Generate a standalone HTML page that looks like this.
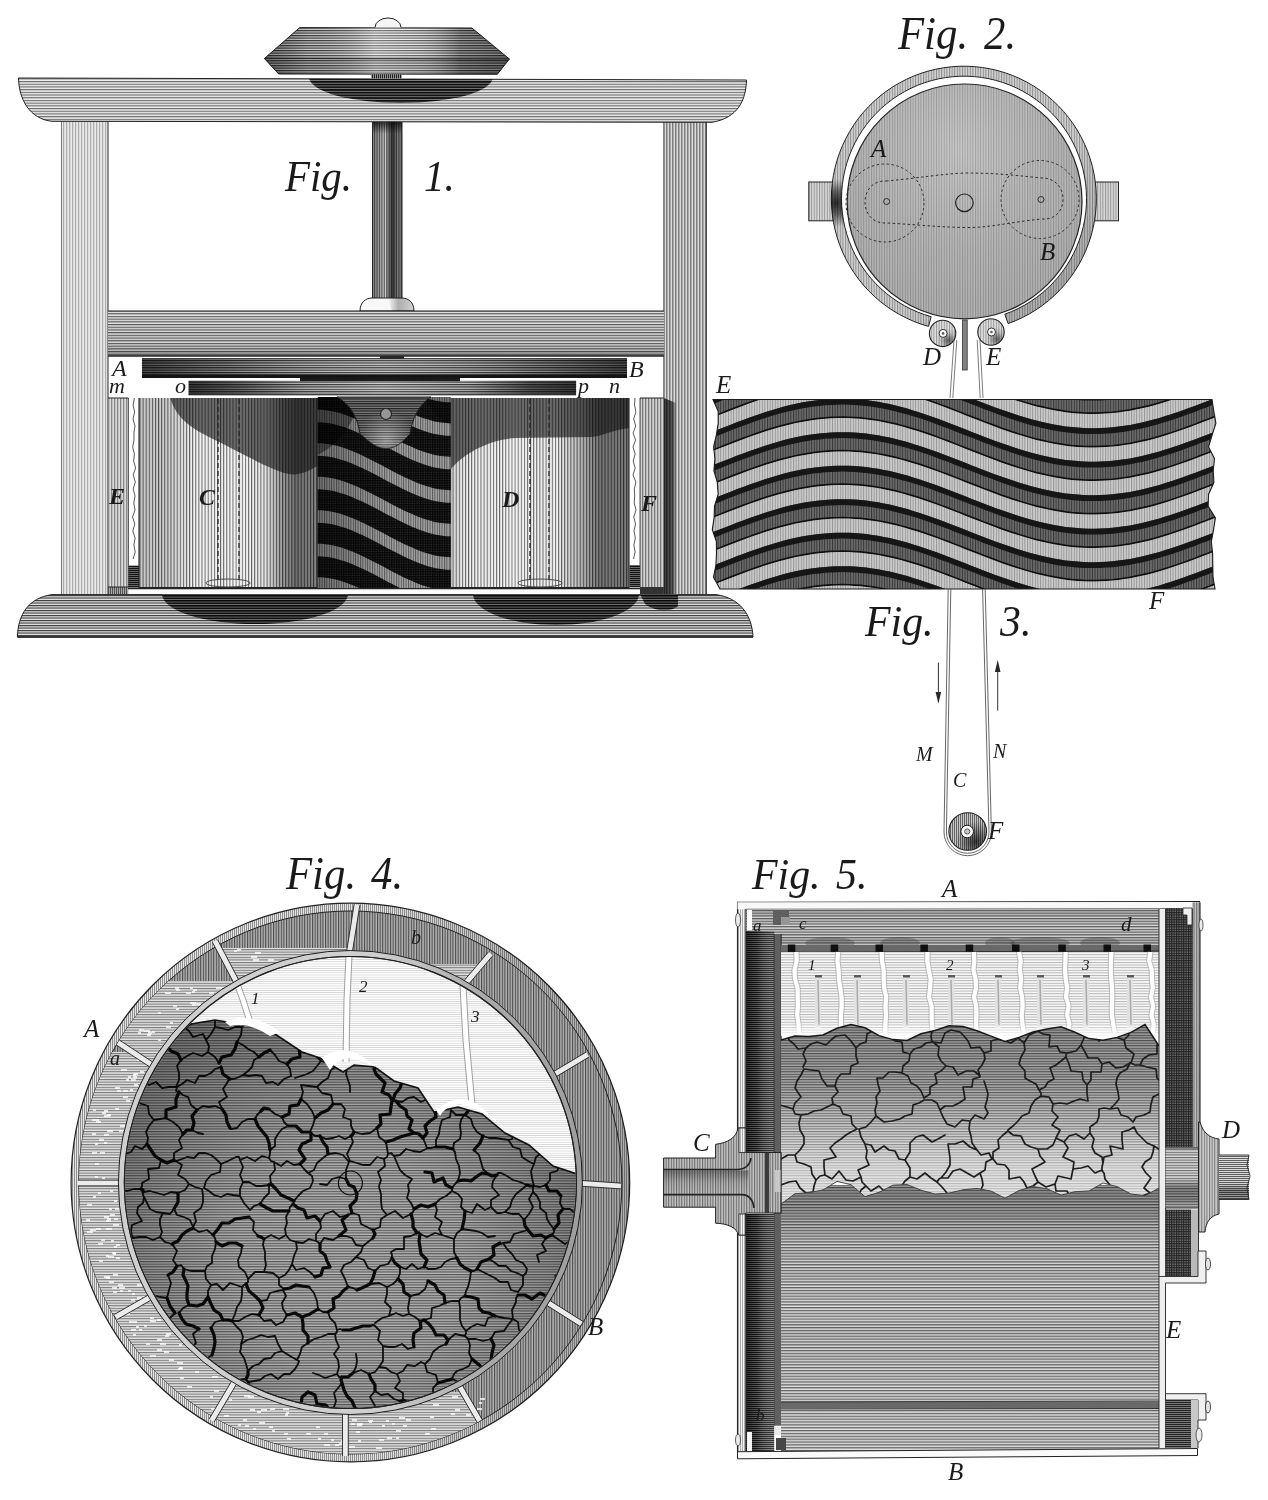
<!DOCTYPE html><html><head><meta charset="utf-8"><title>Plate</title><style>html,body{margin:0;padding:0;background:#fff}body{width:1268px;height:1500px;overflow:hidden;font-family:"Liberation Serif",serif}svg{display:block;filter:grayscale(1)}</style></head><body><svg width="1268" height="1500" viewBox="0 0 1268 1500" font-family="Liberation Serif, serif" font-style="italic" fill="#1a1a1a"><defs><pattern id="p0" width="3" height="8" patternUnits="userSpaceOnUse"><rect width="3" height="8" fill="#e8e8e8"/><rect width="1.2" height="8" fill="#acacac"/></pattern><pattern id="p1" width="3" height="8" patternUnits="userSpaceOnUse"><rect width="3" height="8" fill="#dadada"/><rect width="1.5" height="8" fill="#7d7d7d"/></pattern><linearGradient id="g0" x1="0" y1="0" x2="1" y2="0" gradientUnits="objectBoundingBox"><stop offset="0" stop-color="#000" stop-opacity="0.75"/><stop offset="0.7" stop-color="#000" stop-opacity="0.6"/><stop offset="1" stop-color="#000" stop-opacity="0.15"/></linearGradient><pattern id="p2" width="8" height="2.7" patternUnits="userSpaceOnUse"><rect width="8" height="2.7" fill="#f0f0f0"/><rect width="8" height="1.15" fill="#696969"/></pattern><clipPath id="c0"><path d="M18.5 78 L746.5 80 C746 100 738 118 712 122.3 L52 121.3 C30 119 19 100 18.5 78Z"/></clipPath><pattern id="p3" width="8" height="2.7" patternUnits="userSpaceOnUse"><rect width="8" height="2.7" fill="#828282"/><rect width="8" height="1.7" fill="#0a0a0a"/></pattern><pattern id="p4" width="8" height="2.5" patternUnits="userSpaceOnUse"><rect width="8" height="2.5" fill="#f0f0f0"/><rect width="8" height="1.25" fill="#3c3c3c"/></pattern><linearGradient id="g1" x1="0" y1="0" x2="1" y2="0" gradientUnits="objectBoundingBox"><stop offset="0" stop-color="#000" stop-opacity="0.45"/><stop offset="0.18" stop-color="#000" stop-opacity="0.12"/><stop offset="0.45" stop-color="#fff" stop-opacity="0.3"/><stop offset="0.62" stop-color="#fff" stop-opacity="0.15"/><stop offset="0.8" stop-color="#000" stop-opacity="0.3"/><stop offset="1" stop-color="#000" stop-opacity="0.45"/></linearGradient><pattern id="p5" width="2" height="8" patternUnits="userSpaceOnUse"><rect width="2" height="8" fill="#969696"/><rect width="1" height="8" fill="#1e1e1e"/></pattern><pattern id="p6" width="1.7" height="8" patternUnits="userSpaceOnUse"><rect width="1.7" height="8" fill="#ebebeb"/><rect width="0.8" height="8" fill="#5a5a5a"/></pattern><linearGradient id="g2" x1="0" y1="0" x2="1" y2="0" gradientUnits="objectBoundingBox"><stop offset="0" stop-color="#000" stop-opacity="0.42"/><stop offset="0.3" stop-color="#000" stop-opacity="0.2"/><stop offset="0.42" stop-color="#000" stop-opacity="0.08"/><stop offset="0.58" stop-color="#000" stop-opacity="0.5"/><stop offset="0.68" stop-color="#000" stop-opacity="0.72"/><stop offset="0.82" stop-color="#000" stop-opacity="0.45"/><stop offset="1" stop-color="#000" stop-opacity="0.4"/></linearGradient><linearGradient id="g3" x1="0" y1="0" x2="0" y2="1" gradientUnits="objectBoundingBox"><stop offset="0" stop-color="#000" stop-opacity="0.7"/><stop offset="1" stop-color="#000" stop-opacity="0"/></linearGradient><linearGradient id="g4" x1="0" y1="0" x2="1" y2="0" gradientUnits="objectBoundingBox"><stop offset="0" stop-color="#000" stop-opacity="0"/><stop offset="0.4" stop-color="#000" stop-opacity="0.3"/><stop offset="1" stop-color="#000" stop-opacity="0.15"/></linearGradient><pattern id="p7" width="8" height="2.7" patternUnits="userSpaceOnUse"><rect width="8" height="2.7" fill="#ebebeb"/><rect width="8" height="1.2" fill="#5a5a5a"/></pattern><linearGradient id="g5" x1="0" y1="0" x2="0" y2="1" gradientUnits="objectBoundingBox"><stop offset="0" stop-color="#000" stop-opacity="0"/><stop offset="0.75" stop-color="#000" stop-opacity="0.08"/><stop offset="1" stop-color="#000" stop-opacity="0.3"/></linearGradient><pattern id="p8" width="8" height="2.4" patternUnits="userSpaceOnUse"><rect width="8" height="2.4" fill="#cdcdcd"/><rect width="8" height="1.2" fill="#232323"/></pattern><linearGradient id="g6" x1="0" y1="0" x2="1" y2="0" gradientUnits="objectBoundingBox"><stop offset="0" stop-color="#000" stop-opacity="0.6"/><stop offset="0.2" stop-color="#000" stop-opacity="0.25"/><stop offset="0.5" stop-color="#fff" stop-opacity="0.12"/><stop offset="0.8" stop-color="#000" stop-opacity="0.25"/><stop offset="1" stop-color="#000" stop-opacity="0.6"/></linearGradient><pattern id="p9" width="8" height="2.4" patternUnits="userSpaceOnUse"><rect width="8" height="2.4" fill="#d7d7d7"/><rect width="8" height="1.15" fill="#323232"/></pattern><linearGradient id="g7" x1="0" y1="0" x2="1" y2="0" gradientUnits="objectBoundingBox"><stop offset="0" stop-color="#000" stop-opacity="0.7"/><stop offset="0.12" stop-color="#000" stop-opacity="0.5"/><stop offset="0.3" stop-color="#000" stop-opacity="0.1"/><stop offset="0.5" stop-color="#fff" stop-opacity="0.1"/><stop offset="0.72" stop-color="#000" stop-opacity="0.1"/><stop offset="0.88" stop-color="#000" stop-opacity="0.55"/><stop offset="1" stop-color="#000" stop-opacity="0.7"/></linearGradient><pattern id="p10" width="3" height="8" patternUnits="userSpaceOnUse"><rect width="3" height="8" fill="#dcdcdc"/><rect width="1.3" height="8" fill="#878787"/></pattern><pattern id="p11" width="2" height="8" patternUnits="userSpaceOnUse"><rect width="2" height="8" fill="#aaaaaa"/><rect width="1" height="8" fill="#505050"/></pattern><pattern id="p12" width="3" height="8" patternUnits="userSpaceOnUse"><rect width="3" height="8" fill="#d2d2d2"/><rect width="1.3" height="8" fill="#7a7a7a"/></pattern><pattern id="p13" width="8" height="2" patternUnits="userSpaceOnUse"><rect width="8" height="2" fill="#6e6e6e"/><rect width="8" height="1.1" fill="#141414"/></pattern><linearGradient id="g8" x1="0" y1="0" x2="1" y2="0" gradientUnits="objectBoundingBox"><stop offset="0" stop-color="#000" stop-opacity="0.2"/><stop offset="0.18" stop-color="#000" stop-opacity="0.15"/><stop offset="0.32" stop-color="#000" stop-opacity="0"/><stop offset="0.55" stop-color="#fff" stop-opacity="0.05"/><stop offset="0.7" stop-color="#000" stop-opacity="0.05"/><stop offset="0.8" stop-color="#000" stop-opacity="0.35"/><stop offset="0.88" stop-color="#000" stop-opacity="0.55"/><stop offset="1" stop-color="#000" stop-opacity="0.45"/></linearGradient><pattern id="p14" width="3.1" height="8" patternUnits="userSpaceOnUse"><rect width="3.1" height="8" fill="#f6f6f6"/><rect width="1" height="8" fill="#5f5f5f"/></pattern><clipPath id="c1"><rect x="139" y="398" width="178.7" height="189.6" fill="#000" /></clipPath><linearGradient id="g9" x1="0" y1="0" x2="1" y2="0" gradientUnits="objectBoundingBox"><stop offset="0" stop-color="#000" stop-opacity="0.12"/><stop offset="0.12" stop-color="#000" stop-opacity="0.02"/><stop offset="0.35" stop-color="#fff" stop-opacity="0.08"/><stop offset="0.6" stop-color="#000" stop-opacity="0.02"/><stop offset="0.74" stop-color="#000" stop-opacity="0.28"/><stop offset="0.84" stop-color="#000" stop-opacity="0.52"/><stop offset="1" stop-color="#000" stop-opacity="0.5"/></linearGradient><clipPath id="c2"><rect x="450.6" y="398" width="178.4" height="189.6" fill="#000" /></clipPath><clipPath id="c3"><rect x="317.7" y="397" width="132.9" height="191" fill="#000" /></clipPath><pattern id="p15" width="2.4" height="2.4" patternUnits="userSpaceOnUse"><rect width="2.4" height="2.4" fill="#323232"/><rect width="1.3" height="2.4" fill="#080808"/><rect width="2.4" height="1.3" fill="#080808"/></pattern><pattern id="p16" width="2.4" height="8" patternUnits="userSpaceOnUse"><rect width="2.4" height="8" fill="#a5a5a5"/><rect width="1" height="8" fill="#555555"/></pattern><linearGradient id="g10" x1="0" y1="0" x2="1" y2="0" gradientUnits="objectBoundingBox"><stop offset="0" stop-color="#000" stop-opacity="0.3"/><stop offset="1" stop-color="#000" stop-opacity="0"/></linearGradient><pattern id="p17" width="8" height="2.4" patternUnits="userSpaceOnUse"><rect width="8" height="2.4" fill="#aaaaaa"/><rect width="8" height="1.2" fill="#282828"/></pattern><radialGradient id="g11" cx="386" cy="440" r="30" gradientUnits="userSpaceOnUse" ><stop offset="0" stop-color="#fff" stop-opacity="0.3"/><stop offset="1" stop-color="#000" stop-opacity="0.25"/></radialGradient><pattern id="p18" width="8" height="2.5" patternUnits="userSpaceOnUse"><rect width="8" height="2.5" fill="#e8e8e8"/><rect width="8" height="1.15" fill="#373737"/></pattern><clipPath id="c4"><path d="M17.4 637 C18 615 28 598 52 594.6 L716 594.6 C740 598 752 615 753 637Z"/></clipPath><pattern id="p19" width="8" height="2.5" patternUnits="userSpaceOnUse"><rect width="8" height="2.5" fill="#787878"/><rect width="8" height="1.6" fill="#080808"/></pattern><pattern id="p20" width="2.6" height="8" patternUnits="userSpaceOnUse"><rect width="2.6" height="8" fill="#d7d7d7"/><rect width="1" height="8" fill="#969696"/></pattern><pattern id="p21" width="2.6" height="8" patternUnits="userSpaceOnUse"><rect width="2.6" height="8" fill="#d2d2d2"/><rect width="1" height="8" fill="#8c8c8c"/></pattern><radialGradient id="g12" cx="836" cy="203" r="24" gradientUnits="userSpaceOnUse" ><stop offset="0" stop-color="#000" stop-opacity="0.8"/><stop offset="0.5" stop-color="#000" stop-opacity="0.5"/><stop offset="1" stop-color="#000" stop-opacity="0"/></radialGradient><clipPath id="c5"><rect x="825" y="170" width="22" height="66" fill="#000" /></clipPath><linearGradient id="g13" x1="0" y1="0" x2="1" y2="1" gradientUnits="objectBoundingBox"><stop offset="0" stop-color="#000" stop-opacity="0"/><stop offset="0.6" stop-color="#000" stop-opacity="0"/><stop offset="1" stop-color="#000" stop-opacity="0.25"/></linearGradient><pattern id="p22" width="2.6" height="8" patternUnits="userSpaceOnUse"><rect width="2.6" height="8" fill="#c0c0c0"/><rect width="1" height="8" fill="#9b9b9b"/></pattern><radialGradient id="g14" cx="960" cy="150" r="150" gradientUnits="userSpaceOnUse" ><stop offset="0" stop-color="#fff" stop-opacity="0.12"/><stop offset="1" stop-color="#000" stop-opacity="0.08"/></radialGradient><pattern id="p23" width="2.6" height="8" patternUnits="userSpaceOnUse"><rect width="2.6" height="8" fill="#e1e1e1"/><rect width="1" height="8" fill="#969696"/></pattern><radialGradient id="g15" cx="948.6" cy="340.4" r="12" gradientUnits="userSpaceOnUse" ><stop offset="0" stop-color="#000" stop-opacity="0.55"/><stop offset="0.6" stop-color="#000" stop-opacity="0.12"/><stop offset="1" stop-color="#000" stop-opacity="0"/></radialGradient><radialGradient id="g16" cx="997" cy="339" r="12" gradientUnits="userSpaceOnUse" ><stop offset="0" stop-color="#000" stop-opacity="0.55"/><stop offset="0.6" stop-color="#000" stop-opacity="0.12"/><stop offset="1" stop-color="#000" stop-opacity="0"/></radialGradient><clipPath id="c6"><path d="M713.0 399.5 L718.2 411.3 L718.2 423.2 L716.4 435.0 L713.6 446.9 L714.9 458.7 L713.9 470.6 L717.3 482.4 L718.2 494.2 L714.5 506.1 L714.1 517.9 L712.3 529.8 L716.4 541.6 L716.5 553.5 L715.9 565.3 L713.5 577.2 L720.0 589.0 L1215.0 589.0 L1213.0 577.2 L1212.8 565.3 L1212.6 553.5 L1211.3 541.6 L1213.5 529.8 L1215.4 517.9 L1208.1 506.1 L1208.6 494.2 L1213.9 482.4 L1213.2 470.6 L1214.5 458.7 L1208.6 446.9 L1212.1 435.0 L1215.9 423.2 L1213.8 411.3 L1212.0 399.5Z"/></clipPath><pattern id="p24" width="2.6" height="8" patternUnits="userSpaceOnUse"><rect width="2.6" height="8" fill="#6c6c6c"/><rect width="1" height="8" fill="#373737"/></pattern><pattern id="p25" width="2.6" height="8" patternUnits="userSpaceOnUse"><rect width="2.6" height="8" fill="#cdcdcd"/><rect width="1" height="8" fill="#969696"/></pattern><pattern id="p26" width="2" height="8" patternUnits="userSpaceOnUse"><rect width="2" height="8" fill="#c8c8c8"/><rect width="1" height="8" fill="#646464"/></pattern><radialGradient id="g17" cx="975.7" cy="841.5" r="20" gradientUnits="userSpaceOnUse" ><stop offset="0" stop-color="#000" stop-opacity="0.7"/><stop offset="0.5" stop-color="#000" stop-opacity="0.35"/><stop offset="1" stop-color="#000" stop-opacity="0"/></radialGradient><pattern id="p27" width="2" height="8" patternUnits="userSpaceOnUse"><rect width="2" height="8" fill="#f0f0f0"/><rect width="1" height="8" fill="#969696"/></pattern><linearGradient id="g18" x1="0" y1="0" x2="1" y2="0" gradientUnits="objectBoundingBox"><stop offset="0" stop-color="#000" stop-opacity="0.05"/><stop offset="0.55" stop-color="#000" stop-opacity="0.05"/><stop offset="0.8" stop-color="#000" stop-opacity="0.22"/><stop offset="1" stop-color="#000" stop-opacity="0.28"/></linearGradient><pattern id="p28" width="2.6" height="8" patternUnits="userSpaceOnUse"><rect width="2.6" height="8" fill="#b4b4b4"/><rect width="1.1" height="8" fill="#4b4b4b"/></pattern><clipPath id="c7"><path fill-rule="evenodd" clip-rule="evenodd" d="M350.4 1182.5 m-271.5 0 a271.5 271.5 0 1 0 543 0 a271.5 271.5 0 1 0 -543 0 M350.4 1182.5 m-232 0 a232 232 0 1 0 464 0 a232 232 0 1 0 -464 0"/></clipPath><radialGradient id="g19" cx="470.4" cy="1032.5" r="170" gradientUnits="userSpaceOnUse" ><stop offset="0" stop-color="#fff" stop-opacity="0"/><stop offset="1" stop-color="#000" stop-opacity="0"/></radialGradient><pattern id="p29" width="8" height="2.6" patternUnits="userSpaceOnUse"><rect width="8" height="2.6" fill="#e4e4e4"/><rect width="8" height="1.1" fill="#787878"/></pattern><clipPath id="c8"><rect x="0" y="964" width="700" height="1600"/></clipPath><clipPath id="c9"><rect x="0" y="1392" width="700" height="1600"/></clipPath><clipPath id="c10"><rect x="0" y="0" width="700" height="1600"/></clipPath><clipPath id="c11"><rect x="0" y="0" width="700" height="1600"/></clipPath><clipPath id="c12"><rect x="0" y="0" width="700" height="1600"/></clipPath><clipPath id="c13"><rect x="0" y="1052" width="700" height="1600"/></clipPath><clipPath id="c14"><rect x="0" y="981" width="700" height="1600"/></clipPath><clipPath id="c15"><rect x="0" y="948" width="700" height="1600"/></clipPath><linearGradient id="g20" x1="0" y1="0" x2="1" y2="0" gradientUnits="objectBoundingBox"><stop offset="0" stop-color="#000" stop-opacity="0.08"/><stop offset="0.55" stop-color="#000" stop-opacity="0.08"/><stop offset="0.8" stop-color="#000" stop-opacity="0.25"/><stop offset="1" stop-color="#000" stop-opacity="0.3"/></linearGradient><pattern id="p30" width="8" height="2.2" patternUnits="userSpaceOnUse"><rect width="8" height="2.2" fill="#fefefe"/><rect width="8" height="0.8" fill="#d4d4d4"/></pattern><clipPath id="c16"><circle cx="350.4" cy="1182.5" r="225.4"/></clipPath><pattern id="p31" width="8" height="2.6" patternUnits="userSpaceOnUse"><rect width="8" height="2.6" fill="#bababa"/><rect width="8" height="1.2" fill="#585858"/></pattern><clipPath id="c17"><path d="M120.0 1120.0 L135.0 1080.0 L160.0 1045.0 L191.0 1024.0 L215.0 1020.0 L252.0 1026.0 L275.0 1034.0 L302.0 1052.0 L320.0 1058.0 L343.0 1072.0 L354.0 1065.0 L375.0 1067.0 L394.0 1081.0 L418.0 1088.0 L434.0 1112.0 L458.0 1107.0 L482.0 1114.0 L505.0 1133.0 L529.0 1145.0 L553.0 1166.0 L580.0 1175.0 L600.0 1200.0 L600.0 1440.0 L100.0 1440.0Z"/></clipPath><radialGradient id="g21" cx="350" cy="1260" r="320" gradientUnits="userSpaceOnUse" ><stop offset="0" stop-color="#000" stop-opacity="0"/><stop offset="0.35" stop-color="#000" stop-opacity="0.03"/><stop offset="0.6" stop-color="#000" stop-opacity="0.17"/><stop offset="0.8" stop-color="#000" stop-opacity="0.3"/><stop offset="1" stop-color="#000" stop-opacity="0.42"/></radialGradient><pattern id="p32" width="2" height="8" patternUnits="userSpaceOnUse"><rect width="2" height="8" fill="#f5f5f5"/><rect width="1" height="8" fill="#aaaaaa"/></pattern><pattern id="p33" width="2.6" height="8" patternUnits="userSpaceOnUse"><rect width="2.6" height="8" fill="#bebebe"/><rect width="1.2" height="8" fill="#787878"/></pattern><pattern id="p34" width="8" height="2.7" patternUnits="userSpaceOnUse"><rect width="8" height="2.7" fill="#e1e1e1"/><rect width="8" height="1.3" fill="#5f5f5f"/></pattern><linearGradient id="g22" x1="0" y1="0" x2="0" y2="1" gradientUnits="objectBoundingBox"><stop offset="0" stop-color="#000" stop-opacity="0.12"/><stop offset="0.5" stop-color="#000" stop-opacity="0"/><stop offset="1" stop-color="#000" stop-opacity="0.12"/></linearGradient><pattern id="p35" width="8" height="2" patternUnits="userSpaceOnUse"><rect width="8" height="2" fill="#787878"/><rect width="8" height="1" fill="#191919"/></pattern><linearGradient id="g23" x1="0" y1="0" x2="1" y2="0" gradientUnits="objectBoundingBox"><stop offset="0" stop-color="#000" stop-opacity="0.55"/><stop offset="0.4" stop-color="#000" stop-opacity="0.25"/><stop offset="1" stop-color="#fff" stop-opacity="0.12"/></linearGradient><pattern id="p36" width="8" height="2.6" patternUnits="userSpaceOnUse"><rect width="8" height="2.6" fill="#fafafa"/><rect width="8" height="1" fill="#b4b4b4"/></pattern><linearGradient id="g24" x1="0" y1="0" x2="0" y2="1" gradientUnits="objectBoundingBox"><stop offset="0" stop-color="#fff" stop-opacity="0"/><stop offset="1" stop-color="#fff" stop-opacity="0.9"/></linearGradient><pattern id="p37" width="8" height="2.86" patternUnits="userSpaceOnUse"><rect width="8" height="2.86" fill="#e4e4e4"/><rect width="8" height="1.35" fill="#646464"/></pattern><linearGradient id="g25" x1="0" y1="0" x2="0" y2="1" gradientUnits="objectBoundingBox"><stop offset="0" stop-color="#000" stop-opacity="0.32"/><stop offset="0.1" stop-color="#000" stop-opacity="0.28"/><stop offset="0.25" stop-color="#000" stop-opacity="0.08"/><stop offset="0.62" stop-color="#000" stop-opacity="0"/><stop offset="0.64" stop-color="#000" stop-opacity="0.05"/><stop offset="1" stop-color="#000" stop-opacity="0"/></linearGradient><pattern id="p38" width="8" height="2.86" patternUnits="userSpaceOnUse"><rect width="8" height="2.86" fill="#e1e1e1"/><rect width="8" height="1.3" fill="#646464"/></pattern><clipPath id="c18"><path d="M781.0 1040.0 L795.0 1036.1 L809.0 1036.5 L823.0 1034.9 L837.0 1028.3 L851.0 1024.5 L865.0 1027.8 L879.0 1035.6 L893.0 1039.6 L907.0 1040.4 L921.0 1033.8 L935.0 1030.5 L949.0 1025.8 L963.0 1026.5 L977.0 1030.8 L991.0 1036.1 L1005.0 1041.4 L1019.0 1037.4 L1033.0 1032.0 L1047.0 1028.9 L1061.0 1026.7 L1075.0 1032.2 L1089.0 1038.6 L1103.0 1040.2 L1117.0 1037.4 L1131.0 1032.4 L1145.0 1024.6 L1159.0 1046.0 L1159.0 1188.0 L1145.0 1195.7 L1131.0 1194.0 L1117.0 1186.6 L1103.0 1183.0 L1089.0 1190.9 L1075.0 1191.7 L1061.0 1195.1 L1047.0 1188.8 L1033.0 1186.6 L1019.0 1190.5 L1005.0 1198.2 L991.0 1191.1 L977.0 1188.4 L963.0 1189.8 L949.0 1193.1 L935.0 1194.0 L921.0 1190.2 L907.0 1184.5 L893.0 1185.2 L879.0 1192.3 L865.0 1196.6 L851.0 1184.7 L837.0 1181.4 L823.0 1189.9 L809.0 1192.7 L795.0 1193.7 L781.0 1204.0Z"/></clipPath><pattern id="p39" width="8" height="2.6" patternUnits="userSpaceOnUse"><rect width="8" height="2.6" fill="#cdcdcd"/><rect width="8" height="1.15" fill="#646464"/></pattern><linearGradient id="g26" x1="0" y1="0" x2="0" y2="1" gradientUnits="objectBoundingBox"><stop offset="0" stop-color="#000" stop-opacity="0.25"/><stop offset="0.35" stop-color="#000" stop-opacity="0.15"/><stop offset="0.6" stop-color="#fff" stop-opacity="0.15"/><stop offset="0.8" stop-color="#fff" stop-opacity="0.5"/><stop offset="1" stop-color="#fff" stop-opacity="0.6"/></linearGradient><pattern id="p40" width="2.4" height="2.4" patternUnits="userSpaceOnUse"><rect width="2.4" height="2.4" fill="#787878"/><rect width="1.1" height="2.4" fill="#232323"/><rect width="2.4" height="1.1" fill="#232323"/></pattern><pattern id="p41" width="8" height="2.6" patternUnits="userSpaceOnUse"><rect width="8" height="2.6" fill="#e4e4e4"/><rect width="8" height="1.1" fill="#6e6e6e"/></pattern><linearGradient id="g27" x1="0" y1="0" x2="0" y2="1" gradientUnits="objectBoundingBox"><stop offset="0" stop-color="#000" stop-opacity="0.05"/><stop offset="0.5" stop-color="#000" stop-opacity="0.03"/><stop offset="0.68" stop-color="#000" stop-opacity="0.4"/><stop offset="0.88" stop-color="#000" stop-opacity="0.35"/><stop offset="1" stop-color="#000" stop-opacity="0.12"/></linearGradient><pattern id="p42" width="2.6" height="8" patternUnits="userSpaceOnUse"><rect width="2.6" height="8" fill="#d2d2d2"/><rect width="1.1" height="8" fill="#787878"/></pattern><pattern id="p43" width="8" height="2" patternUnits="userSpaceOnUse"><rect width="8" height="2" fill="#e1e1e1"/><rect width="8" height="1" fill="#5f5f5f"/></pattern><linearGradient id="g28" x1="0" y1="0" x2="0" y2="1" gradientUnits="objectBoundingBox"><stop offset="0" stop-color="#000" stop-opacity="0"/><stop offset="0.65" stop-color="#000" stop-opacity="0.05"/><stop offset="0.8" stop-color="#000" stop-opacity="0.4"/><stop offset="1" stop-color="#000" stop-opacity="0.3"/></linearGradient><pattern id="p44" width="2.4" height="2.4" patternUnits="userSpaceOnUse"><rect width="2.4" height="2.4" fill="#7d7d7d"/><rect width="1.1" height="2.4" fill="#232323"/><rect width="2.4" height="1.1" fill="#232323"/></pattern><pattern id="p45" width="8" height="2" patternUnits="userSpaceOnUse"><rect width="8" height="2" fill="#787878"/><rect width="8" height="1" fill="#232323"/></pattern><pattern id="p46" width="2.6" height="8" patternUnits="userSpaceOnUse"><rect width="2.6" height="8" fill="#c6c6c6"/><rect width="1.1" height="8" fill="#696969"/></pattern><linearGradient id="g29" x1="0" y1="0" x2="0" y2="1" gradientUnits="objectBoundingBox"><stop offset="0" stop-color="#000" stop-opacity="0.35"/><stop offset="0.5" stop-color="#000" stop-opacity="0.08"/><stop offset="1" stop-color="#000" stop-opacity="0"/></linearGradient><linearGradient id="g30" x1="0" y1="0" x2="1" y2="0" gradientUnits="objectBoundingBox"><stop offset="0" stop-color="#000" stop-opacity="0.55"/><stop offset="0.4" stop-color="#000" stop-opacity="0.25"/><stop offset="1" stop-color="#fff" stop-opacity="0.12"/></linearGradient></defs><rect width="1268" height="1500" fill="#fff"/><rect x="61.5" y="121" width="46.5" height="474" fill="url(#p0)" />
<line x1="61.5" y1="121" x2="61.5" y2="594" stroke="#5a5a5a" stroke-width="0.8" />
<line x1="108" y1="121" x2="108" y2="594" stroke="#282828" stroke-width="1" />
<rect x="663.8" y="121" width="42.5" height="474" fill="url(#p1)" />
<line x1="663.8" y1="121" x2="663.8" y2="594" stroke="#3c3c3c" stroke-width="0.8" />
<line x1="706.3" y1="121" x2="706.3" y2="594" stroke="#282828" stroke-width="1" />
<path d="M663.8 398 L676 403 L676 594 L663.8 594Z" fill="url(#g0)" />
<path d="M18.5 78 L746.5 80 C746 100 738 118 712 122.3 L52 121.3 C30 119 19 100 18.5 78Z" fill="url(#p2)" stroke="#222" stroke-width="1" />
<g clip-path="url(#c0)"><ellipse cx="401" cy="77" rx="92" ry="26" fill="url(#p3)" /></g>
<path d="M299.7 27.6 L471.9 28 L509.4 59 L497.3 74.3 L278.7 74 L264.4 58.5Z" fill="url(#p4)" stroke="#222" stroke-width="1" />
<path d="M299.7 27.6 L471.9 28 L509.4 59 L497.3 74.3 L278.7 74 L264.4 58.5Z" fill="url(#g1)" />
<path d="M264.4 58.5 L509.4 59 L497.3 74.3 L278.7 74Z" fill="#000000" opacity="0.12"/>
<line x1="264.4" y1="58.5" x2="509.4" y2="59" stroke="#222" stroke-width="1" />
<path d="M375 27.5 A13 9.5 0 0 1 401 27.5" fill="#f5f5f5" stroke="#222" stroke-width="1" />
<rect x="371" y="74.3" width="31" height="4" fill="url(#p5)" />
<rect x="372.5" y="122" width="29.5" height="176" fill="url(#p6)" />
<rect x="372.5" y="122" width="29.5" height="176" fill="url(#g2)" />
<rect x="372.5" y="122" width="29.5" height="12" fill="url(#g3)" />
<line x1="372.5" y1="122" x2="372.5" y2="298" stroke="#222" stroke-width="1" />
<line x1="402" y1="122" x2="402" y2="298" stroke="#222" stroke-width="1" />
<path d="M360 311 C360 302 366 298 372 298 L402 298 C408 298 414 302 414 311Z" fill="#f8f8f8" stroke="#222" stroke-width="1" />
<path d="M388 298 L402 298 C408 298 414 302 414 311 L392 311Z" fill="url(#g4)" />
<rect x="108" y="311" width="556" height="45" fill="url(#p7)" />
<rect x="108" y="311" width="556" height="45" fill="url(#g5)" />
<line x1="108" y1="311" x2="664" y2="311" stroke="#222" stroke-width="1.2" />
<line x1="108" y1="356" x2="664" y2="356" stroke="#222" stroke-width="1.5" />
<rect x="142" y="358.7" width="485" height="19.3" fill="url(#p8)" />
<rect x="142" y="358.7" width="485" height="19.3" fill="url(#g6)" />
<rect x="142" y="374.5" width="485" height="3.5" fill="#141414" />
<line x1="142" y1="358.7" x2="627" y2="358.7" stroke="#222" stroke-width="1" />
<rect x="380" y="356" width="24" height="3" fill="#282828" />
<rect x="188.6" y="380.8" width="387.5" height="14" fill="url(#p9)" />
<rect x="188.6" y="380.8" width="387.5" height="14" fill="url(#g7)" />
<rect x="300" y="378" width="160" height="3.2" fill="#191919" />
<line x1="188.6" y1="394.8" x2="576" y2="394.8" stroke="#222" stroke-width="1" />
<rect x="108" y="398" width="20.4" height="189" fill="url(#p10)" />
<line x1="108" y1="398" x2="128.4" y2="398" stroke="#222" stroke-width="1" />
<line x1="128.4" y1="398" x2="128.4" y2="587" stroke="#222" stroke-width="0.8" />
<rect x="108" y="587" width="20.4" height="7" fill="url(#p11)" />
<line x1="108" y1="587" x2="139" y2="587" stroke="#222" stroke-width="1" />
<rect x="640" y="398" width="23.8" height="189" fill="url(#p12)" />
<line x1="640" y1="398" x2="663.8" y2="398" stroke="#222" stroke-width="1" />
<line x1="640" y1="398" x2="640" y2="587" stroke="#222" stroke-width="0.8" />
<rect x="640" y="587" width="23.8" height="7" fill="#323232" />
<rect x="128.4" y="565.5" width="10.6" height="22" fill="url(#p13)" />
<rect x="629.5" y="565" width="10.5" height="22.5" fill="url(#p13)" />
<path d="M134.4 398.0 L133.1 405.0 L134.6 412.0 L133.0 419.0 L135.0 426.0 L133.9 433.0 L134.0 440.0 L132.7 447.0 L134.4 454.0 L133.6 461.0 L135.6 468.0 L133.2 475.0 L135.3 482.0 L133.2 489.0 L135.0 496.0 L133.8 503.0 L135.0 510.0 L132.6 517.0 L134.8 524.0 L132.8 531.0 L135.1 538.0 L133.9 545.0 L135.2 552.0 L133.1 559.0" fill="none" stroke="#464646" stroke-width="0.9" />
<path d="M635.0 398.0 L634.5 405.0 L635.9 412.0 L633.7 419.0 L635.7 426.0 L633.1 433.0 L635.6 440.0 L633.0 447.0 L635.1 454.0 L633.2 461.0 L635.2 468.0 L633.0 475.0 L635.9 482.0 L634.3 489.0 L634.7 496.0 L634.2 503.0 L636.0 510.0 L633.8 517.0 L635.5 524.0 L634.0 531.0 L635.3 538.0 L633.9 545.0 L635.1 552.0 L633.6 559.0" fill="none" stroke="#464646" stroke-width="0.9" />
<rect x="139" y="398" width="178.7" height="189.6" fill="url(#p14)" /><rect x="139" y="398" width="178.7" height="189.6" fill="url(#g8)" /><g clip-path="url(#c1)"><path d="M170 397 C176 420 195 430 213 439 C240 452 270 470 289 474 C300 476 310 470 318 466 L318 397Z" fill="#0f0f0f" opacity="0.6"/></g><path d="M139 398 L139 587.6 L317.7 587.6 L317.7 398" fill="none" stroke="#222" stroke-width="1.1" />
<rect x="450.6" y="398" width="178.4" height="189.6" fill="url(#p14)" /><rect x="450.6" y="398" width="178.4" height="189.6" fill="url(#g9)" /><g clip-path="url(#c2)"><path d="M450 397 L450 470 C465 452 490 440 515 438 L590 437 C600 437 612 430 629 428 L629 397Z" fill="#0f0f0f" opacity="0.6"/></g><path d="M450.6 398 L450.6 587.6 L629 587.6 L629 398" fill="none" stroke="#222" stroke-width="1.1" />
<line x1="218" y1="399" x2="218" y2="580" stroke="#282828" stroke-width="1.3" stroke-dasharray="5 3"/>
<line x1="239" y1="399" x2="239" y2="580" stroke="#282828" stroke-width="1.3" stroke-dasharray="5 3"/>
<ellipse cx="228" cy="583" rx="22" ry="4" fill="none" stroke="#3c3c3c" stroke-width="0.9" />
<line x1="530" y1="399" x2="530" y2="580" stroke="#282828" stroke-width="1.3" stroke-dasharray="5 3"/>
<line x1="549" y1="399" x2="549" y2="580" stroke="#282828" stroke-width="1.3" stroke-dasharray="5 3"/>
<ellipse cx="540" cy="583" rx="22" ry="4" fill="none" stroke="#3c3c3c" stroke-width="0.9" />
<g clip-path="url(#c3)"><rect x="317.7" y="397" width="132.9" height="191" fill="url(#p15)" /><path d="M315.7 275.7 L321.7 275.8 L327.6 276.4 L333.6 277.5 L339.5 279.1 L345.5 281.0 L351.4 283.2 L357.4 285.8 L363.3 288.5 L369.3 291.4 L375.2 294.5 L381.2 297.6 L387.1 300.8 L393.1 303.9 L399.0 307.0 L405.0 309.9 L410.9 312.6 L416.9 315.2 L422.8 317.4 L428.8 319.3 L434.7 320.9 L440.7 322.0 L446.6 322.6 L452.6 322.7 L452.6 335.3 L446.6 335.2 L440.7 334.6 L434.7 333.5 L428.8 331.9 L422.8 330.0 L416.9 327.8 L410.9 325.2 L405.0 322.5 L399.0 319.6 L393.1 316.5 L387.1 313.4 L381.2 310.2 L375.2 307.1 L369.3 304.0 L363.3 301.1 L357.4 298.4 L351.4 295.8 L345.5 293.6 L339.5 291.7 L333.6 290.1 L327.6 289.0 L321.7 288.4 L315.7 288.3Z" fill="url(#p16)" /><path d="M315.7 309.2 L321.7 309.3 L327.6 309.9 L333.6 311.0 L339.5 312.6 L345.5 314.5 L351.4 316.7 L357.4 319.3 L363.3 322.0 L369.3 324.9 L375.2 328.0 L381.2 331.1 L387.1 334.3 L393.1 337.4 L399.0 340.5 L405.0 343.4 L410.9 346.1 L416.9 348.7 L422.8 350.9 L428.8 352.8 L434.7 354.4 L440.7 355.5 L446.6 356.1 L452.6 356.2 L452.6 368.8 L446.6 368.7 L440.7 368.1 L434.7 367.0 L428.8 365.4 L422.8 363.5 L416.9 361.3 L410.9 358.7 L405.0 356.0 L399.0 353.1 L393.1 350.0 L387.1 346.9 L381.2 343.7 L375.2 340.6 L369.3 337.5 L363.3 334.6 L357.4 331.9 L351.4 329.3 L345.5 327.1 L339.5 325.2 L333.6 323.6 L327.6 322.5 L321.7 321.9 L315.7 321.8Z" fill="url(#p16)" /><path d="M315.7 342.7 L321.7 342.8 L327.6 343.4 L333.6 344.5 L339.5 346.1 L345.5 348.0 L351.4 350.2 L357.4 352.8 L363.3 355.5 L369.3 358.4 L375.2 361.5 L381.2 364.6 L387.1 367.8 L393.1 370.9 L399.0 374.0 L405.0 376.9 L410.9 379.6 L416.9 382.2 L422.8 384.4 L428.8 386.3 L434.7 387.9 L440.7 389.0 L446.6 389.6 L452.6 389.7 L452.6 402.3 L446.6 402.2 L440.7 401.6 L434.7 400.5 L428.8 398.9 L422.8 397.0 L416.9 394.8 L410.9 392.2 L405.0 389.5 L399.0 386.6 L393.1 383.5 L387.1 380.4 L381.2 377.2 L375.2 374.1 L369.3 371.0 L363.3 368.1 L357.4 365.4 L351.4 362.8 L345.5 360.6 L339.5 358.7 L333.6 357.1 L327.6 356.0 L321.7 355.4 L315.7 355.3Z" fill="url(#p16)" /><path d="M315.7 376.2 L321.7 376.3 L327.6 376.9 L333.6 378.0 L339.5 379.6 L345.5 381.5 L351.4 383.7 L357.4 386.3 L363.3 389.0 L369.3 391.9 L375.2 395.0 L381.2 398.1 L387.1 401.3 L393.1 404.4 L399.0 407.5 L405.0 410.4 L410.9 413.1 L416.9 415.7 L422.8 417.9 L428.8 419.8 L434.7 421.4 L440.7 422.5 L446.6 423.1 L452.6 423.2 L452.6 435.8 L446.6 435.7 L440.7 435.1 L434.7 434.0 L428.8 432.4 L422.8 430.5 L416.9 428.3 L410.9 425.7 L405.0 423.0 L399.0 420.1 L393.1 417.0 L387.1 413.9 L381.2 410.7 L375.2 407.6 L369.3 404.5 L363.3 401.6 L357.4 398.9 L351.4 396.3 L345.5 394.1 L339.5 392.2 L333.6 390.6 L327.6 389.5 L321.7 388.9 L315.7 388.8Z" fill="url(#p16)" /><path d="M315.7 409.7 L321.7 409.8 L327.6 410.4 L333.6 411.5 L339.5 413.1 L345.5 415.0 L351.4 417.2 L357.4 419.8 L363.3 422.5 L369.3 425.4 L375.2 428.5 L381.2 431.6 L387.1 434.8 L393.1 437.9 L399.0 441.0 L405.0 443.9 L410.9 446.6 L416.9 449.2 L422.8 451.4 L428.8 453.3 L434.7 454.9 L440.7 456.0 L446.6 456.6 L452.6 456.7 L452.6 469.3 L446.6 469.2 L440.7 468.6 L434.7 467.5 L428.8 465.9 L422.8 464.0 L416.9 461.8 L410.9 459.2 L405.0 456.5 L399.0 453.6 L393.1 450.5 L387.1 447.4 L381.2 444.2 L375.2 441.1 L369.3 438.0 L363.3 435.1 L357.4 432.4 L351.4 429.8 L345.5 427.6 L339.5 425.7 L333.6 424.1 L327.6 423.0 L321.7 422.4 L315.7 422.3Z" fill="url(#p16)" /><path d="M315.7 443.2 L321.7 443.3 L327.6 443.9 L333.6 445.0 L339.5 446.6 L345.5 448.5 L351.4 450.7 L357.4 453.3 L363.3 456.0 L369.3 458.9 L375.2 462.0 L381.2 465.1 L387.1 468.3 L393.1 471.4 L399.0 474.5 L405.0 477.4 L410.9 480.1 L416.9 482.7 L422.8 484.9 L428.8 486.8 L434.7 488.4 L440.7 489.5 L446.6 490.1 L452.6 490.2 L452.6 502.8 L446.6 502.7 L440.7 502.1 L434.7 501.0 L428.8 499.4 L422.8 497.5 L416.9 495.3 L410.9 492.7 L405.0 490.0 L399.0 487.1 L393.1 484.0 L387.1 480.9 L381.2 477.7 L375.2 474.6 L369.3 471.5 L363.3 468.6 L357.4 465.9 L351.4 463.3 L345.5 461.1 L339.5 459.2 L333.6 457.6 L327.6 456.5 L321.7 455.9 L315.7 455.8Z" fill="url(#p16)" /><path d="M315.7 476.7 L321.7 476.8 L327.6 477.4 L333.6 478.5 L339.5 480.1 L345.5 482.0 L351.4 484.2 L357.4 486.8 L363.3 489.5 L369.3 492.4 L375.2 495.5 L381.2 498.6 L387.1 501.8 L393.1 504.9 L399.0 508.0 L405.0 510.9 L410.9 513.6 L416.9 516.2 L422.8 518.4 L428.8 520.3 L434.7 521.9 L440.7 523.0 L446.6 523.6 L452.6 523.7 L452.6 536.3 L446.6 536.2 L440.7 535.6 L434.7 534.5 L428.8 532.9 L422.8 531.0 L416.9 528.8 L410.9 526.2 L405.0 523.5 L399.0 520.6 L393.1 517.5 L387.1 514.4 L381.2 511.2 L375.2 508.1 L369.3 505.0 L363.3 502.1 L357.4 499.4 L351.4 496.8 L345.5 494.6 L339.5 492.7 L333.6 491.1 L327.6 490.0 L321.7 489.4 L315.7 489.3Z" fill="url(#p16)" /><path d="M315.7 510.2 L321.7 510.3 L327.6 510.9 L333.6 512.0 L339.5 513.6 L345.5 515.5 L351.4 517.7 L357.4 520.3 L363.3 523.0 L369.3 525.9 L375.2 529.0 L381.2 532.1 L387.1 535.3 L393.1 538.4 L399.0 541.5 L405.0 544.4 L410.9 547.1 L416.9 549.7 L422.8 551.9 L428.8 553.8 L434.7 555.4 L440.7 556.5 L446.6 557.1 L452.6 557.2 L452.6 569.8 L446.6 569.7 L440.7 569.1 L434.7 568.0 L428.8 566.4 L422.8 564.5 L416.9 562.3 L410.9 559.7 L405.0 557.0 L399.0 554.1 L393.1 551.0 L387.1 547.9 L381.2 544.7 L375.2 541.6 L369.3 538.5 L363.3 535.6 L357.4 532.9 L351.4 530.3 L345.5 528.1 L339.5 526.2 L333.6 524.6 L327.6 523.5 L321.7 522.9 L315.7 522.8Z" fill="url(#p16)" /><path d="M315.7 543.7 L321.7 543.8 L327.6 544.4 L333.6 545.5 L339.5 547.1 L345.5 549.0 L351.4 551.2 L357.4 553.8 L363.3 556.5 L369.3 559.4 L375.2 562.5 L381.2 565.6 L387.1 568.8 L393.1 571.9 L399.0 575.0 L405.0 577.9 L410.9 580.6 L416.9 583.2 L422.8 585.4 L428.8 587.3 L434.7 588.9 L440.7 590.0 L446.6 590.6 L452.6 590.7 L452.6 603.3 L446.6 603.2 L440.7 602.6 L434.7 601.5 L428.8 599.9 L422.8 598.0 L416.9 595.8 L410.9 593.2 L405.0 590.5 L399.0 587.6 L393.1 584.5 L387.1 581.4 L381.2 578.2 L375.2 575.1 L369.3 572.0 L363.3 569.1 L357.4 566.4 L351.4 563.8 L345.5 561.6 L339.5 559.7 L333.6 558.1 L327.6 557.0 L321.7 556.4 L315.7 556.3Z" fill="url(#p16)" /><path d="M315.7 577.2 L321.7 577.3 L327.6 577.9 L333.6 579.0 L339.5 580.6 L345.5 582.5 L351.4 584.7 L357.4 587.3 L363.3 590.0 L369.3 592.9 L375.2 596.0 L381.2 599.1 L387.1 602.3 L393.1 605.4 L399.0 608.5 L405.0 611.4 L410.9 614.1 L416.9 616.7 L422.8 618.9 L428.8 620.8 L434.7 622.4 L440.7 623.5 L446.6 624.1 L452.6 624.2 L452.6 636.8 L446.6 636.7 L440.7 636.1 L434.7 635.0 L428.8 633.4 L422.8 631.5 L416.9 629.3 L410.9 626.7 L405.0 624.0 L399.0 621.1 L393.1 618.0 L387.1 614.9 L381.2 611.7 L375.2 608.6 L369.3 605.5 L363.3 602.6 L357.4 599.9 L351.4 597.3 L345.5 595.1 L339.5 593.2 L333.6 591.6 L327.6 590.5 L321.7 589.9 L315.7 589.8Z" fill="url(#p16)" /><rect x="317.7" y="397" width="70" height="200" fill="url(#g10)" /><path d="M317 397 L360 397 C356 420 340 445 317 455Z" fill="#000000" opacity="0.4"/><path d="M451 397 L425 397 C430 410 440 420 451 425Z" fill="#000000" opacity="0.25"/></g>
<path d="M337 397 L431 397 C418 405 412 420 410 434 C404 440 398 448 386 448.5 C374 448 368 440 360 434 C358 420 352 405 337 397Z" fill="url(#p17)" stroke="#222" stroke-width="1" />
<path d="M337 397 L431 397 C418 405 412 420 410 434 C404 440 398 448 386 448.5 C374 448 368 440 360 434 C358 420 352 405 337 397Z" fill="url(#g11)" />
<circle cx="386" cy="414" r="5.5" fill="#969696" stroke="#222" stroke-width="1.2" />
<rect x="128.4" y="589.2" width="511.6" height="5" fill="#fafafa" />
<line x1="128" y1="588.6" x2="640" y2="588.6" stroke="#222" stroke-width="1.3" />
<path d="M17.4 637 C18 615 28 598 52 594.6 L716 594.6 C740 598 752 615 753 637Z" fill="url(#p18)" stroke="#222" stroke-width="1" />
<g clip-path="url(#c4)"><ellipse cx="255" cy="594" rx="93" ry="30" fill="url(#p19)" /><ellipse cx="556" cy="594" rx="83" ry="31" fill="url(#p19)" /><path d="M640 594 L678 594 L678 606 C672 612 655 612 645 604Z" fill="url(#p19)" /></g>
<line x1="17.4" y1="637" x2="753" y2="637" stroke="#222" stroke-width="1.5" />
<text transform="translate(285 190.5) scale(0.93 1)" font-size="44" >Fig.</text>
<text transform="translate(424 190.5) scale(0.93 1)" font-size="44" >1.</text>
<text x="112" y="376" font-size="24" >A</text>
<text x="109" y="393" font-size="22" >m</text>
<text x="175" y="393" font-size="22" >o</text>
<text x="109" y="503.5" font-size="24" font-weight="bold">E</text>
<text x="199" y="504.5" font-size="24" font-weight="bold">C</text>
<text x="629" y="377" font-size="24" >B</text>
<text x="578" y="393" font-size="22" >p</text>
<text x="609" y="393" font-size="22" >n</text>
<text x="502" y="507" font-size="24" font-weight="bold">D</text>
<text x="641" y="511" font-size="24" font-weight="bold">F</text>
<rect x="808.8" y="182" width="26" height="38.8" fill="url(#p20)" stroke="#222" stroke-width="1"/>
<rect x="1093" y="182" width="25.5" height="38.8" fill="url(#p20)" stroke="#222" stroke-width="1"/>
<path d="M928.5 326.4 A132.5 132.5 0 1 1 1008.1 323.6 L1004.8 314.2 A122.5 122.5 0 1 0 931.2 316.7Z" fill="url(#p21)" stroke="#222" stroke-width="1" />
<path d="M928.5 326.4 A132.5 132.5 0 1 1 1008.1 323.6 L1004.8 314.2 A122.5 122.5 0 1 0 931.2 316.7Z" fill="url(#g12)" clip-path="url(#c5)"/>
<path d="M928.5 326.4 A132.5 132.5 0 1 1 1008.1 323.6 L1004.8 314.2 A122.5 122.5 0 1 0 931.2 316.7Z" fill="url(#g13)" />
<circle cx="964.6" cy="201.4" r="117.4" fill="url(#p22)" stroke="#222" stroke-width="1.2" />
<circle cx="964.6" cy="201.4" r="117.4" fill="url(#g14)" />
<circle cx="885" cy="203" r="39" fill="none" stroke="#2d2d2d" stroke-width="1" stroke-dasharray="2.5 2.5"/>
<circle cx="1040" cy="199.5" r="39" fill="none" stroke="#2d2d2d" stroke-width="1" stroke-dasharray="2.5 2.5"/>
<path d="M886 181 C920 178 940 174 965 173 C1000 173 1020 176 1042 178 C1070 178 1070 221 1042 219 C1010 222 990 228 965 227.5 C935 227 910 224 886 223 C858 224 858 180 886 181Z" fill="none" stroke="#2d2d2d" stroke-width="1" stroke-dasharray="2.5 2.5"/>
<circle cx="964.4" cy="202.8" r="8.8" fill="none" stroke="#222" stroke-width="1.2" />
<circle cx="886.6" cy="201.5" r="3" fill="none" stroke="#222" stroke-width="0.9" />
<circle cx="1041" cy="199.5" r="3" fill="none" stroke="#222" stroke-width="0.9" />
<circle cx="942.6" cy="333.4" r="13.2" fill="url(#p23)" stroke="#222" stroke-width="1.1" />
<circle cx="942.6" cy="333.4" r="13.2" fill="url(#g15)" />
<circle cx="943.1" cy="333.4" r="4" fill="#fafafa" stroke="#222" stroke-width="0.9" />
<circle cx="943.1" cy="333.4" r="1.3" fill="#5a5a5a" />
<circle cx="991" cy="332" r="13.2" fill="url(#p23)" stroke="#222" stroke-width="1.1" />
<circle cx="991" cy="332" r="13.2" fill="url(#g16)" />
<circle cx="991.5" cy="332" r="4" fill="#fafafa" stroke="#222" stroke-width="0.9" />
<circle cx="991.5" cy="332" r="1.3" fill="#5a5a5a" />
<rect x="962.5" y="320" width="4.7" height="50" fill="#828282" stroke="#333" stroke-width="0.8"/>
<line x1="954" y1="340" x2="950" y2="398" stroke="#5a5a5a" stroke-width="0.8" />
<line x1="956.8" y1="340" x2="952.8" y2="398" stroke="#5a5a5a" stroke-width="0.8" />
<line x1="977.2" y1="340" x2="980.2" y2="398" stroke="#5a5a5a" stroke-width="0.8" />
<line x1="980" y1="340" x2="983" y2="398" stroke="#5a5a5a" stroke-width="0.8" />
<text transform="translate(898 48.5) scale(0.93 1)" font-size="46" >Fig.</text>
<text transform="translate(984 48.5) scale(0.93 1)" font-size="46" >2.</text>
<text x="871" y="157" font-size="25" >A</text>
<text x="1040" y="260" font-size="25" >B</text>
<text x="923" y="365" font-size="25" >D</text>
<text x="986" y="365" font-size="25" >E</text>
<g clip-path="url(#c6)"><rect x="702" y="399.5" width="522" height="189.5" fill="url(#p24)" /><path d="M702.0 321.2 L707.9 318.9 L713.7 316.6 L719.6 314.3 L725.5 312.0 L731.3 309.7 L737.2 307.4 L743.1 305.2 L748.9 303.1 L754.8 301.0 L760.7 299.0 L766.5 297.0 L772.4 295.2 L778.2 293.5 L784.1 291.9 L790.0 290.4 L795.8 289.1 L801.7 287.9 L807.6 286.9 L813.4 286.0 L819.3 285.3 L825.2 284.7 L831.0 284.3 L836.9 284.1 L842.8 284.0 L848.6 284.1 L854.5 284.4 L860.4 284.8 L866.2 285.4 L872.1 286.2 L878.0 287.1 L883.8 288.2 L889.7 289.4 L895.6 290.8 L901.4 292.3 L907.3 293.9 L913.1 295.7 L919.0 297.5 L924.9 299.5 L930.7 301.5 L936.6 303.6 L942.5 305.8 L948.3 308.0 L954.2 310.3 L960.1 312.6 L965.9 314.9 L971.8 317.2 L977.7 319.5 L983.5 321.8 L989.4 324.0 L995.3 326.2 L1001.1 328.4 L1007.0 330.4 L1012.9 332.4 L1018.7 334.3 L1024.6 336.1 L1030.4 337.8 L1036.3 339.4 L1042.2 340.8 L1048.0 342.1 L1053.9 343.3 L1059.8 344.3 L1065.6 345.2 L1071.5 345.9 L1077.4 346.4 L1083.2 346.8 L1089.1 347.0 L1095.0 347.0 L1100.8 346.8 L1106.7 346.5 L1112.6 346.1 L1118.4 345.4 L1124.3 344.6 L1130.2 343.7 L1136.0 342.5 L1141.9 341.3 L1147.8 339.9 L1153.6 338.4 L1159.5 336.7 L1165.3 334.9 L1171.2 333.1 L1177.1 331.1 L1182.9 329.1 L1188.8 326.9 L1194.7 324.8 L1200.5 322.5 L1206.4 320.3 L1212.3 318.0 L1218.1 315.6 L1224.0 313.3 L1224.0 327.5 L1218.1 329.8 L1212.3 332.2 L1206.4 334.5 L1200.5 336.7 L1194.7 339.0 L1188.8 341.1 L1182.9 343.3 L1177.1 345.3 L1171.2 347.3 L1165.3 349.1 L1159.5 350.9 L1153.6 352.6 L1147.8 354.1 L1141.9 355.5 L1136.0 356.7 L1130.2 357.9 L1124.3 358.8 L1118.4 359.6 L1112.6 360.3 L1106.7 360.7 L1100.8 361.0 L1095.0 361.2 L1089.1 361.2 L1083.2 361.0 L1077.4 360.6 L1071.5 360.1 L1065.6 359.4 L1059.8 358.5 L1053.9 357.5 L1048.0 356.3 L1042.2 355.0 L1036.3 353.6 L1030.4 352.0 L1024.6 350.3 L1018.7 348.5 L1012.9 346.6 L1007.0 344.6 L1001.1 342.6 L995.3 340.4 L989.4 338.2 L983.5 336.0 L977.7 333.7 L971.8 331.4 L965.9 329.1 L960.1 326.8 L954.2 324.5 L948.3 322.2 L942.5 320.0 L936.6 317.8 L930.7 315.7 L924.9 313.7 L919.0 311.7 L913.1 309.9 L907.3 308.1 L901.4 306.5 L895.6 305.0 L889.7 303.6 L883.8 302.4 L878.0 301.3 L872.1 300.4 L866.2 299.6 L860.4 299.0 L854.5 298.6 L848.6 298.3 L842.8 298.2 L836.9 298.3 L831.0 298.5 L825.2 298.9 L819.3 299.5 L813.4 300.2 L807.6 301.1 L801.7 302.1 L795.8 303.3 L790.0 304.6 L784.1 306.1 L778.2 307.7 L772.4 309.4 L766.5 311.2 L760.7 313.2 L754.8 315.2 L748.9 317.3 L743.1 319.4 L737.2 321.6 L731.3 323.9 L725.5 326.2 L719.6 328.5 L713.7 330.8 L707.9 333.1 L702.0 335.4Z" fill="url(#p25)" /><path d="M702.0 335.4 L707.9 333.1 L713.7 330.8 L719.6 328.5 L725.5 326.2 L731.3 323.9 L737.2 321.6 L743.1 319.4 L748.9 317.3 L754.8 315.2 L760.7 313.2 L766.5 311.2 L772.4 309.4 L778.2 307.7 L784.1 306.1 L790.0 304.6 L795.8 303.3 L801.7 302.1 L807.6 301.1 L813.4 300.2 L819.3 299.5 L825.2 298.9 L831.0 298.5 L836.9 298.3 L842.8 298.2 L848.6 298.3 L854.5 298.6 L860.4 299.0 L866.2 299.6 L872.1 300.4 L878.0 301.3 L883.8 302.4 L889.7 303.6 L895.6 305.0 L901.4 306.5 L907.3 308.1 L913.1 309.9 L919.0 311.7 L924.9 313.7 L930.7 315.7 L936.6 317.8 L942.5 320.0 L948.3 322.2 L954.2 324.5 L960.1 326.8 L965.9 329.1 L971.8 331.4 L977.7 333.7 L983.5 336.0 L989.4 338.2 L995.3 340.4 L1001.1 342.6 L1007.0 344.6 L1012.9 346.6 L1018.7 348.5 L1024.6 350.3 L1030.4 352.0 L1036.3 353.6 L1042.2 355.0 L1048.0 356.3 L1053.9 357.5 L1059.8 358.5 L1065.6 359.4 L1071.5 360.1 L1077.4 360.6 L1083.2 361.0 L1089.1 361.2 L1095.0 361.2 L1100.8 361.0 L1106.7 360.7 L1112.6 360.3 L1118.4 359.6 L1124.3 358.8 L1130.2 357.9 L1136.0 356.7 L1141.9 355.5 L1147.8 354.1 L1153.6 352.6 L1159.5 350.9 L1165.3 349.1 L1171.2 347.3 L1177.1 345.3 L1182.9 343.3 L1188.8 341.1 L1194.7 339.0 L1200.5 336.7 L1206.4 334.5 L1212.3 332.2 L1218.1 329.8 L1224.0 327.5 L1224.0 333.4 L1218.1 335.7 L1212.3 338.1 L1206.4 340.4 L1200.5 342.6 L1194.7 344.9 L1188.8 347.0 L1182.9 349.2 L1177.1 351.2 L1171.2 353.2 L1165.3 355.0 L1159.5 356.8 L1153.6 358.5 L1147.8 360.0 L1141.9 361.4 L1136.0 362.6 L1130.2 363.8 L1124.3 364.7 L1118.4 365.5 L1112.6 366.2 L1106.7 366.6 L1100.8 366.9 L1095.0 367.1 L1089.1 367.1 L1083.2 366.9 L1077.4 366.5 L1071.5 366.0 L1065.6 365.3 L1059.8 364.4 L1053.9 363.4 L1048.0 362.2 L1042.2 360.9 L1036.3 359.5 L1030.4 357.9 L1024.6 356.2 L1018.7 354.4 L1012.9 352.5 L1007.0 350.5 L1001.1 348.5 L995.3 346.3 L989.4 344.1 L983.5 341.9 L977.7 339.6 L971.8 337.3 L965.9 335.0 L960.1 332.7 L954.2 330.4 L948.3 328.1 L942.5 325.9 L936.6 323.7 L930.7 321.6 L924.9 319.6 L919.0 317.6 L913.1 315.8 L907.3 314.0 L901.4 312.4 L895.6 310.9 L889.7 309.5 L883.8 308.3 L878.0 307.2 L872.1 306.3 L866.2 305.5 L860.4 304.9 L854.5 304.5 L848.6 304.2 L842.8 304.1 L836.9 304.2 L831.0 304.4 L825.2 304.8 L819.3 305.4 L813.4 306.1 L807.6 307.0 L801.7 308.0 L795.8 309.2 L790.0 310.5 L784.1 312.0 L778.2 313.6 L772.4 315.3 L766.5 317.1 L760.7 319.1 L754.8 321.1 L748.9 323.2 L743.1 325.3 L737.2 327.5 L731.3 329.8 L725.5 332.1 L719.6 334.4 L713.7 336.7 L707.9 339.0 L702.0 341.3Z" fill="#161616" /><path d="M702.0 353.9 L707.9 351.6 L713.7 349.3 L719.6 347.0 L725.5 344.7 L731.3 342.4 L737.2 340.1 L743.1 337.9 L748.9 335.8 L754.8 333.7 L760.7 331.7 L766.5 329.7 L772.4 327.9 L778.2 326.2 L784.1 324.6 L790.0 323.1 L795.8 321.8 L801.7 320.6 L807.6 319.6 L813.4 318.7 L819.3 318.0 L825.2 317.4 L831.0 317.0 L836.9 316.8 L842.8 316.7 L848.6 316.8 L854.5 317.1 L860.4 317.5 L866.2 318.1 L872.1 318.9 L878.0 319.8 L883.8 320.9 L889.7 322.1 L895.6 323.5 L901.4 325.0 L907.3 326.6 L913.1 328.4 L919.0 330.2 L924.9 332.2 L930.7 334.2 L936.6 336.3 L942.5 338.5 L948.3 340.7 L954.2 343.0 L960.1 345.3 L965.9 347.6 L971.8 349.9 L977.7 352.2 L983.5 354.5 L989.4 356.7 L995.3 358.9 L1001.1 361.1 L1007.0 363.1 L1012.9 365.1 L1018.7 367.0 L1024.6 368.8 L1030.4 370.5 L1036.3 372.1 L1042.2 373.5 L1048.0 374.8 L1053.9 376.0 L1059.8 377.0 L1065.6 377.9 L1071.5 378.6 L1077.4 379.1 L1083.2 379.5 L1089.1 379.7 L1095.0 379.7 L1100.8 379.5 L1106.7 379.2 L1112.6 378.8 L1118.4 378.1 L1124.3 377.3 L1130.2 376.4 L1136.0 375.2 L1141.9 374.0 L1147.8 372.6 L1153.6 371.1 L1159.5 369.4 L1165.3 367.6 L1171.2 365.8 L1177.1 363.8 L1182.9 361.8 L1188.8 359.6 L1194.7 357.5 L1200.5 355.2 L1206.4 353.0 L1212.3 350.7 L1218.1 348.3 L1224.0 346.0" fill="none" stroke="#0f0f0f" stroke-width="1.8" /><path d="M702.0 354.7 L707.9 352.4 L713.7 350.1 L719.6 347.8 L725.5 345.5 L731.3 343.2 L737.2 340.9 L743.1 338.7 L748.9 336.6 L754.8 334.5 L760.7 332.5 L766.5 330.5 L772.4 328.7 L778.2 327.0 L784.1 325.4 L790.0 323.9 L795.8 322.6 L801.7 321.4 L807.6 320.4 L813.4 319.5 L819.3 318.8 L825.2 318.2 L831.0 317.8 L836.9 317.6 L842.8 317.5 L848.6 317.6 L854.5 317.9 L860.4 318.3 L866.2 318.9 L872.1 319.7 L878.0 320.6 L883.8 321.7 L889.7 322.9 L895.6 324.3 L901.4 325.8 L907.3 327.4 L913.1 329.2 L919.0 331.0 L924.9 333.0 L930.7 335.0 L936.6 337.1 L942.5 339.3 L948.3 341.5 L954.2 343.8 L960.1 346.1 L965.9 348.4 L971.8 350.7 L977.7 353.0 L983.5 355.3 L989.4 357.5 L995.3 359.7 L1001.1 361.9 L1007.0 363.9 L1012.9 365.9 L1018.7 367.8 L1024.6 369.6 L1030.4 371.3 L1036.3 372.9 L1042.2 374.3 L1048.0 375.6 L1053.9 376.8 L1059.8 377.8 L1065.6 378.7 L1071.5 379.4 L1077.4 379.9 L1083.2 380.3 L1089.1 380.5 L1095.0 380.5 L1100.8 380.3 L1106.7 380.0 L1112.6 379.6 L1118.4 378.9 L1124.3 378.1 L1130.2 377.2 L1136.0 376.0 L1141.9 374.8 L1147.8 373.4 L1153.6 371.9 L1159.5 370.2 L1165.3 368.4 L1171.2 366.6 L1177.1 364.6 L1182.9 362.6 L1188.8 360.4 L1194.7 358.3 L1200.5 356.0 L1206.4 353.8 L1212.3 351.5 L1218.1 349.1 L1224.0 346.8 L1224.0 361.0 L1218.1 363.3 L1212.3 365.7 L1206.4 368.0 L1200.5 370.2 L1194.7 372.5 L1188.8 374.6 L1182.9 376.8 L1177.1 378.8 L1171.2 380.8 L1165.3 382.6 L1159.5 384.4 L1153.6 386.1 L1147.8 387.6 L1141.9 389.0 L1136.0 390.2 L1130.2 391.4 L1124.3 392.3 L1118.4 393.1 L1112.6 393.8 L1106.7 394.2 L1100.8 394.5 L1095.0 394.7 L1089.1 394.7 L1083.2 394.5 L1077.4 394.1 L1071.5 393.6 L1065.6 392.9 L1059.8 392.0 L1053.9 391.0 L1048.0 389.8 L1042.2 388.5 L1036.3 387.1 L1030.4 385.5 L1024.6 383.8 L1018.7 382.0 L1012.9 380.1 L1007.0 378.1 L1001.1 376.1 L995.3 373.9 L989.4 371.7 L983.5 369.5 L977.7 367.2 L971.8 364.9 L965.9 362.6 L960.1 360.3 L954.2 358.0 L948.3 355.7 L942.5 353.5 L936.6 351.3 L930.7 349.2 L924.9 347.2 L919.0 345.2 L913.1 343.4 L907.3 341.6 L901.4 340.0 L895.6 338.5 L889.7 337.1 L883.8 335.9 L878.0 334.8 L872.1 333.9 L866.2 333.1 L860.4 332.5 L854.5 332.1 L848.6 331.8 L842.8 331.7 L836.9 331.8 L831.0 332.0 L825.2 332.4 L819.3 333.0 L813.4 333.7 L807.6 334.6 L801.7 335.6 L795.8 336.8 L790.0 338.1 L784.1 339.6 L778.2 341.2 L772.4 342.9 L766.5 344.7 L760.7 346.7 L754.8 348.7 L748.9 350.8 L743.1 352.9 L737.2 355.1 L731.3 357.4 L725.5 359.7 L719.6 362.0 L713.7 364.3 L707.9 366.6 L702.0 368.9Z" fill="url(#p25)" /><path d="M702.0 368.9 L707.9 366.6 L713.7 364.3 L719.6 362.0 L725.5 359.7 L731.3 357.4 L737.2 355.1 L743.1 352.9 L748.9 350.8 L754.8 348.7 L760.7 346.7 L766.5 344.7 L772.4 342.9 L778.2 341.2 L784.1 339.6 L790.0 338.1 L795.8 336.8 L801.7 335.6 L807.6 334.6 L813.4 333.7 L819.3 333.0 L825.2 332.4 L831.0 332.0 L836.9 331.8 L842.8 331.7 L848.6 331.8 L854.5 332.1 L860.4 332.5 L866.2 333.1 L872.1 333.9 L878.0 334.8 L883.8 335.9 L889.7 337.1 L895.6 338.5 L901.4 340.0 L907.3 341.6 L913.1 343.4 L919.0 345.2 L924.9 347.2 L930.7 349.2 L936.6 351.3 L942.5 353.5 L948.3 355.7 L954.2 358.0 L960.1 360.3 L965.9 362.6 L971.8 364.9 L977.7 367.2 L983.5 369.5 L989.4 371.7 L995.3 373.9 L1001.1 376.1 L1007.0 378.1 L1012.9 380.1 L1018.7 382.0 L1024.6 383.8 L1030.4 385.5 L1036.3 387.1 L1042.2 388.5 L1048.0 389.8 L1053.9 391.0 L1059.8 392.0 L1065.6 392.9 L1071.5 393.6 L1077.4 394.1 L1083.2 394.5 L1089.1 394.7 L1095.0 394.7 L1100.8 394.5 L1106.7 394.2 L1112.6 393.8 L1118.4 393.1 L1124.3 392.3 L1130.2 391.4 L1136.0 390.2 L1141.9 389.0 L1147.8 387.6 L1153.6 386.1 L1159.5 384.4 L1165.3 382.6 L1171.2 380.8 L1177.1 378.8 L1182.9 376.8 L1188.8 374.6 L1194.7 372.5 L1200.5 370.2 L1206.4 368.0 L1212.3 365.7 L1218.1 363.3 L1224.0 361.0 L1224.0 366.9 L1218.1 369.2 L1212.3 371.6 L1206.4 373.9 L1200.5 376.1 L1194.7 378.4 L1188.8 380.5 L1182.9 382.7 L1177.1 384.7 L1171.2 386.7 L1165.3 388.5 L1159.5 390.3 L1153.6 392.0 L1147.8 393.5 L1141.9 394.9 L1136.0 396.1 L1130.2 397.3 L1124.3 398.2 L1118.4 399.0 L1112.6 399.7 L1106.7 400.1 L1100.8 400.4 L1095.0 400.6 L1089.1 400.6 L1083.2 400.4 L1077.4 400.0 L1071.5 399.5 L1065.6 398.8 L1059.8 397.9 L1053.9 396.9 L1048.0 395.7 L1042.2 394.4 L1036.3 393.0 L1030.4 391.4 L1024.6 389.7 L1018.7 387.9 L1012.9 386.0 L1007.0 384.0 L1001.1 382.0 L995.3 379.8 L989.4 377.6 L983.5 375.4 L977.7 373.1 L971.8 370.8 L965.9 368.5 L960.1 366.2 L954.2 363.9 L948.3 361.6 L942.5 359.4 L936.6 357.2 L930.7 355.1 L924.9 353.1 L919.0 351.1 L913.1 349.3 L907.3 347.5 L901.4 345.9 L895.6 344.4 L889.7 343.0 L883.8 341.8 L878.0 340.7 L872.1 339.8 L866.2 339.0 L860.4 338.4 L854.5 338.0 L848.6 337.7 L842.8 337.6 L836.9 337.7 L831.0 337.9 L825.2 338.3 L819.3 338.9 L813.4 339.6 L807.6 340.5 L801.7 341.5 L795.8 342.7 L790.0 344.0 L784.1 345.5 L778.2 347.1 L772.4 348.8 L766.5 350.6 L760.7 352.6 L754.8 354.6 L748.9 356.7 L743.1 358.8 L737.2 361.0 L731.3 363.3 L725.5 365.6 L719.6 367.9 L713.7 370.2 L707.9 372.5 L702.0 374.8Z" fill="#161616" /><path d="M702.0 387.4 L707.9 385.1 L713.7 382.8 L719.6 380.5 L725.5 378.2 L731.3 375.9 L737.2 373.6 L743.1 371.4 L748.9 369.3 L754.8 367.2 L760.7 365.2 L766.5 363.2 L772.4 361.4 L778.2 359.7 L784.1 358.1 L790.0 356.6 L795.8 355.3 L801.7 354.1 L807.6 353.1 L813.4 352.2 L819.3 351.5 L825.2 350.9 L831.0 350.5 L836.9 350.3 L842.8 350.2 L848.6 350.3 L854.5 350.6 L860.4 351.0 L866.2 351.6 L872.1 352.4 L878.0 353.3 L883.8 354.4 L889.7 355.6 L895.6 357.0 L901.4 358.5 L907.3 360.1 L913.1 361.9 L919.0 363.7 L924.9 365.7 L930.7 367.7 L936.6 369.8 L942.5 372.0 L948.3 374.2 L954.2 376.5 L960.1 378.8 L965.9 381.1 L971.8 383.4 L977.7 385.7 L983.5 388.0 L989.4 390.2 L995.3 392.4 L1001.1 394.6 L1007.0 396.6 L1012.9 398.6 L1018.7 400.5 L1024.6 402.3 L1030.4 404.0 L1036.3 405.6 L1042.2 407.0 L1048.0 408.3 L1053.9 409.5 L1059.8 410.5 L1065.6 411.4 L1071.5 412.1 L1077.4 412.6 L1083.2 413.0 L1089.1 413.2 L1095.0 413.2 L1100.8 413.0 L1106.7 412.7 L1112.6 412.3 L1118.4 411.6 L1124.3 410.8 L1130.2 409.9 L1136.0 408.7 L1141.9 407.5 L1147.8 406.1 L1153.6 404.6 L1159.5 402.9 L1165.3 401.1 L1171.2 399.3 L1177.1 397.3 L1182.9 395.3 L1188.8 393.1 L1194.7 391.0 L1200.5 388.7 L1206.4 386.5 L1212.3 384.2 L1218.1 381.8 L1224.0 379.5" fill="none" stroke="#0f0f0f" stroke-width="1.8" /><path d="M702.0 388.2 L707.9 385.9 L713.7 383.6 L719.6 381.3 L725.5 379.0 L731.3 376.7 L737.2 374.4 L743.1 372.2 L748.9 370.1 L754.8 368.0 L760.7 366.0 L766.5 364.0 L772.4 362.2 L778.2 360.5 L784.1 358.9 L790.0 357.4 L795.8 356.1 L801.7 354.9 L807.6 353.9 L813.4 353.0 L819.3 352.3 L825.2 351.7 L831.0 351.3 L836.9 351.1 L842.8 351.0 L848.6 351.1 L854.5 351.4 L860.4 351.8 L866.2 352.4 L872.1 353.2 L878.0 354.1 L883.8 355.2 L889.7 356.4 L895.6 357.8 L901.4 359.3 L907.3 360.9 L913.1 362.7 L919.0 364.5 L924.9 366.5 L930.7 368.5 L936.6 370.6 L942.5 372.8 L948.3 375.0 L954.2 377.3 L960.1 379.6 L965.9 381.9 L971.8 384.2 L977.7 386.5 L983.5 388.8 L989.4 391.0 L995.3 393.2 L1001.1 395.4 L1007.0 397.4 L1012.9 399.4 L1018.7 401.3 L1024.6 403.1 L1030.4 404.8 L1036.3 406.4 L1042.2 407.8 L1048.0 409.1 L1053.9 410.3 L1059.8 411.3 L1065.6 412.2 L1071.5 412.9 L1077.4 413.4 L1083.2 413.8 L1089.1 414.0 L1095.0 414.0 L1100.8 413.8 L1106.7 413.5 L1112.6 413.1 L1118.4 412.4 L1124.3 411.6 L1130.2 410.7 L1136.0 409.5 L1141.9 408.3 L1147.8 406.9 L1153.6 405.4 L1159.5 403.7 L1165.3 401.9 L1171.2 400.1 L1177.1 398.1 L1182.9 396.1 L1188.8 393.9 L1194.7 391.8 L1200.5 389.5 L1206.4 387.3 L1212.3 385.0 L1218.1 382.6 L1224.0 380.3 L1224.0 394.5 L1218.1 396.8 L1212.3 399.2 L1206.4 401.5 L1200.5 403.7 L1194.7 406.0 L1188.8 408.1 L1182.9 410.3 L1177.1 412.3 L1171.2 414.3 L1165.3 416.1 L1159.5 417.9 L1153.6 419.6 L1147.8 421.1 L1141.9 422.5 L1136.0 423.7 L1130.2 424.9 L1124.3 425.8 L1118.4 426.6 L1112.6 427.3 L1106.7 427.7 L1100.8 428.0 L1095.0 428.2 L1089.1 428.2 L1083.2 428.0 L1077.4 427.6 L1071.5 427.1 L1065.6 426.4 L1059.8 425.5 L1053.9 424.5 L1048.0 423.3 L1042.2 422.0 L1036.3 420.6 L1030.4 419.0 L1024.6 417.3 L1018.7 415.5 L1012.9 413.6 L1007.0 411.6 L1001.1 409.6 L995.3 407.4 L989.4 405.2 L983.5 403.0 L977.7 400.7 L971.8 398.4 L965.9 396.1 L960.1 393.8 L954.2 391.5 L948.3 389.2 L942.5 387.0 L936.6 384.8 L930.7 382.7 L924.9 380.7 L919.0 378.7 L913.1 376.9 L907.3 375.1 L901.4 373.5 L895.6 372.0 L889.7 370.6 L883.8 369.4 L878.0 368.3 L872.1 367.4 L866.2 366.6 L860.4 366.0 L854.5 365.6 L848.6 365.3 L842.8 365.2 L836.9 365.3 L831.0 365.5 L825.2 365.9 L819.3 366.5 L813.4 367.2 L807.6 368.1 L801.7 369.1 L795.8 370.3 L790.0 371.6 L784.1 373.1 L778.2 374.7 L772.4 376.4 L766.5 378.2 L760.7 380.2 L754.8 382.2 L748.9 384.3 L743.1 386.4 L737.2 388.6 L731.3 390.9 L725.5 393.2 L719.6 395.5 L713.7 397.8 L707.9 400.1 L702.0 402.4Z" fill="url(#p25)" /><path d="M702.0 402.4 L707.9 400.1 L713.7 397.8 L719.6 395.5 L725.5 393.2 L731.3 390.9 L737.2 388.6 L743.1 386.4 L748.9 384.3 L754.8 382.2 L760.7 380.2 L766.5 378.2 L772.4 376.4 L778.2 374.7 L784.1 373.1 L790.0 371.6 L795.8 370.3 L801.7 369.1 L807.6 368.1 L813.4 367.2 L819.3 366.5 L825.2 365.9 L831.0 365.5 L836.9 365.3 L842.8 365.2 L848.6 365.3 L854.5 365.6 L860.4 366.0 L866.2 366.6 L872.1 367.4 L878.0 368.3 L883.8 369.4 L889.7 370.6 L895.6 372.0 L901.4 373.5 L907.3 375.1 L913.1 376.9 L919.0 378.7 L924.9 380.7 L930.7 382.7 L936.6 384.8 L942.5 387.0 L948.3 389.2 L954.2 391.5 L960.1 393.8 L965.9 396.1 L971.8 398.4 L977.7 400.7 L983.5 403.0 L989.4 405.2 L995.3 407.4 L1001.1 409.6 L1007.0 411.6 L1012.9 413.6 L1018.7 415.5 L1024.6 417.3 L1030.4 419.0 L1036.3 420.6 L1042.2 422.0 L1048.0 423.3 L1053.9 424.5 L1059.8 425.5 L1065.6 426.4 L1071.5 427.1 L1077.4 427.6 L1083.2 428.0 L1089.1 428.2 L1095.0 428.2 L1100.8 428.0 L1106.7 427.7 L1112.6 427.3 L1118.4 426.6 L1124.3 425.8 L1130.2 424.9 L1136.0 423.7 L1141.9 422.5 L1147.8 421.1 L1153.6 419.6 L1159.5 417.9 L1165.3 416.1 L1171.2 414.3 L1177.1 412.3 L1182.9 410.3 L1188.8 408.1 L1194.7 406.0 L1200.5 403.7 L1206.4 401.5 L1212.3 399.2 L1218.1 396.8 L1224.0 394.5 L1224.0 400.4 L1218.1 402.7 L1212.3 405.1 L1206.4 407.4 L1200.5 409.6 L1194.7 411.9 L1188.8 414.0 L1182.9 416.2 L1177.1 418.2 L1171.2 420.2 L1165.3 422.0 L1159.5 423.8 L1153.6 425.5 L1147.8 427.0 L1141.9 428.4 L1136.0 429.6 L1130.2 430.8 L1124.3 431.7 L1118.4 432.5 L1112.6 433.2 L1106.7 433.6 L1100.8 433.9 L1095.0 434.1 L1089.1 434.1 L1083.2 433.9 L1077.4 433.5 L1071.5 433.0 L1065.6 432.3 L1059.8 431.4 L1053.9 430.4 L1048.0 429.2 L1042.2 427.9 L1036.3 426.5 L1030.4 424.9 L1024.6 423.2 L1018.7 421.4 L1012.9 419.5 L1007.0 417.5 L1001.1 415.5 L995.3 413.3 L989.4 411.1 L983.5 408.9 L977.7 406.6 L971.8 404.3 L965.9 402.0 L960.1 399.7 L954.2 397.4 L948.3 395.1 L942.5 392.9 L936.6 390.7 L930.7 388.6 L924.9 386.6 L919.0 384.6 L913.1 382.8 L907.3 381.0 L901.4 379.4 L895.6 377.9 L889.7 376.5 L883.8 375.3 L878.0 374.2 L872.1 373.3 L866.2 372.5 L860.4 371.9 L854.5 371.5 L848.6 371.2 L842.8 371.1 L836.9 371.2 L831.0 371.4 L825.2 371.8 L819.3 372.4 L813.4 373.1 L807.6 374.0 L801.7 375.0 L795.8 376.2 L790.0 377.5 L784.1 379.0 L778.2 380.6 L772.4 382.3 L766.5 384.1 L760.7 386.1 L754.8 388.1 L748.9 390.2 L743.1 392.3 L737.2 394.5 L731.3 396.8 L725.5 399.1 L719.6 401.4 L713.7 403.7 L707.9 406.0 L702.0 408.3Z" fill="#161616" /><path d="M702.0 420.9 L707.9 418.6 L713.7 416.3 L719.6 414.0 L725.5 411.7 L731.3 409.4 L737.2 407.1 L743.1 404.9 L748.9 402.8 L754.8 400.7 L760.7 398.7 L766.5 396.7 L772.4 394.9 L778.2 393.2 L784.1 391.6 L790.0 390.1 L795.8 388.8 L801.7 387.6 L807.6 386.6 L813.4 385.7 L819.3 385.0 L825.2 384.4 L831.0 384.0 L836.9 383.8 L842.8 383.7 L848.6 383.8 L854.5 384.1 L860.4 384.5 L866.2 385.1 L872.1 385.9 L878.0 386.8 L883.8 387.9 L889.7 389.1 L895.6 390.5 L901.4 392.0 L907.3 393.6 L913.1 395.4 L919.0 397.2 L924.9 399.2 L930.7 401.2 L936.6 403.3 L942.5 405.5 L948.3 407.7 L954.2 410.0 L960.1 412.3 L965.9 414.6 L971.8 416.9 L977.7 419.2 L983.5 421.5 L989.4 423.7 L995.3 425.9 L1001.1 428.1 L1007.0 430.1 L1012.9 432.1 L1018.7 434.0 L1024.6 435.8 L1030.4 437.5 L1036.3 439.1 L1042.2 440.5 L1048.0 441.8 L1053.9 443.0 L1059.8 444.0 L1065.6 444.9 L1071.5 445.6 L1077.4 446.1 L1083.2 446.5 L1089.1 446.7 L1095.0 446.7 L1100.8 446.5 L1106.7 446.2 L1112.6 445.8 L1118.4 445.1 L1124.3 444.3 L1130.2 443.4 L1136.0 442.2 L1141.9 441.0 L1147.8 439.6 L1153.6 438.1 L1159.5 436.4 L1165.3 434.6 L1171.2 432.8 L1177.1 430.8 L1182.9 428.8 L1188.8 426.6 L1194.7 424.5 L1200.5 422.2 L1206.4 420.0 L1212.3 417.7 L1218.1 415.3 L1224.0 413.0" fill="none" stroke="#0f0f0f" stroke-width="1.8" /><path d="M702.0 421.7 L707.9 419.4 L713.7 417.1 L719.6 414.8 L725.5 412.5 L731.3 410.2 L737.2 407.9 L743.1 405.7 L748.9 403.6 L754.8 401.5 L760.7 399.5 L766.5 397.5 L772.4 395.7 L778.2 394.0 L784.1 392.4 L790.0 390.9 L795.8 389.6 L801.7 388.4 L807.6 387.4 L813.4 386.5 L819.3 385.8 L825.2 385.2 L831.0 384.8 L836.9 384.6 L842.8 384.5 L848.6 384.6 L854.5 384.9 L860.4 385.3 L866.2 385.9 L872.1 386.7 L878.0 387.6 L883.8 388.7 L889.7 389.9 L895.6 391.3 L901.4 392.8 L907.3 394.4 L913.1 396.2 L919.0 398.0 L924.9 400.0 L930.7 402.0 L936.6 404.1 L942.5 406.3 L948.3 408.5 L954.2 410.8 L960.1 413.1 L965.9 415.4 L971.8 417.7 L977.7 420.0 L983.5 422.3 L989.4 424.5 L995.3 426.7 L1001.1 428.9 L1007.0 430.9 L1012.9 432.9 L1018.7 434.8 L1024.6 436.6 L1030.4 438.3 L1036.3 439.9 L1042.2 441.3 L1048.0 442.6 L1053.9 443.8 L1059.8 444.8 L1065.6 445.7 L1071.5 446.4 L1077.4 446.9 L1083.2 447.3 L1089.1 447.5 L1095.0 447.5 L1100.8 447.3 L1106.7 447.0 L1112.6 446.6 L1118.4 445.9 L1124.3 445.1 L1130.2 444.2 L1136.0 443.0 L1141.9 441.8 L1147.8 440.4 L1153.6 438.9 L1159.5 437.2 L1165.3 435.4 L1171.2 433.6 L1177.1 431.6 L1182.9 429.6 L1188.8 427.4 L1194.7 425.3 L1200.5 423.0 L1206.4 420.8 L1212.3 418.5 L1218.1 416.1 L1224.0 413.8 L1224.0 428.0 L1218.1 430.3 L1212.3 432.7 L1206.4 435.0 L1200.5 437.2 L1194.7 439.5 L1188.8 441.6 L1182.9 443.8 L1177.1 445.8 L1171.2 447.8 L1165.3 449.6 L1159.5 451.4 L1153.6 453.1 L1147.8 454.6 L1141.9 456.0 L1136.0 457.2 L1130.2 458.4 L1124.3 459.3 L1118.4 460.1 L1112.6 460.8 L1106.7 461.2 L1100.8 461.5 L1095.0 461.7 L1089.1 461.7 L1083.2 461.5 L1077.4 461.1 L1071.5 460.6 L1065.6 459.9 L1059.8 459.0 L1053.9 458.0 L1048.0 456.8 L1042.2 455.5 L1036.3 454.1 L1030.4 452.5 L1024.6 450.8 L1018.7 449.0 L1012.9 447.1 L1007.0 445.1 L1001.1 443.1 L995.3 440.9 L989.4 438.7 L983.5 436.5 L977.7 434.2 L971.8 431.9 L965.9 429.6 L960.1 427.3 L954.2 425.0 L948.3 422.7 L942.5 420.5 L936.6 418.3 L930.7 416.2 L924.9 414.2 L919.0 412.2 L913.1 410.4 L907.3 408.6 L901.4 407.0 L895.6 405.5 L889.7 404.1 L883.8 402.9 L878.0 401.8 L872.1 400.9 L866.2 400.1 L860.4 399.5 L854.5 399.1 L848.6 398.8 L842.8 398.7 L836.9 398.8 L831.0 399.0 L825.2 399.4 L819.3 400.0 L813.4 400.7 L807.6 401.6 L801.7 402.6 L795.8 403.8 L790.0 405.1 L784.1 406.6 L778.2 408.2 L772.4 409.9 L766.5 411.7 L760.7 413.7 L754.8 415.7 L748.9 417.8 L743.1 419.9 L737.2 422.1 L731.3 424.4 L725.5 426.7 L719.6 429.0 L713.7 431.3 L707.9 433.6 L702.0 435.9Z" fill="url(#p25)" /><path d="M702.0 435.9 L707.9 433.6 L713.7 431.3 L719.6 429.0 L725.5 426.7 L731.3 424.4 L737.2 422.1 L743.1 419.9 L748.9 417.8 L754.8 415.7 L760.7 413.7 L766.5 411.7 L772.4 409.9 L778.2 408.2 L784.1 406.6 L790.0 405.1 L795.8 403.8 L801.7 402.6 L807.6 401.6 L813.4 400.7 L819.3 400.0 L825.2 399.4 L831.0 399.0 L836.9 398.8 L842.8 398.7 L848.6 398.8 L854.5 399.1 L860.4 399.5 L866.2 400.1 L872.1 400.9 L878.0 401.8 L883.8 402.9 L889.7 404.1 L895.6 405.5 L901.4 407.0 L907.3 408.6 L913.1 410.4 L919.0 412.2 L924.9 414.2 L930.7 416.2 L936.6 418.3 L942.5 420.5 L948.3 422.7 L954.2 425.0 L960.1 427.3 L965.9 429.6 L971.8 431.9 L977.7 434.2 L983.5 436.5 L989.4 438.7 L995.3 440.9 L1001.1 443.1 L1007.0 445.1 L1012.9 447.1 L1018.7 449.0 L1024.6 450.8 L1030.4 452.5 L1036.3 454.1 L1042.2 455.5 L1048.0 456.8 L1053.9 458.0 L1059.8 459.0 L1065.6 459.9 L1071.5 460.6 L1077.4 461.1 L1083.2 461.5 L1089.1 461.7 L1095.0 461.7 L1100.8 461.5 L1106.7 461.2 L1112.6 460.8 L1118.4 460.1 L1124.3 459.3 L1130.2 458.4 L1136.0 457.2 L1141.9 456.0 L1147.8 454.6 L1153.6 453.1 L1159.5 451.4 L1165.3 449.6 L1171.2 447.8 L1177.1 445.8 L1182.9 443.8 L1188.8 441.6 L1194.7 439.5 L1200.5 437.2 L1206.4 435.0 L1212.3 432.7 L1218.1 430.3 L1224.0 428.0 L1224.0 433.9 L1218.1 436.2 L1212.3 438.6 L1206.4 440.9 L1200.5 443.1 L1194.7 445.4 L1188.8 447.5 L1182.9 449.7 L1177.1 451.7 L1171.2 453.7 L1165.3 455.5 L1159.5 457.3 L1153.6 459.0 L1147.8 460.5 L1141.9 461.9 L1136.0 463.1 L1130.2 464.3 L1124.3 465.2 L1118.4 466.0 L1112.6 466.7 L1106.7 467.1 L1100.8 467.4 L1095.0 467.6 L1089.1 467.6 L1083.2 467.4 L1077.4 467.0 L1071.5 466.5 L1065.6 465.8 L1059.8 464.9 L1053.9 463.9 L1048.0 462.7 L1042.2 461.4 L1036.3 460.0 L1030.4 458.4 L1024.6 456.7 L1018.7 454.9 L1012.9 453.0 L1007.0 451.0 L1001.1 449.0 L995.3 446.8 L989.4 444.6 L983.5 442.4 L977.7 440.1 L971.8 437.8 L965.9 435.5 L960.1 433.2 L954.2 430.9 L948.3 428.6 L942.5 426.4 L936.6 424.2 L930.7 422.1 L924.9 420.1 L919.0 418.1 L913.1 416.3 L907.3 414.5 L901.4 412.9 L895.6 411.4 L889.7 410.0 L883.8 408.8 L878.0 407.7 L872.1 406.8 L866.2 406.0 L860.4 405.4 L854.5 405.0 L848.6 404.7 L842.8 404.6 L836.9 404.7 L831.0 404.9 L825.2 405.3 L819.3 405.9 L813.4 406.6 L807.6 407.5 L801.7 408.5 L795.8 409.7 L790.0 411.0 L784.1 412.5 L778.2 414.1 L772.4 415.8 L766.5 417.6 L760.7 419.6 L754.8 421.6 L748.9 423.7 L743.1 425.8 L737.2 428.0 L731.3 430.3 L725.5 432.6 L719.6 434.9 L713.7 437.2 L707.9 439.5 L702.0 441.8Z" fill="#161616" /><path d="M702.0 454.4 L707.9 452.1 L713.7 449.8 L719.6 447.5 L725.5 445.2 L731.3 442.9 L737.2 440.6 L743.1 438.4 L748.9 436.3 L754.8 434.2 L760.7 432.2 L766.5 430.2 L772.4 428.4 L778.2 426.7 L784.1 425.1 L790.0 423.6 L795.8 422.3 L801.7 421.1 L807.6 420.1 L813.4 419.2 L819.3 418.5 L825.2 417.9 L831.0 417.5 L836.9 417.3 L842.8 417.2 L848.6 417.3 L854.5 417.6 L860.4 418.0 L866.2 418.6 L872.1 419.4 L878.0 420.3 L883.8 421.4 L889.7 422.6 L895.6 424.0 L901.4 425.5 L907.3 427.1 L913.1 428.9 L919.0 430.7 L924.9 432.7 L930.7 434.7 L936.6 436.8 L942.5 439.0 L948.3 441.2 L954.2 443.5 L960.1 445.8 L965.9 448.1 L971.8 450.4 L977.7 452.7 L983.5 455.0 L989.4 457.2 L995.3 459.4 L1001.1 461.6 L1007.0 463.6 L1012.9 465.6 L1018.7 467.5 L1024.6 469.3 L1030.4 471.0 L1036.3 472.6 L1042.2 474.0 L1048.0 475.3 L1053.9 476.5 L1059.8 477.5 L1065.6 478.4 L1071.5 479.1 L1077.4 479.6 L1083.2 480.0 L1089.1 480.2 L1095.0 480.2 L1100.8 480.0 L1106.7 479.7 L1112.6 479.3 L1118.4 478.6 L1124.3 477.8 L1130.2 476.9 L1136.0 475.7 L1141.9 474.5 L1147.8 473.1 L1153.6 471.6 L1159.5 469.9 L1165.3 468.1 L1171.2 466.3 L1177.1 464.3 L1182.9 462.3 L1188.8 460.1 L1194.7 458.0 L1200.5 455.7 L1206.4 453.5 L1212.3 451.2 L1218.1 448.8 L1224.0 446.5" fill="none" stroke="#0f0f0f" stroke-width="1.8" /><path d="M702.0 455.2 L707.9 452.9 L713.7 450.6 L719.6 448.3 L725.5 446.0 L731.3 443.7 L737.2 441.4 L743.1 439.2 L748.9 437.1 L754.8 435.0 L760.7 433.0 L766.5 431.0 L772.4 429.2 L778.2 427.5 L784.1 425.9 L790.0 424.4 L795.8 423.1 L801.7 421.9 L807.6 420.9 L813.4 420.0 L819.3 419.3 L825.2 418.7 L831.0 418.3 L836.9 418.1 L842.8 418.0 L848.6 418.1 L854.5 418.4 L860.4 418.8 L866.2 419.4 L872.1 420.2 L878.0 421.1 L883.8 422.2 L889.7 423.4 L895.6 424.8 L901.4 426.3 L907.3 427.9 L913.1 429.7 L919.0 431.5 L924.9 433.5 L930.7 435.5 L936.6 437.6 L942.5 439.8 L948.3 442.0 L954.2 444.3 L960.1 446.6 L965.9 448.9 L971.8 451.2 L977.7 453.5 L983.5 455.8 L989.4 458.0 L995.3 460.2 L1001.1 462.4 L1007.0 464.4 L1012.9 466.4 L1018.7 468.3 L1024.6 470.1 L1030.4 471.8 L1036.3 473.4 L1042.2 474.8 L1048.0 476.1 L1053.9 477.3 L1059.8 478.3 L1065.6 479.2 L1071.5 479.9 L1077.4 480.4 L1083.2 480.8 L1089.1 481.0 L1095.0 481.0 L1100.8 480.8 L1106.7 480.5 L1112.6 480.1 L1118.4 479.4 L1124.3 478.6 L1130.2 477.7 L1136.0 476.5 L1141.9 475.3 L1147.8 473.9 L1153.6 472.4 L1159.5 470.7 L1165.3 468.9 L1171.2 467.1 L1177.1 465.1 L1182.9 463.1 L1188.8 460.9 L1194.7 458.8 L1200.5 456.5 L1206.4 454.3 L1212.3 452.0 L1218.1 449.6 L1224.0 447.3 L1224.0 461.5 L1218.1 463.8 L1212.3 466.2 L1206.4 468.5 L1200.5 470.7 L1194.7 473.0 L1188.8 475.1 L1182.9 477.3 L1177.1 479.3 L1171.2 481.3 L1165.3 483.1 L1159.5 484.9 L1153.6 486.6 L1147.8 488.1 L1141.9 489.5 L1136.0 490.7 L1130.2 491.9 L1124.3 492.8 L1118.4 493.6 L1112.6 494.3 L1106.7 494.7 L1100.8 495.0 L1095.0 495.2 L1089.1 495.2 L1083.2 495.0 L1077.4 494.6 L1071.5 494.1 L1065.6 493.4 L1059.8 492.5 L1053.9 491.5 L1048.0 490.3 L1042.2 489.0 L1036.3 487.6 L1030.4 486.0 L1024.6 484.3 L1018.7 482.5 L1012.9 480.6 L1007.0 478.6 L1001.1 476.6 L995.3 474.4 L989.4 472.2 L983.5 470.0 L977.7 467.7 L971.8 465.4 L965.9 463.1 L960.1 460.8 L954.2 458.5 L948.3 456.2 L942.5 454.0 L936.6 451.8 L930.7 449.7 L924.9 447.7 L919.0 445.7 L913.1 443.9 L907.3 442.1 L901.4 440.5 L895.6 439.0 L889.7 437.6 L883.8 436.4 L878.0 435.3 L872.1 434.4 L866.2 433.6 L860.4 433.0 L854.5 432.6 L848.6 432.3 L842.8 432.2 L836.9 432.3 L831.0 432.5 L825.2 432.9 L819.3 433.5 L813.4 434.2 L807.6 435.1 L801.7 436.1 L795.8 437.3 L790.0 438.6 L784.1 440.1 L778.2 441.7 L772.4 443.4 L766.5 445.2 L760.7 447.2 L754.8 449.2 L748.9 451.3 L743.1 453.4 L737.2 455.6 L731.3 457.9 L725.5 460.2 L719.6 462.5 L713.7 464.8 L707.9 467.1 L702.0 469.4Z" fill="url(#p25)" /><path d="M702.0 469.4 L707.9 467.1 L713.7 464.8 L719.6 462.5 L725.5 460.2 L731.3 457.9 L737.2 455.6 L743.1 453.4 L748.9 451.3 L754.8 449.2 L760.7 447.2 L766.5 445.2 L772.4 443.4 L778.2 441.7 L784.1 440.1 L790.0 438.6 L795.8 437.3 L801.7 436.1 L807.6 435.1 L813.4 434.2 L819.3 433.5 L825.2 432.9 L831.0 432.5 L836.9 432.3 L842.8 432.2 L848.6 432.3 L854.5 432.6 L860.4 433.0 L866.2 433.6 L872.1 434.4 L878.0 435.3 L883.8 436.4 L889.7 437.6 L895.6 439.0 L901.4 440.5 L907.3 442.1 L913.1 443.9 L919.0 445.7 L924.9 447.7 L930.7 449.7 L936.6 451.8 L942.5 454.0 L948.3 456.2 L954.2 458.5 L960.1 460.8 L965.9 463.1 L971.8 465.4 L977.7 467.7 L983.5 470.0 L989.4 472.2 L995.3 474.4 L1001.1 476.6 L1007.0 478.6 L1012.9 480.6 L1018.7 482.5 L1024.6 484.3 L1030.4 486.0 L1036.3 487.6 L1042.2 489.0 L1048.0 490.3 L1053.9 491.5 L1059.8 492.5 L1065.6 493.4 L1071.5 494.1 L1077.4 494.6 L1083.2 495.0 L1089.1 495.2 L1095.0 495.2 L1100.8 495.0 L1106.7 494.7 L1112.6 494.3 L1118.4 493.6 L1124.3 492.8 L1130.2 491.9 L1136.0 490.7 L1141.9 489.5 L1147.8 488.1 L1153.6 486.6 L1159.5 484.9 L1165.3 483.1 L1171.2 481.3 L1177.1 479.3 L1182.9 477.3 L1188.8 475.1 L1194.7 473.0 L1200.5 470.7 L1206.4 468.5 L1212.3 466.2 L1218.1 463.8 L1224.0 461.5 L1224.0 467.4 L1218.1 469.7 L1212.3 472.1 L1206.4 474.4 L1200.5 476.6 L1194.7 478.9 L1188.8 481.0 L1182.9 483.2 L1177.1 485.2 L1171.2 487.2 L1165.3 489.0 L1159.5 490.8 L1153.6 492.5 L1147.8 494.0 L1141.9 495.4 L1136.0 496.6 L1130.2 497.8 L1124.3 498.7 L1118.4 499.5 L1112.6 500.2 L1106.7 500.6 L1100.8 500.9 L1095.0 501.1 L1089.1 501.1 L1083.2 500.9 L1077.4 500.5 L1071.5 500.0 L1065.6 499.3 L1059.8 498.4 L1053.9 497.4 L1048.0 496.2 L1042.2 494.9 L1036.3 493.5 L1030.4 491.9 L1024.6 490.2 L1018.7 488.4 L1012.9 486.5 L1007.0 484.5 L1001.1 482.5 L995.3 480.3 L989.4 478.1 L983.5 475.9 L977.7 473.6 L971.8 471.3 L965.9 469.0 L960.1 466.7 L954.2 464.4 L948.3 462.1 L942.5 459.9 L936.6 457.7 L930.7 455.6 L924.9 453.6 L919.0 451.6 L913.1 449.8 L907.3 448.0 L901.4 446.4 L895.6 444.9 L889.7 443.5 L883.8 442.3 L878.0 441.2 L872.1 440.3 L866.2 439.5 L860.4 438.9 L854.5 438.5 L848.6 438.2 L842.8 438.1 L836.9 438.2 L831.0 438.4 L825.2 438.8 L819.3 439.4 L813.4 440.1 L807.6 441.0 L801.7 442.0 L795.8 443.2 L790.0 444.5 L784.1 446.0 L778.2 447.6 L772.4 449.3 L766.5 451.1 L760.7 453.1 L754.8 455.1 L748.9 457.2 L743.1 459.3 L737.2 461.5 L731.3 463.8 L725.5 466.1 L719.6 468.4 L713.7 470.7 L707.9 473.0 L702.0 475.3Z" fill="#161616" /><path d="M702.0 487.9 L707.9 485.6 L713.7 483.3 L719.6 481.0 L725.5 478.7 L731.3 476.4 L737.2 474.1 L743.1 471.9 L748.9 469.8 L754.8 467.7 L760.7 465.7 L766.5 463.7 L772.4 461.9 L778.2 460.2 L784.1 458.6 L790.0 457.1 L795.8 455.8 L801.7 454.6 L807.6 453.6 L813.4 452.7 L819.3 452.0 L825.2 451.4 L831.0 451.0 L836.9 450.8 L842.8 450.7 L848.6 450.8 L854.5 451.1 L860.4 451.5 L866.2 452.1 L872.1 452.9 L878.0 453.8 L883.8 454.9 L889.7 456.1 L895.6 457.5 L901.4 459.0 L907.3 460.6 L913.1 462.4 L919.0 464.2 L924.9 466.2 L930.7 468.2 L936.6 470.3 L942.5 472.5 L948.3 474.7 L954.2 477.0 L960.1 479.3 L965.9 481.6 L971.8 483.9 L977.7 486.2 L983.5 488.5 L989.4 490.7 L995.3 492.9 L1001.1 495.1 L1007.0 497.1 L1012.9 499.1 L1018.7 501.0 L1024.6 502.8 L1030.4 504.5 L1036.3 506.1 L1042.2 507.5 L1048.0 508.8 L1053.9 510.0 L1059.8 511.0 L1065.6 511.9 L1071.5 512.6 L1077.4 513.1 L1083.2 513.5 L1089.1 513.7 L1095.0 513.7 L1100.8 513.5 L1106.7 513.2 L1112.6 512.8 L1118.4 512.1 L1124.3 511.3 L1130.2 510.4 L1136.0 509.2 L1141.9 508.0 L1147.8 506.6 L1153.6 505.1 L1159.5 503.4 L1165.3 501.6 L1171.2 499.8 L1177.1 497.8 L1182.9 495.8 L1188.8 493.6 L1194.7 491.5 L1200.5 489.2 L1206.4 487.0 L1212.3 484.7 L1218.1 482.3 L1224.0 480.0" fill="none" stroke="#0f0f0f" stroke-width="1.8" /><path d="M702.0 488.7 L707.9 486.4 L713.7 484.1 L719.6 481.8 L725.5 479.5 L731.3 477.2 L737.2 474.9 L743.1 472.7 L748.9 470.6 L754.8 468.5 L760.7 466.5 L766.5 464.5 L772.4 462.7 L778.2 461.0 L784.1 459.4 L790.0 457.9 L795.8 456.6 L801.7 455.4 L807.6 454.4 L813.4 453.5 L819.3 452.8 L825.2 452.2 L831.0 451.8 L836.9 451.6 L842.8 451.5 L848.6 451.6 L854.5 451.9 L860.4 452.3 L866.2 452.9 L872.1 453.7 L878.0 454.6 L883.8 455.7 L889.7 456.9 L895.6 458.3 L901.4 459.8 L907.3 461.4 L913.1 463.2 L919.0 465.0 L924.9 467.0 L930.7 469.0 L936.6 471.1 L942.5 473.3 L948.3 475.5 L954.2 477.8 L960.1 480.1 L965.9 482.4 L971.8 484.7 L977.7 487.0 L983.5 489.3 L989.4 491.5 L995.3 493.7 L1001.1 495.9 L1007.0 497.9 L1012.9 499.9 L1018.7 501.8 L1024.6 503.6 L1030.4 505.3 L1036.3 506.9 L1042.2 508.3 L1048.0 509.6 L1053.9 510.8 L1059.8 511.8 L1065.6 512.7 L1071.5 513.4 L1077.4 513.9 L1083.2 514.3 L1089.1 514.5 L1095.0 514.5 L1100.8 514.3 L1106.7 514.0 L1112.6 513.6 L1118.4 512.9 L1124.3 512.1 L1130.2 511.2 L1136.0 510.0 L1141.9 508.8 L1147.8 507.4 L1153.6 505.9 L1159.5 504.2 L1165.3 502.4 L1171.2 500.6 L1177.1 498.6 L1182.9 496.6 L1188.8 494.4 L1194.7 492.3 L1200.5 490.0 L1206.4 487.8 L1212.3 485.5 L1218.1 483.1 L1224.0 480.8 L1224.0 495.0 L1218.1 497.3 L1212.3 499.7 L1206.4 502.0 L1200.5 504.2 L1194.7 506.5 L1188.8 508.6 L1182.9 510.8 L1177.1 512.8 L1171.2 514.8 L1165.3 516.6 L1159.5 518.4 L1153.6 520.1 L1147.8 521.6 L1141.9 523.0 L1136.0 524.2 L1130.2 525.4 L1124.3 526.3 L1118.4 527.1 L1112.6 527.8 L1106.7 528.2 L1100.8 528.5 L1095.0 528.7 L1089.1 528.7 L1083.2 528.5 L1077.4 528.1 L1071.5 527.6 L1065.6 526.9 L1059.8 526.0 L1053.9 525.0 L1048.0 523.8 L1042.2 522.5 L1036.3 521.1 L1030.4 519.5 L1024.6 517.8 L1018.7 516.0 L1012.9 514.1 L1007.0 512.1 L1001.1 510.1 L995.3 507.9 L989.4 505.7 L983.5 503.5 L977.7 501.2 L971.8 498.9 L965.9 496.6 L960.1 494.3 L954.2 492.0 L948.3 489.7 L942.5 487.5 L936.6 485.3 L930.7 483.2 L924.9 481.2 L919.0 479.2 L913.1 477.4 L907.3 475.6 L901.4 474.0 L895.6 472.5 L889.7 471.1 L883.8 469.9 L878.0 468.8 L872.1 467.9 L866.2 467.1 L860.4 466.5 L854.5 466.1 L848.6 465.8 L842.8 465.7 L836.9 465.8 L831.0 466.0 L825.2 466.4 L819.3 467.0 L813.4 467.7 L807.6 468.6 L801.7 469.6 L795.8 470.8 L790.0 472.1 L784.1 473.6 L778.2 475.2 L772.4 476.9 L766.5 478.7 L760.7 480.7 L754.8 482.7 L748.9 484.8 L743.1 486.9 L737.2 489.1 L731.3 491.4 L725.5 493.7 L719.6 496.0 L713.7 498.3 L707.9 500.6 L702.0 502.9Z" fill="url(#p25)" /><path d="M702.0 502.9 L707.9 500.6 L713.7 498.3 L719.6 496.0 L725.5 493.7 L731.3 491.4 L737.2 489.1 L743.1 486.9 L748.9 484.8 L754.8 482.7 L760.7 480.7 L766.5 478.7 L772.4 476.9 L778.2 475.2 L784.1 473.6 L790.0 472.1 L795.8 470.8 L801.7 469.6 L807.6 468.6 L813.4 467.7 L819.3 467.0 L825.2 466.4 L831.0 466.0 L836.9 465.8 L842.8 465.7 L848.6 465.8 L854.5 466.1 L860.4 466.5 L866.2 467.1 L872.1 467.9 L878.0 468.8 L883.8 469.9 L889.7 471.1 L895.6 472.5 L901.4 474.0 L907.3 475.6 L913.1 477.4 L919.0 479.2 L924.9 481.2 L930.7 483.2 L936.6 485.3 L942.5 487.5 L948.3 489.7 L954.2 492.0 L960.1 494.3 L965.9 496.6 L971.8 498.9 L977.7 501.2 L983.5 503.5 L989.4 505.7 L995.3 507.9 L1001.1 510.1 L1007.0 512.1 L1012.9 514.1 L1018.7 516.0 L1024.6 517.8 L1030.4 519.5 L1036.3 521.1 L1042.2 522.5 L1048.0 523.8 L1053.9 525.0 L1059.8 526.0 L1065.6 526.9 L1071.5 527.6 L1077.4 528.1 L1083.2 528.5 L1089.1 528.7 L1095.0 528.7 L1100.8 528.5 L1106.7 528.2 L1112.6 527.8 L1118.4 527.1 L1124.3 526.3 L1130.2 525.4 L1136.0 524.2 L1141.9 523.0 L1147.8 521.6 L1153.6 520.1 L1159.5 518.4 L1165.3 516.6 L1171.2 514.8 L1177.1 512.8 L1182.9 510.8 L1188.8 508.6 L1194.7 506.5 L1200.5 504.2 L1206.4 502.0 L1212.3 499.7 L1218.1 497.3 L1224.0 495.0 L1224.0 500.9 L1218.1 503.2 L1212.3 505.6 L1206.4 507.9 L1200.5 510.1 L1194.7 512.4 L1188.8 514.5 L1182.9 516.7 L1177.1 518.7 L1171.2 520.7 L1165.3 522.5 L1159.5 524.3 L1153.6 526.0 L1147.8 527.5 L1141.9 528.9 L1136.0 530.1 L1130.2 531.3 L1124.3 532.2 L1118.4 533.0 L1112.6 533.7 L1106.7 534.1 L1100.8 534.4 L1095.0 534.6 L1089.1 534.6 L1083.2 534.4 L1077.4 534.0 L1071.5 533.5 L1065.6 532.8 L1059.8 531.9 L1053.9 530.9 L1048.0 529.7 L1042.2 528.4 L1036.3 527.0 L1030.4 525.4 L1024.6 523.7 L1018.7 521.9 L1012.9 520.0 L1007.0 518.0 L1001.1 516.0 L995.3 513.8 L989.4 511.6 L983.5 509.4 L977.7 507.1 L971.8 504.8 L965.9 502.5 L960.1 500.2 L954.2 497.9 L948.3 495.6 L942.5 493.4 L936.6 491.2 L930.7 489.1 L924.9 487.1 L919.0 485.1 L913.1 483.3 L907.3 481.5 L901.4 479.9 L895.6 478.4 L889.7 477.0 L883.8 475.8 L878.0 474.7 L872.1 473.8 L866.2 473.0 L860.4 472.4 L854.5 472.0 L848.6 471.7 L842.8 471.6 L836.9 471.7 L831.0 471.9 L825.2 472.3 L819.3 472.9 L813.4 473.6 L807.6 474.5 L801.7 475.5 L795.8 476.7 L790.0 478.0 L784.1 479.5 L778.2 481.1 L772.4 482.8 L766.5 484.6 L760.7 486.6 L754.8 488.6 L748.9 490.7 L743.1 492.8 L737.2 495.0 L731.3 497.3 L725.5 499.6 L719.6 501.9 L713.7 504.2 L707.9 506.5 L702.0 508.8Z" fill="#161616" /><path d="M702.0 521.4 L707.9 519.1 L713.7 516.8 L719.6 514.5 L725.5 512.2 L731.3 509.9 L737.2 507.6 L743.1 505.4 L748.9 503.3 L754.8 501.2 L760.7 499.2 L766.5 497.2 L772.4 495.4 L778.2 493.7 L784.1 492.1 L790.0 490.6 L795.8 489.3 L801.7 488.1 L807.6 487.1 L813.4 486.2 L819.3 485.5 L825.2 484.9 L831.0 484.5 L836.9 484.3 L842.8 484.2 L848.6 484.3 L854.5 484.6 L860.4 485.0 L866.2 485.6 L872.1 486.4 L878.0 487.3 L883.8 488.4 L889.7 489.6 L895.6 491.0 L901.4 492.5 L907.3 494.1 L913.1 495.9 L919.0 497.7 L924.9 499.7 L930.7 501.7 L936.6 503.8 L942.5 506.0 L948.3 508.2 L954.2 510.5 L960.1 512.8 L965.9 515.1 L971.8 517.4 L977.7 519.7 L983.5 522.0 L989.4 524.2 L995.3 526.4 L1001.1 528.6 L1007.0 530.6 L1012.9 532.6 L1018.7 534.5 L1024.6 536.3 L1030.4 538.0 L1036.3 539.6 L1042.2 541.0 L1048.0 542.3 L1053.9 543.5 L1059.8 544.5 L1065.6 545.4 L1071.5 546.1 L1077.4 546.6 L1083.2 547.0 L1089.1 547.2 L1095.0 547.2 L1100.8 547.0 L1106.7 546.7 L1112.6 546.3 L1118.4 545.6 L1124.3 544.8 L1130.2 543.9 L1136.0 542.7 L1141.9 541.5 L1147.8 540.1 L1153.6 538.6 L1159.5 536.9 L1165.3 535.1 L1171.2 533.3 L1177.1 531.3 L1182.9 529.3 L1188.8 527.1 L1194.7 525.0 L1200.5 522.7 L1206.4 520.5 L1212.3 518.2 L1218.1 515.8 L1224.0 513.5" fill="none" stroke="#0f0f0f" stroke-width="1.8" /><path d="M702.0 522.2 L707.9 519.9 L713.7 517.6 L719.6 515.3 L725.5 513.0 L731.3 510.7 L737.2 508.4 L743.1 506.2 L748.9 504.1 L754.8 502.0 L760.7 500.0 L766.5 498.0 L772.4 496.2 L778.2 494.5 L784.1 492.9 L790.0 491.4 L795.8 490.1 L801.7 488.9 L807.6 487.9 L813.4 487.0 L819.3 486.3 L825.2 485.7 L831.0 485.3 L836.9 485.1 L842.8 485.0 L848.6 485.1 L854.5 485.4 L860.4 485.8 L866.2 486.4 L872.1 487.2 L878.0 488.1 L883.8 489.2 L889.7 490.4 L895.6 491.8 L901.4 493.3 L907.3 494.9 L913.1 496.7 L919.0 498.5 L924.9 500.5 L930.7 502.5 L936.6 504.6 L942.5 506.8 L948.3 509.0 L954.2 511.3 L960.1 513.6 L965.9 515.9 L971.8 518.2 L977.7 520.5 L983.5 522.8 L989.4 525.0 L995.3 527.2 L1001.1 529.4 L1007.0 531.4 L1012.9 533.4 L1018.7 535.3 L1024.6 537.1 L1030.4 538.8 L1036.3 540.4 L1042.2 541.8 L1048.0 543.1 L1053.9 544.3 L1059.8 545.3 L1065.6 546.2 L1071.5 546.9 L1077.4 547.4 L1083.2 547.8 L1089.1 548.0 L1095.0 548.0 L1100.8 547.8 L1106.7 547.5 L1112.6 547.1 L1118.4 546.4 L1124.3 545.6 L1130.2 544.7 L1136.0 543.5 L1141.9 542.3 L1147.8 540.9 L1153.6 539.4 L1159.5 537.7 L1165.3 535.9 L1171.2 534.1 L1177.1 532.1 L1182.9 530.1 L1188.8 527.9 L1194.7 525.8 L1200.5 523.5 L1206.4 521.3 L1212.3 519.0 L1218.1 516.6 L1224.0 514.3 L1224.0 528.5 L1218.1 530.8 L1212.3 533.2 L1206.4 535.5 L1200.5 537.7 L1194.7 540.0 L1188.8 542.1 L1182.9 544.3 L1177.1 546.3 L1171.2 548.3 L1165.3 550.1 L1159.5 551.9 L1153.6 553.6 L1147.8 555.1 L1141.9 556.5 L1136.0 557.7 L1130.2 558.9 L1124.3 559.8 L1118.4 560.6 L1112.6 561.3 L1106.7 561.7 L1100.8 562.0 L1095.0 562.2 L1089.1 562.2 L1083.2 562.0 L1077.4 561.6 L1071.5 561.1 L1065.6 560.4 L1059.8 559.5 L1053.9 558.5 L1048.0 557.3 L1042.2 556.0 L1036.3 554.6 L1030.4 553.0 L1024.6 551.3 L1018.7 549.5 L1012.9 547.6 L1007.0 545.6 L1001.1 543.6 L995.3 541.4 L989.4 539.2 L983.5 537.0 L977.7 534.7 L971.8 532.4 L965.9 530.1 L960.1 527.8 L954.2 525.5 L948.3 523.2 L942.5 521.0 L936.6 518.8 L930.7 516.7 L924.9 514.7 L919.0 512.7 L913.1 510.9 L907.3 509.1 L901.4 507.5 L895.6 506.0 L889.7 504.6 L883.8 503.4 L878.0 502.3 L872.1 501.4 L866.2 500.6 L860.4 500.0 L854.5 499.6 L848.6 499.3 L842.8 499.2 L836.9 499.3 L831.0 499.5 L825.2 499.9 L819.3 500.5 L813.4 501.2 L807.6 502.1 L801.7 503.1 L795.8 504.3 L790.0 505.6 L784.1 507.1 L778.2 508.7 L772.4 510.4 L766.5 512.2 L760.7 514.2 L754.8 516.2 L748.9 518.3 L743.1 520.4 L737.2 522.6 L731.3 524.9 L725.5 527.2 L719.6 529.5 L713.7 531.8 L707.9 534.1 L702.0 536.4Z" fill="url(#p25)" /><path d="M702.0 536.4 L707.9 534.1 L713.7 531.8 L719.6 529.5 L725.5 527.2 L731.3 524.9 L737.2 522.6 L743.1 520.4 L748.9 518.3 L754.8 516.2 L760.7 514.2 L766.5 512.2 L772.4 510.4 L778.2 508.7 L784.1 507.1 L790.0 505.6 L795.8 504.3 L801.7 503.1 L807.6 502.1 L813.4 501.2 L819.3 500.5 L825.2 499.9 L831.0 499.5 L836.9 499.3 L842.8 499.2 L848.6 499.3 L854.5 499.6 L860.4 500.0 L866.2 500.6 L872.1 501.4 L878.0 502.3 L883.8 503.4 L889.7 504.6 L895.6 506.0 L901.4 507.5 L907.3 509.1 L913.1 510.9 L919.0 512.7 L924.9 514.7 L930.7 516.7 L936.6 518.8 L942.5 521.0 L948.3 523.2 L954.2 525.5 L960.1 527.8 L965.9 530.1 L971.8 532.4 L977.7 534.7 L983.5 537.0 L989.4 539.2 L995.3 541.4 L1001.1 543.6 L1007.0 545.6 L1012.9 547.6 L1018.7 549.5 L1024.6 551.3 L1030.4 553.0 L1036.3 554.6 L1042.2 556.0 L1048.0 557.3 L1053.9 558.5 L1059.8 559.5 L1065.6 560.4 L1071.5 561.1 L1077.4 561.6 L1083.2 562.0 L1089.1 562.2 L1095.0 562.2 L1100.8 562.0 L1106.7 561.7 L1112.6 561.3 L1118.4 560.6 L1124.3 559.8 L1130.2 558.9 L1136.0 557.7 L1141.9 556.5 L1147.8 555.1 L1153.6 553.6 L1159.5 551.9 L1165.3 550.1 L1171.2 548.3 L1177.1 546.3 L1182.9 544.3 L1188.8 542.1 L1194.7 540.0 L1200.5 537.7 L1206.4 535.5 L1212.3 533.2 L1218.1 530.8 L1224.0 528.5 L1224.0 534.4 L1218.1 536.7 L1212.3 539.1 L1206.4 541.4 L1200.5 543.6 L1194.7 545.9 L1188.8 548.0 L1182.9 550.2 L1177.1 552.2 L1171.2 554.2 L1165.3 556.0 L1159.5 557.8 L1153.6 559.5 L1147.8 561.0 L1141.9 562.4 L1136.0 563.6 L1130.2 564.8 L1124.3 565.7 L1118.4 566.5 L1112.6 567.2 L1106.7 567.6 L1100.8 567.9 L1095.0 568.1 L1089.1 568.1 L1083.2 567.9 L1077.4 567.5 L1071.5 567.0 L1065.6 566.3 L1059.8 565.4 L1053.9 564.4 L1048.0 563.2 L1042.2 561.9 L1036.3 560.5 L1030.4 558.9 L1024.6 557.2 L1018.7 555.4 L1012.9 553.5 L1007.0 551.5 L1001.1 549.5 L995.3 547.3 L989.4 545.1 L983.5 542.9 L977.7 540.6 L971.8 538.3 L965.9 536.0 L960.1 533.7 L954.2 531.4 L948.3 529.1 L942.5 526.9 L936.6 524.7 L930.7 522.6 L924.9 520.6 L919.0 518.6 L913.1 516.8 L907.3 515.0 L901.4 513.4 L895.6 511.9 L889.7 510.5 L883.8 509.3 L878.0 508.2 L872.1 507.3 L866.2 506.5 L860.4 505.9 L854.5 505.5 L848.6 505.2 L842.8 505.1 L836.9 505.2 L831.0 505.4 L825.2 505.8 L819.3 506.4 L813.4 507.1 L807.6 508.0 L801.7 509.0 L795.8 510.2 L790.0 511.5 L784.1 513.0 L778.2 514.6 L772.4 516.3 L766.5 518.1 L760.7 520.1 L754.8 522.1 L748.9 524.2 L743.1 526.3 L737.2 528.5 L731.3 530.8 L725.5 533.1 L719.6 535.4 L713.7 537.7 L707.9 540.0 L702.0 542.3Z" fill="#161616" /><path d="M702.0 554.9 L707.9 552.6 L713.7 550.3 L719.6 548.0 L725.5 545.7 L731.3 543.4 L737.2 541.1 L743.1 538.9 L748.9 536.8 L754.8 534.7 L760.7 532.7 L766.5 530.7 L772.4 528.9 L778.2 527.2 L784.1 525.6 L790.0 524.1 L795.8 522.8 L801.7 521.6 L807.6 520.6 L813.4 519.7 L819.3 519.0 L825.2 518.4 L831.0 518.0 L836.9 517.8 L842.8 517.7 L848.6 517.8 L854.5 518.1 L860.4 518.5 L866.2 519.1 L872.1 519.9 L878.0 520.8 L883.8 521.9 L889.7 523.1 L895.6 524.5 L901.4 526.0 L907.3 527.6 L913.1 529.4 L919.0 531.2 L924.9 533.2 L930.7 535.2 L936.6 537.3 L942.5 539.5 L948.3 541.7 L954.2 544.0 L960.1 546.3 L965.9 548.6 L971.8 550.9 L977.7 553.2 L983.5 555.5 L989.4 557.7 L995.3 559.9 L1001.1 562.1 L1007.0 564.1 L1012.9 566.1 L1018.7 568.0 L1024.6 569.8 L1030.4 571.5 L1036.3 573.1 L1042.2 574.5 L1048.0 575.8 L1053.9 577.0 L1059.8 578.0 L1065.6 578.9 L1071.5 579.6 L1077.4 580.1 L1083.2 580.5 L1089.1 580.7 L1095.0 580.7 L1100.8 580.5 L1106.7 580.2 L1112.6 579.8 L1118.4 579.1 L1124.3 578.3 L1130.2 577.4 L1136.0 576.2 L1141.9 575.0 L1147.8 573.6 L1153.6 572.1 L1159.5 570.4 L1165.3 568.6 L1171.2 566.8 L1177.1 564.8 L1182.9 562.8 L1188.8 560.6 L1194.7 558.5 L1200.5 556.2 L1206.4 554.0 L1212.3 551.7 L1218.1 549.3 L1224.0 547.0" fill="none" stroke="#0f0f0f" stroke-width="1.8" /><path d="M702.0 555.7 L707.9 553.4 L713.7 551.1 L719.6 548.8 L725.5 546.5 L731.3 544.2 L737.2 541.9 L743.1 539.7 L748.9 537.6 L754.8 535.5 L760.7 533.5 L766.5 531.5 L772.4 529.7 L778.2 528.0 L784.1 526.4 L790.0 524.9 L795.8 523.6 L801.7 522.4 L807.6 521.4 L813.4 520.5 L819.3 519.8 L825.2 519.2 L831.0 518.8 L836.9 518.6 L842.8 518.5 L848.6 518.6 L854.5 518.9 L860.4 519.3 L866.2 519.9 L872.1 520.7 L878.0 521.6 L883.8 522.7 L889.7 523.9 L895.6 525.3 L901.4 526.8 L907.3 528.4 L913.1 530.2 L919.0 532.0 L924.9 534.0 L930.7 536.0 L936.6 538.1 L942.5 540.3 L948.3 542.5 L954.2 544.8 L960.1 547.1 L965.9 549.4 L971.8 551.7 L977.7 554.0 L983.5 556.3 L989.4 558.5 L995.3 560.7 L1001.1 562.9 L1007.0 564.9 L1012.9 566.9 L1018.7 568.8 L1024.6 570.6 L1030.4 572.3 L1036.3 573.9 L1042.2 575.3 L1048.0 576.6 L1053.9 577.8 L1059.8 578.8 L1065.6 579.7 L1071.5 580.4 L1077.4 580.9 L1083.2 581.3 L1089.1 581.5 L1095.0 581.5 L1100.8 581.3 L1106.7 581.0 L1112.6 580.6 L1118.4 579.9 L1124.3 579.1 L1130.2 578.2 L1136.0 577.0 L1141.9 575.8 L1147.8 574.4 L1153.6 572.9 L1159.5 571.2 L1165.3 569.4 L1171.2 567.6 L1177.1 565.6 L1182.9 563.6 L1188.8 561.4 L1194.7 559.3 L1200.5 557.0 L1206.4 554.8 L1212.3 552.5 L1218.1 550.1 L1224.0 547.8 L1224.0 562.0 L1218.1 564.3 L1212.3 566.7 L1206.4 569.0 L1200.5 571.2 L1194.7 573.5 L1188.8 575.6 L1182.9 577.8 L1177.1 579.8 L1171.2 581.8 L1165.3 583.6 L1159.5 585.4 L1153.6 587.1 L1147.8 588.6 L1141.9 590.0 L1136.0 591.2 L1130.2 592.4 L1124.3 593.3 L1118.4 594.1 L1112.6 594.8 L1106.7 595.2 L1100.8 595.5 L1095.0 595.7 L1089.1 595.7 L1083.2 595.5 L1077.4 595.1 L1071.5 594.6 L1065.6 593.9 L1059.8 593.0 L1053.9 592.0 L1048.0 590.8 L1042.2 589.5 L1036.3 588.1 L1030.4 586.5 L1024.6 584.8 L1018.7 583.0 L1012.9 581.1 L1007.0 579.1 L1001.1 577.1 L995.3 574.9 L989.4 572.7 L983.5 570.5 L977.7 568.2 L971.8 565.9 L965.9 563.6 L960.1 561.3 L954.2 559.0 L948.3 556.7 L942.5 554.5 L936.6 552.3 L930.7 550.2 L924.9 548.2 L919.0 546.2 L913.1 544.4 L907.3 542.6 L901.4 541.0 L895.6 539.5 L889.7 538.1 L883.8 536.9 L878.0 535.8 L872.1 534.9 L866.2 534.1 L860.4 533.5 L854.5 533.1 L848.6 532.8 L842.8 532.7 L836.9 532.8 L831.0 533.0 L825.2 533.4 L819.3 534.0 L813.4 534.7 L807.6 535.6 L801.7 536.6 L795.8 537.8 L790.0 539.1 L784.1 540.6 L778.2 542.2 L772.4 543.9 L766.5 545.7 L760.7 547.7 L754.8 549.7 L748.9 551.8 L743.1 553.9 L737.2 556.1 L731.3 558.4 L725.5 560.7 L719.6 563.0 L713.7 565.3 L707.9 567.6 L702.0 569.9Z" fill="url(#p25)" /><path d="M702.0 569.9 L707.9 567.6 L713.7 565.3 L719.6 563.0 L725.5 560.7 L731.3 558.4 L737.2 556.1 L743.1 553.9 L748.9 551.8 L754.8 549.7 L760.7 547.7 L766.5 545.7 L772.4 543.9 L778.2 542.2 L784.1 540.6 L790.0 539.1 L795.8 537.8 L801.7 536.6 L807.6 535.6 L813.4 534.7 L819.3 534.0 L825.2 533.4 L831.0 533.0 L836.9 532.8 L842.8 532.7 L848.6 532.8 L854.5 533.1 L860.4 533.5 L866.2 534.1 L872.1 534.9 L878.0 535.8 L883.8 536.9 L889.7 538.1 L895.6 539.5 L901.4 541.0 L907.3 542.6 L913.1 544.4 L919.0 546.2 L924.9 548.2 L930.7 550.2 L936.6 552.3 L942.5 554.5 L948.3 556.7 L954.2 559.0 L960.1 561.3 L965.9 563.6 L971.8 565.9 L977.7 568.2 L983.5 570.5 L989.4 572.7 L995.3 574.9 L1001.1 577.1 L1007.0 579.1 L1012.9 581.1 L1018.7 583.0 L1024.6 584.8 L1030.4 586.5 L1036.3 588.1 L1042.2 589.5 L1048.0 590.8 L1053.9 592.0 L1059.8 593.0 L1065.6 593.9 L1071.5 594.6 L1077.4 595.1 L1083.2 595.5 L1089.1 595.7 L1095.0 595.7 L1100.8 595.5 L1106.7 595.2 L1112.6 594.8 L1118.4 594.1 L1124.3 593.3 L1130.2 592.4 L1136.0 591.2 L1141.9 590.0 L1147.8 588.6 L1153.6 587.1 L1159.5 585.4 L1165.3 583.6 L1171.2 581.8 L1177.1 579.8 L1182.9 577.8 L1188.8 575.6 L1194.7 573.5 L1200.5 571.2 L1206.4 569.0 L1212.3 566.7 L1218.1 564.3 L1224.0 562.0 L1224.0 567.9 L1218.1 570.2 L1212.3 572.6 L1206.4 574.9 L1200.5 577.1 L1194.7 579.4 L1188.8 581.5 L1182.9 583.7 L1177.1 585.7 L1171.2 587.7 L1165.3 589.5 L1159.5 591.3 L1153.6 593.0 L1147.8 594.5 L1141.9 595.9 L1136.0 597.1 L1130.2 598.3 L1124.3 599.2 L1118.4 600.0 L1112.6 600.7 L1106.7 601.1 L1100.8 601.4 L1095.0 601.6 L1089.1 601.6 L1083.2 601.4 L1077.4 601.0 L1071.5 600.5 L1065.6 599.8 L1059.8 598.9 L1053.9 597.9 L1048.0 596.7 L1042.2 595.4 L1036.3 594.0 L1030.4 592.4 L1024.6 590.7 L1018.7 588.9 L1012.9 587.0 L1007.0 585.0 L1001.1 583.0 L995.3 580.8 L989.4 578.6 L983.5 576.4 L977.7 574.1 L971.8 571.8 L965.9 569.5 L960.1 567.2 L954.2 564.9 L948.3 562.6 L942.5 560.4 L936.6 558.2 L930.7 556.1 L924.9 554.1 L919.0 552.1 L913.1 550.3 L907.3 548.5 L901.4 546.9 L895.6 545.4 L889.7 544.0 L883.8 542.8 L878.0 541.7 L872.1 540.8 L866.2 540.0 L860.4 539.4 L854.5 539.0 L848.6 538.7 L842.8 538.6 L836.9 538.7 L831.0 538.9 L825.2 539.3 L819.3 539.9 L813.4 540.6 L807.6 541.5 L801.7 542.5 L795.8 543.7 L790.0 545.0 L784.1 546.5 L778.2 548.1 L772.4 549.8 L766.5 551.6 L760.7 553.6 L754.8 555.6 L748.9 557.7 L743.1 559.8 L737.2 562.0 L731.3 564.3 L725.5 566.6 L719.6 568.9 L713.7 571.2 L707.9 573.5 L702.0 575.8Z" fill="#161616" /><path d="M702.0 588.4 L707.9 586.1 L713.7 583.8 L719.6 581.5 L725.5 579.2 L731.3 576.9 L737.2 574.6 L743.1 572.4 L748.9 570.3 L754.8 568.2 L760.7 566.2 L766.5 564.2 L772.4 562.4 L778.2 560.7 L784.1 559.1 L790.0 557.6 L795.8 556.3 L801.7 555.1 L807.6 554.1 L813.4 553.2 L819.3 552.5 L825.2 551.9 L831.0 551.5 L836.9 551.3 L842.8 551.2 L848.6 551.3 L854.5 551.6 L860.4 552.0 L866.2 552.6 L872.1 553.4 L878.0 554.3 L883.8 555.4 L889.7 556.6 L895.6 558.0 L901.4 559.5 L907.3 561.1 L913.1 562.9 L919.0 564.7 L924.9 566.7 L930.7 568.7 L936.6 570.8 L942.5 573.0 L948.3 575.2 L954.2 577.5 L960.1 579.8 L965.9 582.1 L971.8 584.4 L977.7 586.7 L983.5 589.0 L989.4 591.2 L995.3 593.4 L1001.1 595.6 L1007.0 597.6 L1012.9 599.6 L1018.7 601.5 L1024.6 603.3 L1030.4 605.0 L1036.3 606.6 L1042.2 608.0 L1048.0 609.3 L1053.9 610.5 L1059.8 611.5 L1065.6 612.4 L1071.5 613.1 L1077.4 613.6 L1083.2 614.0 L1089.1 614.2 L1095.0 614.2 L1100.8 614.0 L1106.7 613.7 L1112.6 613.3 L1118.4 612.6 L1124.3 611.8 L1130.2 610.9 L1136.0 609.7 L1141.9 608.5 L1147.8 607.1 L1153.6 605.6 L1159.5 603.9 L1165.3 602.1 L1171.2 600.3 L1177.1 598.3 L1182.9 596.3 L1188.8 594.1 L1194.7 592.0 L1200.5 589.7 L1206.4 587.5 L1212.3 585.2 L1218.1 582.8 L1224.0 580.5" fill="none" stroke="#0f0f0f" stroke-width="1.8" /><path d="M702.0 589.2 L707.9 586.9 L713.7 584.6 L719.6 582.3 L725.5 580.0 L731.3 577.7 L737.2 575.4 L743.1 573.2 L748.9 571.1 L754.8 569.0 L760.7 567.0 L766.5 565.0 L772.4 563.2 L778.2 561.5 L784.1 559.9 L790.0 558.4 L795.8 557.1 L801.7 555.9 L807.6 554.9 L813.4 554.0 L819.3 553.3 L825.2 552.7 L831.0 552.3 L836.9 552.1 L842.8 552.0 L848.6 552.1 L854.5 552.4 L860.4 552.8 L866.2 553.4 L872.1 554.2 L878.0 555.1 L883.8 556.2 L889.7 557.4 L895.6 558.8 L901.4 560.3 L907.3 561.9 L913.1 563.7 L919.0 565.5 L924.9 567.5 L930.7 569.5 L936.6 571.6 L942.5 573.8 L948.3 576.0 L954.2 578.3 L960.1 580.6 L965.9 582.9 L971.8 585.2 L977.7 587.5 L983.5 589.8 L989.4 592.0 L995.3 594.2 L1001.1 596.4 L1007.0 598.4 L1012.9 600.4 L1018.7 602.3 L1024.6 604.1 L1030.4 605.8 L1036.3 607.4 L1042.2 608.8 L1048.0 610.1 L1053.9 611.3 L1059.8 612.3 L1065.6 613.2 L1071.5 613.9 L1077.4 614.4 L1083.2 614.8 L1089.1 615.0 L1095.0 615.0 L1100.8 614.8 L1106.7 614.5 L1112.6 614.1 L1118.4 613.4 L1124.3 612.6 L1130.2 611.7 L1136.0 610.5 L1141.9 609.3 L1147.8 607.9 L1153.6 606.4 L1159.5 604.7 L1165.3 602.9 L1171.2 601.1 L1177.1 599.1 L1182.9 597.1 L1188.8 594.9 L1194.7 592.8 L1200.5 590.5 L1206.4 588.3 L1212.3 586.0 L1218.1 583.6 L1224.0 581.3 L1224.0 595.5 L1218.1 597.8 L1212.3 600.2 L1206.4 602.5 L1200.5 604.7 L1194.7 607.0 L1188.8 609.1 L1182.9 611.3 L1177.1 613.3 L1171.2 615.3 L1165.3 617.1 L1159.5 618.9 L1153.6 620.6 L1147.8 622.1 L1141.9 623.5 L1136.0 624.7 L1130.2 625.9 L1124.3 626.8 L1118.4 627.6 L1112.6 628.3 L1106.7 628.7 L1100.8 629.0 L1095.0 629.2 L1089.1 629.2 L1083.2 629.0 L1077.4 628.6 L1071.5 628.1 L1065.6 627.4 L1059.8 626.5 L1053.9 625.5 L1048.0 624.3 L1042.2 623.0 L1036.3 621.6 L1030.4 620.0 L1024.6 618.3 L1018.7 616.5 L1012.9 614.6 L1007.0 612.6 L1001.1 610.6 L995.3 608.4 L989.4 606.2 L983.5 604.0 L977.7 601.7 L971.8 599.4 L965.9 597.1 L960.1 594.8 L954.2 592.5 L948.3 590.2 L942.5 588.0 L936.6 585.8 L930.7 583.7 L924.9 581.7 L919.0 579.7 L913.1 577.9 L907.3 576.1 L901.4 574.5 L895.6 573.0 L889.7 571.6 L883.8 570.4 L878.0 569.3 L872.1 568.4 L866.2 567.6 L860.4 567.0 L854.5 566.6 L848.6 566.3 L842.8 566.2 L836.9 566.3 L831.0 566.5 L825.2 566.9 L819.3 567.5 L813.4 568.2 L807.6 569.1 L801.7 570.1 L795.8 571.3 L790.0 572.6 L784.1 574.1 L778.2 575.7 L772.4 577.4 L766.5 579.2 L760.7 581.2 L754.8 583.2 L748.9 585.3 L743.1 587.4 L737.2 589.6 L731.3 591.9 L725.5 594.2 L719.6 596.5 L713.7 598.8 L707.9 601.1 L702.0 603.4Z" fill="url(#p25)" /><path d="M702.0 603.4 L707.9 601.1 L713.7 598.8 L719.6 596.5 L725.5 594.2 L731.3 591.9 L737.2 589.6 L743.1 587.4 L748.9 585.3 L754.8 583.2 L760.7 581.2 L766.5 579.2 L772.4 577.4 L778.2 575.7 L784.1 574.1 L790.0 572.6 L795.8 571.3 L801.7 570.1 L807.6 569.1 L813.4 568.2 L819.3 567.5 L825.2 566.9 L831.0 566.5 L836.9 566.3 L842.8 566.2 L848.6 566.3 L854.5 566.6 L860.4 567.0 L866.2 567.6 L872.1 568.4 L878.0 569.3 L883.8 570.4 L889.7 571.6 L895.6 573.0 L901.4 574.5 L907.3 576.1 L913.1 577.9 L919.0 579.7 L924.9 581.7 L930.7 583.7 L936.6 585.8 L942.5 588.0 L948.3 590.2 L954.2 592.5 L960.1 594.8 L965.9 597.1 L971.8 599.4 L977.7 601.7 L983.5 604.0 L989.4 606.2 L995.3 608.4 L1001.1 610.6 L1007.0 612.6 L1012.9 614.6 L1018.7 616.5 L1024.6 618.3 L1030.4 620.0 L1036.3 621.6 L1042.2 623.0 L1048.0 624.3 L1053.9 625.5 L1059.8 626.5 L1065.6 627.4 L1071.5 628.1 L1077.4 628.6 L1083.2 629.0 L1089.1 629.2 L1095.0 629.2 L1100.8 629.0 L1106.7 628.7 L1112.6 628.3 L1118.4 627.6 L1124.3 626.8 L1130.2 625.9 L1136.0 624.7 L1141.9 623.5 L1147.8 622.1 L1153.6 620.6 L1159.5 618.9 L1165.3 617.1 L1171.2 615.3 L1177.1 613.3 L1182.9 611.3 L1188.8 609.1 L1194.7 607.0 L1200.5 604.7 L1206.4 602.5 L1212.3 600.2 L1218.1 597.8 L1224.0 595.5 L1224.0 601.4 L1218.1 603.7 L1212.3 606.1 L1206.4 608.4 L1200.5 610.6 L1194.7 612.9 L1188.8 615.0 L1182.9 617.2 L1177.1 619.2 L1171.2 621.2 L1165.3 623.0 L1159.5 624.8 L1153.6 626.5 L1147.8 628.0 L1141.9 629.4 L1136.0 630.6 L1130.2 631.8 L1124.3 632.7 L1118.4 633.5 L1112.6 634.2 L1106.7 634.6 L1100.8 634.9 L1095.0 635.1 L1089.1 635.1 L1083.2 634.9 L1077.4 634.5 L1071.5 634.0 L1065.6 633.3 L1059.8 632.4 L1053.9 631.4 L1048.0 630.2 L1042.2 628.9 L1036.3 627.5 L1030.4 625.9 L1024.6 624.2 L1018.7 622.4 L1012.9 620.5 L1007.0 618.5 L1001.1 616.5 L995.3 614.3 L989.4 612.1 L983.5 609.9 L977.7 607.6 L971.8 605.3 L965.9 603.0 L960.1 600.7 L954.2 598.4 L948.3 596.1 L942.5 593.9 L936.6 591.7 L930.7 589.6 L924.9 587.6 L919.0 585.6 L913.1 583.8 L907.3 582.0 L901.4 580.4 L895.6 578.9 L889.7 577.5 L883.8 576.3 L878.0 575.2 L872.1 574.3 L866.2 573.5 L860.4 572.9 L854.5 572.5 L848.6 572.2 L842.8 572.1 L836.9 572.2 L831.0 572.4 L825.2 572.8 L819.3 573.4 L813.4 574.1 L807.6 575.0 L801.7 576.0 L795.8 577.2 L790.0 578.5 L784.1 580.0 L778.2 581.6 L772.4 583.3 L766.5 585.1 L760.7 587.1 L754.8 589.1 L748.9 591.2 L743.1 593.3 L737.2 595.5 L731.3 597.8 L725.5 600.1 L719.6 602.4 L713.7 604.7 L707.9 607.0 L702.0 609.3Z" fill="#161616" /><path d="M702.0 621.9 L707.9 619.6 L713.7 617.3 L719.6 615.0 L725.5 612.7 L731.3 610.4 L737.2 608.1 L743.1 605.9 L748.9 603.8 L754.8 601.7 L760.7 599.7 L766.5 597.7 L772.4 595.9 L778.2 594.2 L784.1 592.6 L790.0 591.1 L795.8 589.8 L801.7 588.6 L807.6 587.6 L813.4 586.7 L819.3 586.0 L825.2 585.4 L831.0 585.0 L836.9 584.8 L842.8 584.7 L848.6 584.8 L854.5 585.1 L860.4 585.5 L866.2 586.1 L872.1 586.9 L878.0 587.8 L883.8 588.9 L889.7 590.1 L895.6 591.5 L901.4 593.0 L907.3 594.6 L913.1 596.4 L919.0 598.2 L924.9 600.2 L930.7 602.2 L936.6 604.3 L942.5 606.5 L948.3 608.7 L954.2 611.0 L960.1 613.3 L965.9 615.6 L971.8 617.9 L977.7 620.2 L983.5 622.5 L989.4 624.7 L995.3 626.9 L1001.1 629.1 L1007.0 631.1 L1012.9 633.1 L1018.7 635.0 L1024.6 636.8 L1030.4 638.5 L1036.3 640.1 L1042.2 641.5 L1048.0 642.8 L1053.9 644.0 L1059.8 645.0 L1065.6 645.9 L1071.5 646.6 L1077.4 647.1 L1083.2 647.5 L1089.1 647.7 L1095.0 647.7 L1100.8 647.5 L1106.7 647.2 L1112.6 646.8 L1118.4 646.1 L1124.3 645.3 L1130.2 644.4 L1136.0 643.2 L1141.9 642.0 L1147.8 640.6 L1153.6 639.1 L1159.5 637.4 L1165.3 635.6 L1171.2 633.8 L1177.1 631.8 L1182.9 629.8 L1188.8 627.6 L1194.7 625.5 L1200.5 623.2 L1206.4 621.0 L1212.3 618.7 L1218.1 616.3 L1224.0 614.0" fill="none" stroke="#0f0f0f" stroke-width="1.8" /><path d="M702.0 622.7 L707.9 620.4 L713.7 618.1 L719.6 615.8 L725.5 613.5 L731.3 611.2 L737.2 608.9 L743.1 606.7 L748.9 604.6 L754.8 602.5 L760.7 600.5 L766.5 598.5 L772.4 596.7 L778.2 595.0 L784.1 593.4 L790.0 591.9 L795.8 590.6 L801.7 589.4 L807.6 588.4 L813.4 587.5 L819.3 586.8 L825.2 586.2 L831.0 585.8 L836.9 585.6 L842.8 585.5 L848.6 585.6 L854.5 585.9 L860.4 586.3 L866.2 586.9 L872.1 587.7 L878.0 588.6 L883.8 589.7 L889.7 590.9 L895.6 592.3 L901.4 593.8 L907.3 595.4 L913.1 597.2 L919.0 599.0 L924.9 601.0 L930.7 603.0 L936.6 605.1 L942.5 607.3 L948.3 609.5 L954.2 611.8 L960.1 614.1 L965.9 616.4 L971.8 618.7 L977.7 621.0 L983.5 623.3 L989.4 625.5 L995.3 627.7 L1001.1 629.9 L1007.0 631.9 L1012.9 633.9 L1018.7 635.8 L1024.6 637.6 L1030.4 639.3 L1036.3 640.9 L1042.2 642.3 L1048.0 643.6 L1053.9 644.8 L1059.8 645.8 L1065.6 646.7 L1071.5 647.4 L1077.4 647.9 L1083.2 648.3 L1089.1 648.5 L1095.0 648.5 L1100.8 648.3 L1106.7 648.0 L1112.6 647.6 L1118.4 646.9 L1124.3 646.1 L1130.2 645.2 L1136.0 644.0 L1141.9 642.8 L1147.8 641.4 L1153.6 639.9 L1159.5 638.2 L1165.3 636.4 L1171.2 634.6 L1177.1 632.6 L1182.9 630.6 L1188.8 628.4 L1194.7 626.3 L1200.5 624.0 L1206.4 621.8 L1212.3 619.5 L1218.1 617.1 L1224.0 614.8 L1224.0 629.0 L1218.1 631.3 L1212.3 633.7 L1206.4 636.0 L1200.5 638.2 L1194.7 640.5 L1188.8 642.6 L1182.9 644.8 L1177.1 646.8 L1171.2 648.8 L1165.3 650.6 L1159.5 652.4 L1153.6 654.1 L1147.8 655.6 L1141.9 657.0 L1136.0 658.2 L1130.2 659.4 L1124.3 660.3 L1118.4 661.1 L1112.6 661.8 L1106.7 662.2 L1100.8 662.5 L1095.0 662.7 L1089.1 662.7 L1083.2 662.5 L1077.4 662.1 L1071.5 661.6 L1065.6 660.9 L1059.8 660.0 L1053.9 659.0 L1048.0 657.8 L1042.2 656.5 L1036.3 655.1 L1030.4 653.5 L1024.6 651.8 L1018.7 650.0 L1012.9 648.1 L1007.0 646.1 L1001.1 644.1 L995.3 641.9 L989.4 639.7 L983.5 637.5 L977.7 635.2 L971.8 632.9 L965.9 630.6 L960.1 628.3 L954.2 626.0 L948.3 623.7 L942.5 621.5 L936.6 619.3 L930.7 617.2 L924.9 615.2 L919.0 613.2 L913.1 611.4 L907.3 609.6 L901.4 608.0 L895.6 606.5 L889.7 605.1 L883.8 603.9 L878.0 602.8 L872.1 601.9 L866.2 601.1 L860.4 600.5 L854.5 600.1 L848.6 599.8 L842.8 599.7 L836.9 599.8 L831.0 600.0 L825.2 600.4 L819.3 601.0 L813.4 601.7 L807.6 602.6 L801.7 603.6 L795.8 604.8 L790.0 606.1 L784.1 607.6 L778.2 609.2 L772.4 610.9 L766.5 612.7 L760.7 614.7 L754.8 616.7 L748.9 618.8 L743.1 620.9 L737.2 623.1 L731.3 625.4 L725.5 627.7 L719.6 630.0 L713.7 632.3 L707.9 634.6 L702.0 636.9Z" fill="url(#p25)" /><path d="M702.0 636.9 L707.9 634.6 L713.7 632.3 L719.6 630.0 L725.5 627.7 L731.3 625.4 L737.2 623.1 L743.1 620.9 L748.9 618.8 L754.8 616.7 L760.7 614.7 L766.5 612.7 L772.4 610.9 L778.2 609.2 L784.1 607.6 L790.0 606.1 L795.8 604.8 L801.7 603.6 L807.6 602.6 L813.4 601.7 L819.3 601.0 L825.2 600.4 L831.0 600.0 L836.9 599.8 L842.8 599.7 L848.6 599.8 L854.5 600.1 L860.4 600.5 L866.2 601.1 L872.1 601.9 L878.0 602.8 L883.8 603.9 L889.7 605.1 L895.6 606.5 L901.4 608.0 L907.3 609.6 L913.1 611.4 L919.0 613.2 L924.9 615.2 L930.7 617.2 L936.6 619.3 L942.5 621.5 L948.3 623.7 L954.2 626.0 L960.1 628.3 L965.9 630.6 L971.8 632.9 L977.7 635.2 L983.5 637.5 L989.4 639.7 L995.3 641.9 L1001.1 644.1 L1007.0 646.1 L1012.9 648.1 L1018.7 650.0 L1024.6 651.8 L1030.4 653.5 L1036.3 655.1 L1042.2 656.5 L1048.0 657.8 L1053.9 659.0 L1059.8 660.0 L1065.6 660.9 L1071.5 661.6 L1077.4 662.1 L1083.2 662.5 L1089.1 662.7 L1095.0 662.7 L1100.8 662.5 L1106.7 662.2 L1112.6 661.8 L1118.4 661.1 L1124.3 660.3 L1130.2 659.4 L1136.0 658.2 L1141.9 657.0 L1147.8 655.6 L1153.6 654.1 L1159.5 652.4 L1165.3 650.6 L1171.2 648.8 L1177.1 646.8 L1182.9 644.8 L1188.8 642.6 L1194.7 640.5 L1200.5 638.2 L1206.4 636.0 L1212.3 633.7 L1218.1 631.3 L1224.0 629.0 L1224.0 634.9 L1218.1 637.2 L1212.3 639.6 L1206.4 641.9 L1200.5 644.1 L1194.7 646.4 L1188.8 648.5 L1182.9 650.7 L1177.1 652.7 L1171.2 654.7 L1165.3 656.5 L1159.5 658.3 L1153.6 660.0 L1147.8 661.5 L1141.9 662.9 L1136.0 664.1 L1130.2 665.3 L1124.3 666.2 L1118.4 667.0 L1112.6 667.7 L1106.7 668.1 L1100.8 668.4 L1095.0 668.6 L1089.1 668.6 L1083.2 668.4 L1077.4 668.0 L1071.5 667.5 L1065.6 666.8 L1059.8 665.9 L1053.9 664.9 L1048.0 663.7 L1042.2 662.4 L1036.3 661.0 L1030.4 659.4 L1024.6 657.7 L1018.7 655.9 L1012.9 654.0 L1007.0 652.0 L1001.1 650.0 L995.3 647.8 L989.4 645.6 L983.5 643.4 L977.7 641.1 L971.8 638.8 L965.9 636.5 L960.1 634.2 L954.2 631.9 L948.3 629.6 L942.5 627.4 L936.6 625.2 L930.7 623.1 L924.9 621.1 L919.0 619.1 L913.1 617.3 L907.3 615.5 L901.4 613.9 L895.6 612.4 L889.7 611.0 L883.8 609.8 L878.0 608.7 L872.1 607.8 L866.2 607.0 L860.4 606.4 L854.5 606.0 L848.6 605.7 L842.8 605.6 L836.9 605.7 L831.0 605.9 L825.2 606.3 L819.3 606.9 L813.4 607.6 L807.6 608.5 L801.7 609.5 L795.8 610.7 L790.0 612.0 L784.1 613.5 L778.2 615.1 L772.4 616.8 L766.5 618.6 L760.7 620.6 L754.8 622.6 L748.9 624.7 L743.1 626.8 L737.2 629.0 L731.3 631.3 L725.5 633.6 L719.6 635.9 L713.7 638.2 L707.9 640.5 L702.0 642.8Z" fill="#161616" /><path d="M702.0 655.4 L707.9 653.1 L713.7 650.8 L719.6 648.5 L725.5 646.2 L731.3 643.9 L737.2 641.6 L743.1 639.4 L748.9 637.3 L754.8 635.2 L760.7 633.2 L766.5 631.2 L772.4 629.4 L778.2 627.7 L784.1 626.1 L790.0 624.6 L795.8 623.3 L801.7 622.1 L807.6 621.1 L813.4 620.2 L819.3 619.5 L825.2 618.9 L831.0 618.5 L836.9 618.3 L842.8 618.2 L848.6 618.3 L854.5 618.6 L860.4 619.0 L866.2 619.6 L872.1 620.4 L878.0 621.3 L883.8 622.4 L889.7 623.6 L895.6 625.0 L901.4 626.5 L907.3 628.1 L913.1 629.9 L919.0 631.7 L924.9 633.7 L930.7 635.7 L936.6 637.8 L942.5 640.0 L948.3 642.2 L954.2 644.5 L960.1 646.8 L965.9 649.1 L971.8 651.4 L977.7 653.7 L983.5 656.0 L989.4 658.2 L995.3 660.4 L1001.1 662.6 L1007.0 664.6 L1012.9 666.6 L1018.7 668.5 L1024.6 670.3 L1030.4 672.0 L1036.3 673.6 L1042.2 675.0 L1048.0 676.3 L1053.9 677.5 L1059.8 678.5 L1065.6 679.4 L1071.5 680.1 L1077.4 680.6 L1083.2 681.0 L1089.1 681.2 L1095.0 681.2 L1100.8 681.0 L1106.7 680.7 L1112.6 680.3 L1118.4 679.6 L1124.3 678.8 L1130.2 677.9 L1136.0 676.7 L1141.9 675.5 L1147.8 674.1 L1153.6 672.6 L1159.5 670.9 L1165.3 669.1 L1171.2 667.3 L1177.1 665.3 L1182.9 663.3 L1188.8 661.1 L1194.7 659.0 L1200.5 656.7 L1206.4 654.5 L1212.3 652.2 L1218.1 649.8 L1224.0 647.5" fill="none" stroke="#0f0f0f" stroke-width="1.8" /></g>
<path d="M713.0 399.5 L718.2 411.3 L718.2 423.2 L716.4 435.0 L713.6 446.9 L714.9 458.7 L713.9 470.6 L717.3 482.4 L718.2 494.2 L714.5 506.1 L714.1 517.9 L712.3 529.8 L716.4 541.6 L716.5 553.5 L715.9 565.3 L713.5 577.2 L720.0 589.0 L1215.0 589.0 L1213.0 577.2 L1212.8 565.3 L1212.6 553.5 L1211.3 541.6 L1213.5 529.8 L1215.4 517.9 L1208.1 506.1 L1208.6 494.2 L1213.9 482.4 L1213.2 470.6 L1214.5 458.7 L1208.6 446.9 L1212.1 435.0 L1215.9 423.2 L1213.8 411.3 L1212.0 399.5Z" fill="none" stroke="#1c1c1c" stroke-width="1.1" />
<path d="M948.2 589 L944 832 A23.7 23.7 0 0 0 991.4 832 L985.2 589" fill="none" stroke="#555555" stroke-width="0.9" />
<path d="M950.8 589 L946.4 832 A21.3 21.3 0 0 0 989 832 L982.6 589" fill="none" stroke="#555555" stroke-width="0.9" />
<circle cx="967.7" cy="831.5" r="18.8" fill="url(#p26)" stroke="#1c1c1c" stroke-width="1.1" />
<circle cx="967.7" cy="831.5" r="18.8" fill="url(#g17)" />
<circle cx="967.2" cy="831.5" r="6.3" fill="#fafafa" stroke="#1c1c1c" stroke-width="1" />
<circle cx="967.2" cy="831.5" r="2.6" fill="#c8c8c8" stroke="#3c3c3c" stroke-width="0.8" />
<line x1="938.4" y1="662.6" x2="938.4" y2="702" stroke="#323232" stroke-width="1" />
<path d="M935.6 692 L938.4 703.5 L941.2 692Z" fill="#282828" />
<line x1="997.7" y1="668" x2="997.7" y2="710.6" stroke="#323232" stroke-width="1" />
<path d="M994.9 672 L997.7 660 L1000.5 672Z" fill="#282828" />
<text transform="translate(865 635.5) scale(0.93 1)" font-size="45" >Fig.</text>
<text transform="translate(1000 635.5) scale(0.93 1)" font-size="45" >3.</text>
<text x="716" y="392.5" font-size="25" >E</text>
<text x="1149" y="609" font-size="25" >F</text>
<text x="916" y="761" font-size="20" >M</text>
<text x="993" y="757.5" font-size="20" >N</text>
<text x="953" y="786.5" font-size="20" >C</text>
<text x="988" y="838.5" font-size="25" >F</text>
<circle cx="350.4" cy="1182.5" r="279.3" fill="url(#p27)" stroke="#222" stroke-width="1.2" />
<circle cx="350.4" cy="1182.5" r="279.3" fill="url(#g18)" />
<circle cx="350.4" cy="1182.5" r="271.5" fill="url(#p28)" stroke="#222" stroke-width="1" />
<g clip-path="url(#c7)"><circle cx="350.4" cy="1182.5" r="271.5" fill="url(#g19)" /><g clip-path="url(#c8)"><path d="M349.0 955.0 L357.0 904.6 L368.0 909.6 L379.0 910.5 L390.0 911.9 L400.9 913.7 L411.7 916.0 L422.5 918.7 L433.1 921.8 L443.6 925.4 L453.9 929.4 L464.1 933.8 L474.1 938.6 L483.8 943.8 L490.8 953.6 L463.0 986.4 L456.7 978.6 L448.4 974.4 L439.9 970.6 L431.2 967.2 L422.4 964.1 L413.5 961.3 L404.5 958.9 L395.3 956.9 L386.2 955.3 L376.9 954.0 L367.6 953.1 L358.3 952.6Z" fill="url(#p29)" /></g><g clip-path="url(#c9)"><path d="M458.3 1384.0 L479.6 1420.8 L471.1 1427.9 L461.3 1432.5 L451.3 1436.7 L441.2 1440.5 L430.9 1443.9 L420.5 1446.9 L409.9 1449.4 L399.3 1451.6 L388.6 1453.3 L377.9 1454.6 L367.1 1455.5 L356.2 1455.9 L345.4 1456.0 L345.4 1410.0 L354.4 1412.5 L363.5 1412.1 L372.6 1411.4 L381.6 1410.4 L390.6 1409.0 L399.5 1407.2 L408.3 1405.1 L417.1 1402.6 L425.7 1399.8 L434.2 1396.7 L442.6 1393.2 L450.9 1389.4Z" fill="url(#p29)" /></g><g clip-path="url(#c10)"><path d="M345.4 1410.0 L345.4 1456.0 L334.7 1455.5 L324.0 1454.7 L313.3 1453.5 L302.8 1451.8 L292.2 1449.7 L281.8 1447.3 L271.5 1444.4 L261.3 1441.1 L251.2 1437.4 L241.3 1433.3 L231.5 1428.8 L222.0 1424.0 L211.6 1420.5 L234.0 1382.7 L242.6 1385.7 L250.6 1389.7 L258.7 1393.4 L266.9 1396.8 L275.3 1399.9 L283.8 1402.6 L292.4 1405.1 L301.1 1407.2 L309.8 1408.9 L318.7 1410.3 L327.5 1411.4 L336.4 1412.1Z" fill="url(#p29)" /></g><g clip-path="url(#c11)"><path d="M234.0 1382.7 L211.6 1420.5 L203.2 1413.0 L194.1 1406.9 L185.2 1400.5 L176.6 1393.7 L168.2 1386.5 L160.2 1379.0 L152.4 1371.2 L145.0 1363.1 L137.9 1354.7 L131.2 1346.0 L124.8 1337.1 L118.8 1327.9 L115.7 1317.0 L151.0 1296.8 L155.6 1304.8 L160.7 1312.6 L166.1 1320.1 L171.8 1327.4 L177.8 1334.5 L184.0 1341.3 L190.6 1347.9 L197.4 1354.2 L204.4 1360.2 L211.7 1365.9 L219.2 1371.4 L226.9 1376.5Z" fill="url(#p29)" /></g><g clip-path="url(#c12)"><path d="M151.0 1296.8 L115.7 1317.0 L107.9 1308.9 L103.0 1299.1 L98.6 1289.2 L94.5 1279.1 L90.9 1268.8 L87.6 1258.4 L84.8 1247.8 L82.4 1237.2 L80.5 1226.4 L78.9 1215.6 L77.8 1204.8 L77.1 1193.9 L77.9 1183.0 L124.0 1183.0 L120.6 1192.2 L121.2 1201.3 L122.1 1210.4 L123.4 1219.5 L125.1 1228.5 L127.1 1237.5 L129.4 1246.3 L132.2 1255.1 L135.2 1263.7 L138.6 1272.3 L142.4 1280.6 L146.5 1288.8Z" fill="url(#p29)" /></g><g clip-path="url(#c13)"><path d="M124.0 1183.0 L77.9 1183.0 L77.1 1171.6 L77.8 1160.1 L79.0 1148.8 L80.6 1137.5 L82.8 1126.2 L85.3 1115.1 L88.4 1104.0 L91.9 1093.2 L95.9 1082.4 L100.3 1071.9 L105.1 1061.5 L110.4 1051.4 L118.0 1042.6 L152.0 1065.0 L147.8 1073.6 L143.5 1082.0 L139.5 1090.7 L135.9 1099.4 L132.7 1108.4 L129.8 1117.4 L127.3 1126.6 L125.2 1135.8 L123.4 1145.2 L122.1 1154.6 L121.1 1164.0 L120.6 1173.5Z" fill="url(#p29)" /></g><g clip-path="url(#c14)"><path d="M152.0 1065.0 L118.0 1042.6 L121.9 1032.2 L128.1 1023.2 L134.6 1014.5 L141.4 1006.0 L148.6 997.9 L156.1 990.0 L164.0 982.4 L172.1 975.1 L180.5 968.2 L189.2 961.6 L198.1 955.3 L207.3 949.5 L215.0 941.0 L236.0 981.0 L228.9 987.2 L221.2 992.2 L213.7 997.5 L206.4 1003.1 L199.4 1009.0 L192.6 1015.2 L186.0 1021.6 L179.7 1028.3 L173.7 1035.3 L167.9 1042.5 L162.5 1049.9 L157.3 1057.5Z" fill="url(#p29)" /></g><g clip-path="url(#c15)"><path d="M236.0 981.0 L215.0 941.0 L226.6 938.6 L236.7 933.8 L247.0 929.3 L257.5 925.3 L268.2 921.6 L279.0 918.5 L289.9 915.8 L300.9 913.5 L312.0 911.7 L323.2 910.4 L334.4 909.5 L345.6 909.0 L357.0 904.6 L349.0 955.0 L340.0 952.7 L331.0 953.3 L322.0 954.3 L313.0 955.6 L304.2 957.2 L295.4 959.2 L286.6 961.5 L278.0 964.2 L269.5 967.2 L261.1 970.5 L252.9 974.2 L244.8 978.2Z" fill="url(#p29)" /></g></g>
<path d="M108 1257 h6M99 1261 h4M451 1414 h4M268 960 h6M170 1023 h3M139 1030 h5M106 1278 h4M190 988 h3M114 1247 h3M382 1426 h3M130 1090 h3M117 1091 h4M134 1303 h6M137 1298 h5M140 1072 h4M406 1420 h5M196 1004 h5M177 1363 h6M157 1350 h5M351 1424 h4M255 953 h6M152 1032 h3M342 1442 h6M339 1444 h6M285 1415 h3M352 1420 h5M178 1369 h4M116 1258 h4M106 1221 h5M186 993 h5M238 1425 h3M113 1254 h3M121 1070 h6M179 1345 h3M106 1278 h3M100 1153 h5M148 1033 h4M87 1205 h5M269 1427 h4M92 1153 h5M113 1292 h4M137 1060 h4M90 1230 h6M164 1352 h5M176 1009 h3M306 1434 h5M128 1077 h3M193 990 h4M369 1422 h3M192 992 h3M253 960 h6M341 1441 h6M119 1131 h4M316 1427 h4M146 1344 h4M106 1256 h3M169 1360 h5M101 1240 h4M166 1334 h5M96 1122 h5M331 1440 h3M212 1377 h6M214 1391 h5M114 1201 h3M137 1285 h5M87 1232 h6M396 1431 h5M480 1399 h5M257 1412 h4M270 1409 h5M133 1075 h3M95 1177 h3M120 1126 h6M93 1110 h3M93 1197 h3M150 1321 h6M107 1219 h4M143 1297 h5M387 1438 h5M99 1184 h3M175 988 h4M95 1120 h4M92 1134 h4M379 1440 h5M245 1426 h4M160 1344 h6M102 1113 h4M139 1330 h3M187 1387 h5M255 960 h3M115 1209 h6M425 1434 h5M98 1244 h5M157 1340 h5M120 1291 h3M192 1005 h4M455 1410 h5M150 1318 h4M244 1396 h6M131 1080 h5M131 1330 h5M136 1327 h3M403 1426 h4M107 1131 h6M157 1320 h4M209 993 h5M349 1447 h6M138 1033 h3M150 1356 h6M113 1225 h6M104 1116 h6M99 1140 h5M104 1135 h5M123 1091 h5M134 1322 h3M86 1220 h4M358 1441 h3M173 1006 h4M144 1031 h6M180 1378 h4M368 1421 h5M195 1372 h4M176 990 h4M392 1424 h3M376 1448 h6M110 1215 h5M110 1191 h3M284 1434 h4M128 1291 h3M111 1241 h3M119 1288 h6M272 1431 h3M253 1429 h3M113 1275 h5M109 1282 h5M116 1245 h4M165 1336 h4M466 1415 h5M283 1409 h6M190 1003 h6M357 1425 h5M211 1409 h4M98 1193 h3M129 1322 h5M95 1144 h3M131 1300 h4M357 1424 h6M251 957 h6M132 1294 h3M96 1229 h5M452 1397 h6M430 1417 h4M147 1035 h4M104 1277 h6M472 1412 h5M165 993 h6M133 1335 h3M109 1209 h3M399 1418 h6M356 1432 h4M126 1314 h4M335 1445 h4M324 1434 h4M133 1077 h4M318 1439 h3M108 1115 h3M107 1115 h4M250 1410 h5M234 951 h3M216 988 h6M286 1413 h3M126 1101 h4M431 1429 h5M261 1410 h6M237 950 h4M433 1405 h6M386 1421 h3M112 1288 h5M95 1164 h4M229 1400 h3M243 1420 h4M210 1397 h3M123 1097 h5M166 1027 h5M115 1109 h4M134 1074 h4M134 1085 h4M104 1217 h5M224 1416 h5M324 1445 h6M115 1088 h5M477 1409 h5M158 1040 h3M287 1439 h4M479 1403 h3M112 1253 h4M259 1423 h6M158 1013 h3M227 1388 h4M126 1080 h3M144 1326 h3M106 1229 h6M118 1285 h5M104 1143 h3M248 1397 h6M102 1178 h3M114 1219 h4M104 1111 h4M179 1368 h4M396 1438 h3M92 1120 h3" fill="none" stroke="#fff" stroke-width="1.6" />
<line x1="357" y1="904.6" x2="349" y2="955" stroke="#ebebeb" stroke-width="5.5" />
<line x1="354.136" y1="904.145" x2="346.136" y2="954.545" stroke="#222" stroke-width="0.9" />
<line x1="359.864" y1="905.055" x2="351.864" y2="955.455" stroke="#222" stroke-width="0.9" />
<line x1="490.8" y1="953.6" x2="463" y2="986.4" stroke="#ebebeb" stroke-width="5.5" />
<line x1="488.588" y1="951.725" x2="460.788" y2="984.525" stroke="#222" stroke-width="0.9" />
<line x1="493.012" y1="955.475" x2="465.212" y2="988.275" stroke="#222" stroke-width="0.9" />
<line x1="587.7" y1="1054.5" x2="553.9" y2="1074.7" stroke="#ebebeb" stroke-width="5.5" />
<line x1="586.212" y1="1052.01" x2="552.412" y2="1072.21" stroke="#222" stroke-width="0.9" />
<line x1="589.188" y1="1056.99" x2="555.388" y2="1077.19" stroke="#222" stroke-width="0.9" />
<line x1="621" y1="1186" x2="576" y2="1183" stroke="#ebebeb" stroke-width="5.5" />
<line x1="621.193" y1="1183.11" x2="576.193" y2="1180.11" stroke="#222" stroke-width="0.9" />
<line x1="620.807" y1="1188.89" x2="575.807" y2="1185.89" stroke="#222" stroke-width="0.9" />
<line x1="581.3" y1="1323.8" x2="545.8" y2="1301.3" stroke="#ebebeb" stroke-width="5.5" />
<line x1="582.852" y1="1321.35" x2="547.352" y2="1298.85" stroke="#222" stroke-width="0.9" />
<line x1="579.748" y1="1326.25" x2="544.248" y2="1303.75" stroke="#222" stroke-width="0.9" />
<line x1="479.6" y1="1420.8" x2="458.3" y2="1384" stroke="#ebebeb" stroke-width="5.5" />
<line x1="482.11" y1="1419.35" x2="460.81" y2="1382.55" stroke="#222" stroke-width="0.9" />
<line x1="477.09" y1="1422.25" x2="455.79" y2="1385.45" stroke="#222" stroke-width="0.9" />
<line x1="345.4" y1="1456" x2="345.4" y2="1410" stroke="#ebebeb" stroke-width="5.5" />
<line x1="348.3" y1="1456" x2="348.3" y2="1410" stroke="#222" stroke-width="0.9" />
<line x1="342.5" y1="1456" x2="342.5" y2="1410" stroke="#222" stroke-width="0.9" />
<line x1="211.6" y1="1420.5" x2="234" y2="1382.7" stroke="#ebebeb" stroke-width="5.5" />
<line x1="214.095" y1="1421.98" x2="236.495" y2="1384.18" stroke="#222" stroke-width="0.9" />
<line x1="209.105" y1="1419.02" x2="231.505" y2="1381.22" stroke="#222" stroke-width="0.9" />
<line x1="115.7" y1="1317" x2="151" y2="1296.8" stroke="#ebebeb" stroke-width="5.5" />
<line x1="117.14" y1="1319.52" x2="152.44" y2="1299.32" stroke="#222" stroke-width="0.9" />
<line x1="114.26" y1="1314.48" x2="149.56" y2="1294.28" stroke="#222" stroke-width="0.9" />
<line x1="77.9" y1="1183" x2="124" y2="1183" stroke="#ebebeb" stroke-width="5.5" />
<line x1="77.9" y1="1185.9" x2="124" y2="1185.9" stroke="#222" stroke-width="0.9" />
<line x1="77.9" y1="1180.1" x2="124" y2="1180.1" stroke="#222" stroke-width="0.9" />
<line x1="118" y1="1042.6" x2="152" y2="1065" stroke="#ebebeb" stroke-width="5.5" />
<line x1="116.405" y1="1045.02" x2="150.405" y2="1067.42" stroke="#222" stroke-width="0.9" />
<line x1="119.595" y1="1040.18" x2="153.595" y2="1062.58" stroke="#222" stroke-width="0.9" />
<line x1="215" y1="941" x2="236" y2="981" stroke="#ebebeb" stroke-width="5.5" />
<line x1="212.432" y1="942.348" x2="233.432" y2="982.348" stroke="#222" stroke-width="0.9" />
<line x1="217.568" y1="939.652" x2="238.568" y2="979.652" stroke="#222" stroke-width="0.9" />
<circle cx="350.4" cy="1182.5" r="229" fill="none" stroke="#e1e1e1" stroke-width="6" />
<circle cx="350.4" cy="1182.5" r="232" fill="none" stroke="#222" stroke-width="1" />
<circle cx="350.4" cy="1182.5" r="226" fill="none" stroke="#222" stroke-width="1.1" />
<circle cx="350.4" cy="1182.5" r="229" fill="none" stroke="url(#g20)" stroke-width="6" />
<circle cx="350.4" cy="1182.5" r="225.5" fill="url(#p30)" />
<g clip-path="url(#c16)"><path d="M120.0 1120.0 L135.0 1080.0 L160.0 1045.0 L191.0 1024.0 L215.0 1020.0 L252.0 1026.0 L275.0 1034.0 L302.0 1052.0 L320.0 1058.0 L343.0 1072.0 L354.0 1065.0 L375.0 1067.0 L394.0 1081.0 L418.0 1088.0 L434.0 1112.0 L458.0 1107.0 L482.0 1114.0 L505.0 1133.0 L529.0 1145.0 L553.0 1166.0 L580.0 1175.0 L600.0 1200.0 L600.0 1440.0 L100.0 1440.0Z" fill="url(#p31)" /><g clip-path="url(#c17)"><path d="M596 1327 596 1336 599 1344M127 1007 125 1010 127 1013M127 1013 120 1014 115 1019 109 1022 103 1025M599 1214 594 1209 591 1203 598 1195 595 1189 591 1183M612 1182 606 1180 599 1183 593 1179M593 1179 593 1181 591 1183M581 1244 584 1239 591 1235 592 1228 592 1221 596 1216M581 1244 583 1247 583 1250M596 1216 598 1215 599 1214M603 1251 596 1251 590 1252 583 1250M599 1344 597 1347 597 1350M546 1238 542 1244 546 1251 537 1255 539 1262M546 1238 549 1236 552 1235M581 1244 575 1238 565 1244 559 1240 552 1235M583 1250 584 1251 583 1253M572 1293 565 1291 560 1288M572 1293 573 1300 566 1306 566 1313 569 1320M551 1320 557 1318 563 1318 569 1320M551 1320 549 1314 546 1309 550 1302 546 1296M560 1288 552 1289 546 1296M541 1368 538 1362 536 1356 541 1350 538 1344M538 1344 545 1343 552 1344 558 1348 565 1348M564 1370 564 1363 567 1358 569 1352M565 1348 567 1350 569 1352M529 1333 535 1332 542 1331 546 1325 551 1320M529 1333 532 1340 538 1344M570 1321 567 1327 570 1335 565 1341 565 1348M567 1374 566 1371 564 1370M567 1374 574 1373 580 1378 587 1379 594 1380M594 1380 598 1375 600 1369 601 1363M597 1350 590 1352 583 1348 576 1355 569 1352M596 1327 590 1324 582 1329 576 1325 570 1321M486 1403 494 1400 503 1405 509 1398M486 1403 491 1409 490 1417 491 1425M509 1398 509 1406 510 1413 514 1419 518 1425M384 1419 377 1421 371 1422M112 1414 112 1409 114 1405M105 1168 113 1164 118 1157M109 1136 108 1144 119 1146 118 1154M118 1157 118 1155 118 1154M104 1267 110 1263 111 1254 115 1249 120 1243M104 1271 110 1274 117 1274 121 1280 128 1280 133 1284M120 1243 123 1239 128 1237M142 1275 137 1278 133 1284M128 1237 130 1238 132 1237M188 1097 191 1105 197 1110M227 1083 223 1089 227 1097 219 1102 222 1109M222 1109 215 1106 209 1107 203 1106 197 1110M110 1102 114 1105 120 1106M119 1124 120 1118 118 1112 120 1106M585 1152 592 1151 596 1144 605 1146 610 1140 616 1138 623 1136M585 1152 584 1154 584 1157M584 1157 589 1162 592 1169M529 1333 527 1332 525 1333M526 1385 519 1382 515 1377 512 1370 507 1366M525 1333 522 1338 522 1346 515 1349 514 1355 508 1359 507 1366M471 1271 465 1268 460 1264 457 1258M471 1271 470 1279 468 1287M459 1301 461 1298 465 1296M459 1301 452 1301 445 1303M445 1303 444 1295 438 1291 435 1285 428 1281M457 1258 451 1259 445 1262 441 1267 435 1269 428 1269M468 1287 466 1291 465 1296M459 1301 460 1307 460 1314 460 1320 462 1326 466 1331M465 1296 471 1297 478 1299 479 1308 483 1312 489 1313 495 1316M466 1331 471 1327 477 1324 485 1326 488 1318 495 1316M516 1302 512 1310 513 1319M495 1316 504 1318 513 1319M546 1296 540 1293 532 1299 525 1295 518 1295M518 1295 516 1298 516 1302M525 1333 519 1330 518 1322 513 1319M367 1418 369 1420 371 1422M339 1420 346 1422 352 1420 358 1414 365 1418M605 1296 598 1296 593 1291 588 1288M583 1253 584 1261 587 1268M572 1293 579 1287 588 1288M556 1276 558 1282 560 1288M518 1292 523 1285 523 1276M518 1292 511 1290 508 1282 500 1282 495 1278 489 1275 483 1272 477 1269M523 1276 517 1273 511 1271 506 1266 499 1266 494 1262 489 1259M477 1269 481 1262 489 1259M527 1269 526 1273 523 1276M471 1271 474 1271 477 1269M509 1398 514 1392 519 1388 526 1385M528 1385 533 1389 536 1396M536 1396 538 1402 542 1409 537 1416 540 1423M567 1374 566 1383 561 1390M536 1396 543 1395 548 1389 554 1390 561 1390M550 1425 545 1425 540 1423M316 1241 318 1242 320 1244M316 1241 316 1234 321 1228 320 1221M320 1244 324 1238 333 1240 339 1236M339 1236 346 1230 342 1220 348 1215M320 1221 323 1217 325 1214M348 1215 340 1217 333 1211 325 1214M373 1238 368 1242 363 1246M373 1238 375 1234 373 1230M363 1246 356 1245 352 1238 346 1236 339 1236M352 1213 359 1215 361 1224 367 1227 373 1230M352 1213 350 1214 348 1215M343 1330 350 1330 356 1328 363 1326 370 1326M132 1366 133 1371 136 1376M140 1350 147 1346 154 1343 163 1345M136 1376 142 1374 148 1377 154 1380 160 1374 167 1376M163 1345 167 1347 169 1351M102 1210 106 1215 108 1222 112 1226 120 1228 125 1231 128 1237M120 1243 113 1243 106 1238 98 1240 90 1240M132 1366 126 1363 119 1366 113 1367 107 1365M140 1350 138 1343 134 1337 127 1334 124 1328M124 1328 122 1328 121 1328M109 1307 108 1312 110 1317M133 1284 134 1287 133 1290M133 1290 127 1295 123 1302 114 1302 109 1307M127 1013 130 1019 136 1022M136 1022 142 1017 149 1023 155 1020M328 1312 330 1318 335 1323 337 1330M328 1312 334 1308 333 1299 339 1296 343 1291 348 1287M337 1330 340 1329 343 1330M374 1325 372 1325 370 1326M357 1290 353 1288 348 1287M330 1267 327 1261 325 1255 320 1251 320 1244M363 1246 361 1252 356 1257M341 1271 344 1265 351 1262 356 1257M308 1343 302 1347 300 1354 297 1360M308 1343 308 1336 303 1330 303 1324 302 1317M275 1336 278 1344 282 1351M276 1325 283 1322 287 1315M282 1351 290 1356 297 1360M287 1315 295 1313 302 1317M328 1312 323 1312 318 1309M337 1330 337 1332 335 1334M335 1334 328 1334 321 1337 314 1339 308 1343M302 1317 310 1314 318 1309M435 1204 440 1199 446 1196 452 1191M435 1204 437 1210 435 1217 442 1222 439 1229 442 1235M452 1191 458 1194 462 1199 461 1207 465 1211M465 1211 464 1220 462 1229M462 1229 457 1233 454 1239M442 1235 448 1237 454 1239M457 1258 454 1252 454 1246 454 1239M420 1234 419 1241 420 1247 421 1254 427 1260 424 1267M420 1234 427 1237 435 1233 442 1235M428 1269 427 1268 424 1267M417 1233 411 1236 404 1237 404 1249 396 1249 391 1252M417 1233 413 1227 413 1221 411 1214M373 1230 380 1227 381 1219 387 1215M387 1215 395 1211 403 1218 411 1214M417 1233 419 1232 420 1234M435 1204 428 1207 421 1205 414 1209M411 1214 413 1212 414 1209M354 1132 362 1134 370 1133 377 1128M354 1132 351 1126 351 1120 343 1117 345 1109 341 1104M377 1128 381 1124 380 1115 390 1114 391 1107 392 1100M179 1092 183 1095 188 1097M179 1092 176 1091 177 1087M227 1083 228 1081 230 1079M230 1079 223 1074 221 1067M177 1087 182 1084 187 1080 195 1083 199 1076 205 1076 211 1073 215 1069 221 1067M107 1195 113 1192 120 1190 127 1191 134 1189 141 1189M141 1189 142 1186 142 1183M168 1275 173 1272 177 1266M133 1238 139 1237 146 1237 153 1240 160 1237M177 1266 173 1260 177 1251 172 1244M160 1237 165 1242 172 1244M320 1221 315 1216 307 1218 304 1210 298 1208 293 1204M313 1181 310 1188 303 1191 298 1196 294 1201M110 1102 106 1095 106 1088 105 1080 106 1073M163 1047 156 1043 148 1042 141 1041 133 1043M163 1047 158 1052 157 1059 154 1065 151 1070 148 1076 143 1081M142 1081 136 1078 133 1073 127 1070 123 1064M133 1043 126 1047 123 1054M123 1054 124 1059 123 1064M106 1073 112 1071 117 1066 123 1064M103 1038 106 1045 114 1045 117 1052 123 1054M136 1022 133 1029 133 1036 133 1043M609 1394 605 1390 601 1384 594 1383M594 1383 589 1387 584 1390 588 1401 580 1403 576 1408M596 1419 590 1419 585 1422M585 1422 581 1417 576 1415M576 1408 575 1412 576 1415M594 1380 595 1381 594 1383M561 1390 569 1393 574 1400 576 1408M550 1425 555 1421 563 1421 571 1421 576 1415M546 1185 540 1187 534 1186M546 1185 549 1191 557 1191 561 1196M561 1196 560 1203 563 1209M533 1192 533 1189 533 1186M533 1192 537 1196 540 1202 540 1208 546 1213 547 1219 550 1224 554 1229M554 1229 559 1223 558 1215 563 1209M563 1160 560 1165 557 1171 550 1173 550 1180 546 1185M544 1144 543 1152 536 1157 534 1164M534 1164 531 1171 532 1178 534 1186M563 1160 570 1156 577 1159 584 1157M596 1216 590 1214 583 1216 576 1214 570 1209 563 1209M552 1235 554 1232 554 1229M501 1173 507 1176 513 1180 520 1182 527 1185M527 1185 530 1186 533 1186M534 1164 528 1161 522 1157 520 1149 513 1147 509 1141M445 1303 439 1306 432 1308 431 1318 424 1320M428 1281 425 1289 419 1294 410 1296M420 1321 422 1321 424 1320M420 1321 415 1317 409 1314M410 1296 409 1302 408 1308 409 1314M392 1258 388 1264 380 1266 375 1271M392 1258 395 1263 400 1267M400 1267 400 1273 398 1279M398 1279 393 1284 387 1287M387 1287 379 1283 370 1284M370 1284 373 1278 375 1271M391 1252 392 1255 392 1258M356 1257 364 1260 368 1268 375 1271M424 1267 418 1269 412 1264 406 1269 400 1267M410 1296 404 1292 403 1284 398 1279M389 1316 391 1308 385 1302 387 1294 387 1287M389 1316 396 1313 403 1316 409 1314M375 1323 382 1318 389 1316M357 1290 364 1287 370 1284M348 1287 345 1279 341 1271M471 1431 466 1426 459 1423 456 1416M456 1416 451 1417 447 1417M414 1432 414 1425 409 1418 412 1411 413 1403M433 1395 437 1400 437 1408 440 1413 447 1417M486 1403 485 1400 481 1399M452 1379 459 1382 462 1389 468 1393 476 1393 481 1399M452 1379 445 1381 438 1383M438 1383 433 1388 433 1395M507 1366 501 1366 495 1366M513 1319 508 1325 504 1331 495 1332 491 1339M491 1339 494 1345 492 1353 491 1360 495 1366M481 1399 485 1393 483 1385 489 1381 488 1373 492 1368M495 1366 494 1367 492 1368M353 1373 356 1367 357 1361 356 1354M353 1373 348 1377 342 1377M335 1334 336 1340 339 1347 334 1354 338 1360 339 1367 337 1374M337 1374 339 1377 342 1377M339 1420 333 1419 330 1414M365 1418 362 1412 355 1408 352 1401 347 1396 344 1390 342 1383M330 1414 330 1413 330 1411M342 1383 338 1388 334 1393 336 1401 334 1407 330 1411M167 1298 160 1297 153 1295 146 1301 139 1300M167 1298 170 1306 175 1313M175 1313 170 1318 165 1324M168 1275 171 1283 169 1290 167 1298M133 1290 137 1294 139 1300M124 1328 128 1322 136 1321 140 1315M215 1027 215 1021 212 1015 214 1009 211 1003M215 1027 221 1028 228 1030 235 1027 242 1027M242 1027 244 1025 247 1022M330 1267 323 1268 321 1275 315 1277M318 1309 317 1301 314 1293 309 1287M177 1266 181 1265 184 1269M179 1313 183 1308 189 1305M189 1305 187 1299 187 1293 188 1286 186 1281 183 1275 184 1269M585 1152 581 1145 582 1137 581 1129M581 1129 587 1126 591 1121 596 1116M602 1099 601 1101 599 1102M311 1133 311 1140 302 1144 299 1150 305 1159 300 1164M311 1133 315 1136 320 1136M300 1164 304 1169 308 1173M308 1173 314 1170 317 1163 323 1158 328 1154M320 1136 323 1142 327 1147 328 1154M282 995 282 1001 278 1008 281 1015 280 1022M247 1022 254 1025 263 1025 269 1031M269 1031 275 1028 280 1022M488 1174 492 1176 497 1175M488 1174 483 1169 481 1162 479 1155 474 1150M501 1173 498 1173 497 1175M509 1140 502 1139 496 1138 489 1138 483 1136M474 1150 480 1143 483 1136M513 1135 512 1139 509 1140M513 1135 511 1129 505 1125 503 1119 505 1111 501 1106M474 1107 481 1106 488 1103 495 1109 501 1106M474 1107 469 1110 465 1115M483 1136 477 1132 473 1126 471 1119 465 1115M464 1115 461 1120 460 1126 461 1133 460 1139 454 1143 453 1149M455 1152 454 1151 453 1149M488 1174 482 1173 476 1177 471 1181 464 1180 458 1181M455 1152 456 1159 459 1166 460 1173 458 1181M464 1115 456 1115 451 1110M451 1110 450 1117 442 1120 440 1127 439 1134 436 1140 436 1147M453 1149 445 1147 436 1147M452 1191 452 1190 452 1188M414 1209 411 1203 407 1198 409 1191 408 1185M408 1185 410 1182 412 1179M425 1172 432 1173 434 1182 443 1178 446 1185 452 1188M491 1207 491 1200 499 1195 492 1187 493 1181 497 1175M491 1207 485 1210 477 1204 472 1213 465 1211M458 1181 455 1184 452 1188M386 1142 393 1140 400 1137 407 1135 414 1133M386 1142 387 1148 388 1154M388 1154 391 1153 394 1156M394 1156 400 1155 406 1149 413 1151 420 1152 426 1149M414 1133 419 1134 423 1138M423 1138 425 1143 427 1148M377 1128 379 1137 386 1142M396 1101 394 1101 393 1100M396 1101 400 1106 406 1110 407 1116 412 1120 409 1129 414 1133M412 1179 405 1175 400 1170 397 1163 394 1156M436 1147 431 1148 427 1148M396 1101 402 1102 408 1098 414 1097 421 1102 427 1099M423 1138 427 1133 425 1126 430 1121 436 1117 435 1110 438 1105M427 1099 433 1102 438 1105M443 1105 441 1105 438 1105M474 1107 477 1101 477 1094 480 1088 478 1081 478 1075M478 1075 477 1073 475 1073M475 1073 470 1077 465 1082 458 1083 452 1084M443 1105 442 1097 453 1093 452 1084M528 1230 521 1232 514 1234 510 1242 503 1243M528 1230 525 1226 524 1220M524 1220 519 1214 512 1214 505 1212M497 1213 501 1213 505 1212M503 1243 501 1244 500 1243M546 1238 541 1235 533 1236 528 1230M527 1269 523 1263 516 1260 512 1254 507 1249 503 1243M533 1192 529 1199 533 1207 529 1214 524 1220M527 1185 521 1190 516 1194 512 1200 510 1207 505 1212M489 1259 494 1255 493 1247 500 1243M462 1229 469 1230 476 1231 482 1233 488 1237 495 1236M491 1207 494 1210 497 1213M181 1060 187 1056 193 1053 202 1056 208 1052M181 1060 178 1054 171 1051 166 1045M184 1027 181 1033 174 1033 168 1036M184 1027 189 1031 193 1037 203 1034 206 1040M206 1040 209 1046 208 1052M166 1045 166 1040 168 1036M176 1087 179 1080 179 1073 177 1066 181 1060M219 1063 215 1057 208 1052M176 1087 169 1087 162 1088 156 1082 149 1085 143 1081M189 999 186 1005 182 1012 189 1020 184 1027M155 1020 157 1027 166 1029 168 1036M215 1027 211 1034 206 1040M237 1042 241 1035 242 1027M237 1042 235 1049 231 1055 222 1057 219 1063M132 1237 131 1231 132 1225 142 1221 137 1213 138 1207 143 1203 144 1197M160 1237 162 1232 160 1225 160 1219 163 1213M163 1213 156 1212 150 1209 147 1203 144 1197M141 1189 143 1190 143 1192M144 1197 143 1195 143 1192M313 1181 312 1176 308 1173M300 1164 294 1165 287 1161 281 1166 274 1162M294 1201 288 1198 281 1195 276 1189 271 1184M271 1184 270 1176 275 1170 274 1162M270 1150 275 1146 275 1139 278 1134 282 1129 288 1126M270 1150 270 1154 269 1158M310 1132 302 1132 296 1126 288 1126M274 1162 271 1161 269 1158M544 1144 543 1139 540 1134M513 1135 521 1136 528 1132M540 1134 534 1134 528 1132M581 1129 576 1127 572 1122 566 1119 559 1119M540 1134 543 1128 547 1124 555 1124 559 1119M374 1325 380 1331 378 1340 383 1346M420 1321 421 1328 414 1333 413 1340 414 1347M414 1347 408 1349 402 1344 395 1347 389 1347 383 1346M457 1371 463 1369 469 1366 472 1359M472 1359 469 1353 470 1345 468 1339M448 1340 447 1342 446 1344M448 1340 455 1334 465 1336M465 1336 466 1337 468 1339M452 1379 454 1374 457 1371M492 1368 484 1369 478 1364 472 1359M425 1364 427 1372 436 1375 438 1383M425 1364 430 1359 433 1352 439 1347 446 1344M491 1339 483 1341 476 1339 468 1339M424 1320 429 1324 433 1329 436 1335 444 1335 448 1340M425 1364 423 1363 421 1362M466 1331 466 1333 465 1336M330 1414 326 1420 320 1423 312 1422 308 1427M149 1400 141 1401 134 1397M149 1400 157 1402 160 1408 168 1410 171 1417M143 1433 141 1427 138 1422 141 1415 134 1410 136 1403 134 1397M171 1417 168 1423 169 1429M136 1376 133 1383 132 1390 134 1397M167 1377 161 1382 155 1387 153 1394 149 1400M114 1405 121 1403 128 1401 134 1397M167 1377 172 1381 176 1386 183 1387 186 1393M171 1417 175 1412 180 1408 185 1403M185 1403 186 1398 186 1393M219 1412 216 1406 217 1399 215 1393 216 1386 214 1380M219 1412 211 1412 204 1411 196 1408M196 1408 191 1406 185 1403M186 1393 193 1391 197 1386 197 1377 204 1375M204 1375 209 1379 214 1380M248 1382 247 1381 246 1379M248 1382 249 1389 251 1396M246 1379 240 1380 234 1382 227 1383 221 1381 214 1380M251 1396 245 1399 239 1403 234 1409 227 1410 221 1413M237 1042 243 1045 248 1049 254 1052 259 1057M270 1050 264 1053 259 1057M230 1079 232 1079 234 1079M234 1079 239 1077 243 1075M259 1057 254 1060 252 1067 248 1071 243 1075M354 1132 353 1134 351 1136M341 1104 337 1104 333 1104M320 1136 326 1139 333 1138 339 1136 345 1139 351 1136M310 1132 313 1125 315 1118M333 1104 328 1110 321 1113 315 1118M321 1061 324 1062 327 1061M321 1061 315 1055 312 1048 305 1044M327 1061 328 1055 328 1048 325 1042 323 1036 320 1030 321 1023M305 1044 309 1037 309 1030M309 1030 315 1027 321 1023M280 1022 287 1026 294 1026 302 1026 309 1030M287 1064 279 1061 275 1055 270 1050M287 1064 292 1059 300 1057 299 1047 305 1044M347 1068 347 1066 346 1066M346 1066 349 1060 347 1053 351 1047M351 1047 357 1049 364 1047 370 1041 376 1048 383 1048 389 1045M374 1069 379 1064 381 1057 386 1052 390 1047M350 1092 350 1086 348 1080 346 1074 347 1068M337 1066 331 1070 328 1078 322 1082 317 1087M317 1087 322 1093 331 1095 333 1104M392 1100 389 1095 382 1092 385 1083 381 1079 376 1074 374 1069M390 1038 387 1032 384 1027 377 1024 374 1019 369 1015M347 1036 353 1031 360 1028 362 1019 369 1015M347 1036 349 1041 351 1047M406 1061 402 1067 401 1074 402 1082 400 1088 395 1094 393 1100M406 1061 402 1054 398 1049 390 1047M384 1159 385 1166 378 1172 381 1180 379 1186M384 1159 377 1157 370 1165 363 1165 357 1163 350 1161M354 1187 349 1185 346 1179M346 1179 346 1170 349 1162M388 1154 387 1157 384 1159M351 1136 353 1142 350 1148 347 1154 350 1161M352 1213 350 1206 356 1200 357 1194 354 1187M387 1215 382 1209 381 1201 381 1194 379 1187M320 1184 327 1185 332 1179 339 1177 346 1179M328 1154 336 1153 343 1155 349 1162M442 1064 434 1066 428 1070M442 1064 445 1058 449 1053M443 1045 447 1048 449 1053M428 1070 422 1068 419 1061 412 1061M427 1099 427 1092 430 1085 425 1077 428 1070M452 1084 448 1077 442 1072 442 1064M475 1073 473 1065 467 1059 463 1053M406 1061 409 1060 412 1061M270 1150 269 1143 267 1137 262 1131 258 1126 255 1119M255 1119 248 1119 242 1122 237 1128 231 1129M240 1160 247 1157 255 1161 262 1156 269 1158M240 1160 239 1157 236 1157M222 1109 226 1115 227 1122 230 1128M255 1119 257 1115 261 1111M118 1154 125 1154 131 1152 135 1146 142 1149 147 1144M142 1183 149 1179 148 1169 159 1168 161 1160M147 1144 151 1150 155 1156 161 1160M147 1144 148 1138 146 1132M137 1095 139 1103 148 1106 149 1114 154 1120M146 1132 149 1126 154 1120M179 1092 176 1099 176 1107 166 1110 166 1118M166 1118 160 1119 154 1120M163 1213 170 1214 174 1209M143 1192 150 1191 157 1193 164 1195 171 1192 178 1193M178 1193 178 1202 174 1209M316 1241 309 1239 303 1243 296 1242M315 1277 310 1272 304 1268 296 1270 292 1264M296 1242 297 1249 294 1256 292 1264M505 1013 497 1015 492 1020 486 1023 481 1029M481 1029 474 1026 470 1021 466 1016 462 1011M505 1013 509 1018 510 1025 517 1029 520 1035M520 1035 525 1030 531 1028 538 1027 544 1028M544 1028 540 1022 537 1016 535 1010 534 1003M598 994 591 998 586 1003 592 1014 586 1018M599 1031 594 1028 592 1020 586 1018M369 1374 375 1372 379 1367M369 1374 371 1379 375 1385 375 1391M379 1367 386 1368 391 1372 397 1374M375 1391 381 1395 388 1394 394 1399 400 1401M397 1374 400 1381 395 1388 403 1393 403 1400M400 1401 402 1401 403 1400M353 1373 361 1370 369 1374M383 1346 383 1353 383 1361 379 1367M367 1418 372 1412 375 1406 370 1397 375 1391M342 1377 341 1380 342 1383M421 1362 415 1366 407 1365 403 1371 397 1374M413 1403 408 1401 403 1400M277 1405 283 1408 291 1406 296 1411M296 1411 301 1405 302 1397 308 1392M290 1374 295 1369 298 1364M262 1422 261 1419 261 1417M308 1427 306 1420 300 1417 296 1411M263 1408 259 1412 261 1417M263 1408 270 1406 277 1405M248 1382 254 1381 260 1380 265 1376 271 1374 278 1379 284 1374 290 1374M251 1396 258 1401 263 1408M330 1411 326 1405 317 1404 315 1395 308 1392M337 1374 331 1376 325 1378 319 1375 313 1373M297 1360 299 1361 298 1364M282 1351 275 1353 271 1358 264 1359 259 1364 253 1366 248 1371M248 1371 248 1375 246 1379M196 1408 199 1415 202 1421 201 1428M221 1413 219 1421 222 1429M261 1417 255 1420 248 1420 241 1420 235 1424 230 1430 223 1431M179 1313 182 1319 186 1324 193 1326 199 1329M169 1351 177 1352 185 1352M185 1352 191 1348 196 1343 193 1334 199 1329M185 1352 193 1354 194 1364 202 1365M189 1305 197 1306 203 1304 208 1297M184 1269 191 1271 198 1271 205 1271M205 1271 206 1279 211 1285M208 1297 208 1291 211 1285M478 1075 483 1073 489 1073M481 1030 477 1036 475 1044 469 1048 463 1053M481 1030 488 1032 490 1039 494 1045M489 1073 492 1066 491 1059 495 1052 494 1045M520 1035 516 1041 515 1049M494 1045 501 1047 509 1045 515 1049M462 1011 456 1017 447 1019M443 1045 439 1038 439 1030M439 1030 441 1023 447 1019M420 1050 422 1043 422 1037 415 1032 417 1025M439 1030 433 1025 426 1023 417 1025M390 1038 395 1033 403 1033 407 1027 411 1021M369 1015 368 1008 366 1002 368 995M411 1021 411 1018 411 1016M278 1085 284 1079 291 1076M269 1109 275 1114 282 1117M282 1117 289 1114 290 1106 298 1105 301 1099M301 1099 303 1092 301 1085M287 1064 290 1069 291 1076M243 1075 249 1076 256 1075 262 1076 266 1083 273 1082 278 1085M261 1111 264 1108 269 1109M288 1126 284 1122 282 1117M315 1118 312 1111 307 1104 301 1099M317 1087 309 1086 301 1085M337 1066 332 1064 327 1061M321 1061 317 1066 313 1071 307 1074 301 1076 295 1078M322 1023 320 1017 315 1012 313 1006M323 1022 328 1018 330 1012 336 1009 338 1002 343 998M347 1036 341 1033 333 1032 329 1026 323 1022M205 1153 199 1153 194 1158 187 1157 182 1159 176 1161M176 1161 174 1161 174 1160M174 1160 174 1153 182 1148 179 1140 183 1134M183 1134 187 1130 192 1130M192 1130 198 1133 203 1134M236 1157 228 1161 221 1164M221 1164 216 1159 211 1155 205 1153M161 1160 167 1163 174 1160M189 1184 185 1190 178 1193M189 1184 185 1179 178 1175 182 1165 176 1161M166 1118 173 1122 179 1127 183 1134M197 1110 192 1116 194 1123 192 1130M204 1188 209 1191 214 1195M202 1189 203 1195 203 1202 201 1208 194 1213 196 1221 193 1227M193 1228 199 1232 207 1230 213 1235M213 1235 218 1229 222 1223M221 1164 220 1172 211 1175 206 1181 204 1188M189 1184 195 1187 202 1189M174 1209 177 1215 184 1217 190 1220 193 1227M172 1244 178 1241 182 1235 187 1231 193 1228M205 1271 207 1266 212 1263M216 1242 215 1249 212 1256 212 1263M216 1242 215 1238 213 1235M259 1315 263 1308 260 1301M259 1315 252 1314 245 1317 239 1321 232 1321M242 1287 242 1294 241 1301 237 1307 235 1314 232 1321M242 1287 244 1285 246 1284M246 1284 249 1291 255 1296 260 1301M276 1325 271 1320 264 1321 259 1315M287 1315 283 1309 282 1303 286 1296 283 1290M260 1301 267 1300 270 1293 277 1291 283 1290M309 1287 302 1286 296 1285 290 1288 284 1289M292 1264 289 1270 285 1275 279 1278M279 1278 279 1285 284 1289M240 1160 243 1167 240 1175 243 1182M271 1184 270 1184 269 1185M269 1185 262 1186 256 1186 249 1182 243 1182M214 1195 221 1197 227 1194 233 1195 240 1196M243 1182 240 1189 240 1196M447 1019 441 1017 440 1009 432 1009 427 1006 423 1000M411 1016 414 1009 418 1005 423 1000M544 1028 547 1029 549 1031M572 1016 568 1023 561 1026M572 1016 567 1010 570 1002 566 995M561 1026 556 1030 551 1031M586 1018 579 1016 572 1016M600 1033 595 1037 588 1038 587 1046 581 1049M599 1075 603 1072 607 1069M599 1075 592 1074 586 1071 580 1068M581 1049 581 1053 578 1057M580 1068 582 1062 578 1057M599 1031 600 1032 600 1033M602 1099 599 1093 604 1087 600 1081 599 1075M561 1051 561 1042 558 1036 551 1031M561 1051 571 1050 578 1057M212 1355 214 1348 215 1342 214 1335 211 1328M241 1344 241 1348 240 1352M241 1344 243 1337 241 1331 236 1326 232 1321M211 1328 215 1322 223 1320M223 1320 228 1320 232 1321M202 1365 206 1359 212 1355M248 1371 246 1364 244 1358 240 1352M275 1336 268 1337 261 1335 254 1338 247 1340 241 1344M208 1297 211 1304 214 1310 220 1314 223 1320M211 1285 217 1284 223 1290 230 1283 236 1285 242 1287M561 1051 560 1058 552 1060 547 1065 545 1072M549 1031 546 1036 542 1041 543 1048 541 1054 536 1059 534 1065M545 1072 538 1070 534 1065M501 1106 506 1099 510 1092M528 1132 527 1125 528 1119 527 1113 529 1106 530 1100M530 1100 524 1097 517 1093 510 1092M489 1073 495 1075 502 1076 508 1079M510 1092 509 1086 508 1079M515 1049 521 1056 523 1064M508 1079 516 1078 517 1068 523 1064M534 1065 528 1067 523 1064M246 1284 248 1282 248 1279M279 1278 273 1273 264 1272M264 1272 255 1272 248 1279M216 1242 222 1246 229 1243 236 1243 242 1246M242 1246 241 1253 238 1260 239 1267M239 1267 245 1272 248 1279M260 1204 254 1206 250 1210M260 1204 267 1208 273 1211 281 1211 289 1211M249 1217 254 1222 253 1230 258 1236M289 1211 286 1217 287 1223 285 1229 286 1235M286 1235 279 1239 271 1235 264 1239M258 1236 261 1237 264 1239M269 1185 269 1193 264 1198 260 1204M240 1196 244 1203 250 1210M293 1204 290 1207 289 1211M222 1223 229 1223 235 1219 242 1218 249 1217M296 1242 290 1240 286 1235M264 1272 266 1265 265 1259 265 1252 263 1245 264 1239M579 1069 572 1067 566 1071 559 1072 553 1075 546 1074M579 1069 580 1076 570 1080 576 1089 571 1095M546 1074 545 1081 549 1087 549 1093M549 1093 552 1099 557 1101M571 1095 564 1097 557 1101M545 1072 545 1073 546 1074M599 1102 592 1103 586 1097 578 1098 571 1095M530 1100 536 1098 542 1093 549 1093M559 1119 555 1110 557 1101" fill="none" stroke="#0f0f0f" stroke-width="1.8" stroke-linejoin="round" stroke-linecap="round"/><path d="M596 1327 596 1336 599 1344M612 1182 606 1180 599 1183 593 1179M596 1216 598 1215 599 1214M546 1238 549 1236 552 1235M572 1293 573 1300 566 1306 566 1313 569 1320M541 1368 538 1362 536 1356 541 1350 538 1344M529 1333 535 1332 542 1331 546 1325 551 1320M567 1374 574 1373 580 1378 587 1379 594 1380M486 1403 494 1400 503 1405 509 1398M112 1414 112 1409 114 1405M104 1267 110 1263 111 1254 115 1249 120 1243M128 1237 130 1238 132 1237M110 1102 114 1105 120 1106M584 1157 589 1162 592 1169M471 1271 465 1268 460 1264 457 1258M445 1303 444 1295 438 1291 435 1285 428 1281M465 1296 471 1297 478 1299 479 1308 483 1312 489 1313 495 1316M546 1296 540 1293 532 1299 525 1295 518 1295M339 1420 346 1422 352 1420 358 1414 365 1418M556 1276 558 1282 560 1288M477 1269 481 1262 489 1259M528 1385 533 1389 536 1396M550 1425 545 1425 540 1423M339 1236 346 1230 342 1220 348 1215M373 1238 375 1234 373 1230M343 1330 350 1330 356 1328 363 1326 370 1326M163 1345 167 1347 169 1351M140 1350 138 1343 134 1337 127 1334 124 1328M133 1290 127 1295 123 1302 114 1302 109 1307M328 1312 334 1308 333 1299 339 1296 343 1291 348 1287M330 1267 327 1261 325 1255 320 1251 320 1244M308 1343 308 1336 303 1330 303 1324 302 1317M287 1315 295 1313 302 1317M302 1317 310 1314 318 1309M465 1211 464 1220 462 1229M420 1234 419 1241 420 1247 421 1254 427 1260 424 1267M417 1233 413 1227 413 1221 411 1214M435 1204 428 1207 421 1205 414 1209M377 1128 381 1124 380 1115 390 1114 391 1107 392 1100M230 1079 223 1074 221 1067M168 1275 173 1272 177 1266M320 1221 315 1216 307 1218 304 1210 298 1208 293 1204M163 1047 158 1052 157 1059 154 1065 151 1070 148 1076 143 1081M106 1073 112 1071 117 1066 123 1064M594 1383 589 1387 584 1390 588 1401 580 1403 576 1408M594 1380 595 1381 594 1383M546 1185 549 1191 557 1191 561 1196M554 1229 559 1223 558 1215 563 1209M563 1160 570 1156 577 1159 584 1157M527 1185 530 1186 533 1186M420 1321 422 1321 424 1320M392 1258 395 1263 400 1267M370 1284 373 1278 375 1271M410 1296 404 1292 403 1284 398 1279M357 1290 364 1287 370 1284M414 1432 414 1425 409 1418 412 1411 413 1403M452 1379 445 1381 438 1383M491 1339 494 1345 492 1353 491 1360 495 1366M353 1373 348 1377 342 1377M365 1418 362 1412 355 1408 352 1401 347 1396 344 1390 342 1383M167 1298 170 1306 175 1313M124 1328 128 1322 136 1321 140 1315M330 1267 323 1268 321 1275 315 1277M189 1305 187 1299 187 1293 188 1286 186 1281 183 1275 184 1269M311 1133 311 1140 302 1144 299 1150 305 1159 300 1164M320 1136 323 1142 327 1147 328 1154M488 1174 492 1176 497 1175M474 1150 480 1143 483 1136M474 1107 469 1110 465 1115M488 1174 482 1173 476 1177 471 1181 464 1180 458 1181M453 1149 445 1147 436 1147M425 1172 432 1173 434 1182 443 1178 446 1185 452 1188M386 1142 393 1140 400 1137 407 1135 414 1133M414 1133 419 1134 423 1138M396 1101 400 1106 406 1110 407 1116 412 1120 409 1129 414 1133M423 1138 427 1133 425 1126 430 1121 436 1117 435 1110 438 1105M478 1075 477 1073 475 1073M528 1230 525 1226 524 1220M546 1238 541 1235 533 1236 528 1230M489 1259 494 1255 493 1247 500 1243M181 1060 178 1054 171 1051 166 1045M166 1045 166 1040 168 1036M189 999 186 1005 182 1012 189 1020 184 1027M237 1042 235 1049 231 1055 222 1057 219 1063M141 1189 143 1190 143 1192M294 1201 288 1198 281 1195 276 1189 271 1184M310 1132 302 1132 296 1126 288 1126M540 1134 534 1134 528 1132M420 1321 421 1328 414 1333 413 1340 414 1347M448 1340 447 1342 446 1344M492 1368 484 1369 478 1364 472 1359M424 1320 429 1324 433 1329 436 1335 444 1335 448 1340M149 1400 141 1401 134 1397M136 1376 133 1383 132 1390 134 1397M171 1417 175 1412 180 1408 185 1403M196 1408 191 1406 185 1403M248 1382 249 1389 251 1396M270 1050 264 1053 259 1057M354 1132 353 1134 351 1136M333 1104 328 1110 321 1113 315 1118M305 1044 309 1037 309 1030M287 1064 292 1059 300 1057 299 1047 305 1044M374 1069 379 1064 381 1057 386 1052 390 1047M392 1100 389 1095 382 1092 385 1083 381 1079 376 1074 374 1069M406 1061 402 1067 401 1074 402 1082 400 1088 395 1094 393 1100M354 1187 349 1185 346 1179M352 1213 350 1206 356 1200 357 1194 354 1187M442 1064 434 1066 428 1070M427 1099 427 1092 430 1085 425 1077 428 1070M270 1150 269 1143 267 1137 262 1131 258 1126 255 1119M222 1109 226 1115 227 1122 230 1128M147 1144 151 1150 155 1156 161 1160M179 1092 176 1099 176 1107 166 1110 166 1118M178 1193 178 1202 174 1209M505 1013 497 1015 492 1020 486 1023 481 1029M544 1028 540 1022 537 1016 535 1010 534 1003M369 1374 371 1379 375 1385 375 1391M400 1401 402 1401 403 1400M342 1377 341 1380 342 1383M296 1411 301 1405 302 1397 308 1392M263 1408 259 1412 261 1417M330 1411 326 1405 317 1404 315 1395 308 1392M248 1371 248 1375 246 1379M179 1313 182 1319 186 1324 193 1326 199 1329M189 1305 197 1306 203 1304 208 1297M478 1075 483 1073 489 1073M520 1035 516 1041 515 1049M439 1030 441 1023 447 1019M369 1015 368 1008 366 1002 368 995M282 1117 289 1114 290 1106 298 1105 301 1099M261 1111 264 1108 269 1109M337 1066 332 1064 327 1061M347 1036 341 1033 333 1032 329 1026 323 1022M183 1134 187 1130 192 1130M161 1160 167 1163 174 1160M197 1110 192 1116 194 1123 192 1130M213 1235 218 1229 222 1223M172 1244 178 1241 182 1235 187 1231 193 1228M259 1315 263 1308 260 1301M246 1284 249 1291 255 1296 260 1301M309 1287 302 1286 296 1285 290 1288 284 1289M271 1184 270 1184 269 1185M447 1019 441 1017 440 1009 432 1009 427 1006 423 1000M572 1016 567 1010 570 1002 566 995M599 1075 603 1072 607 1069M599 1031 600 1032 600 1033M212 1355 214 1348 215 1342 214 1335 211 1328M223 1320 228 1320 232 1321M208 1297 211 1304 214 1310 220 1314 223 1320M545 1072 538 1070 534 1065M489 1073 495 1075 502 1076 508 1079M534 1065 528 1067 523 1064M216 1242 222 1246 229 1243 236 1243 242 1246M260 1204 267 1208 273 1211 281 1211 289 1211M258 1236 261 1237 264 1239M222 1223 229 1223 235 1219 242 1218 249 1217M579 1069 580 1076 570 1080 576 1089 571 1095M545 1072 545 1073 546 1074" fill="none" stroke="#0a0a0a" stroke-width="3.2" stroke-linejoin="round" stroke-linecap="round"/></g><path d="M120.0 1120.0 L135.0 1080.0 L160.0 1045.0 L191.0 1024.0 L215.0 1020.0 L252.0 1026.0 L275.0 1034.0 L302.0 1052.0 L320.0 1058.0 L343.0 1072.0 L354.0 1065.0 L375.0 1067.0 L394.0 1081.0 L418.0 1088.0 L434.0 1112.0 L458.0 1107.0 L482.0 1114.0 L505.0 1133.0 L529.0 1145.0 L553.0 1166.0 L580.0 1175.0" fill="none" stroke="#141414" stroke-width="1.6" /><path d="M120.0 1120.0 L135.0 1080.0 L160.0 1045.0 L191.0 1024.0 L215.0 1020.0 L252.0 1026.0 L275.0 1034.0 L302.0 1052.0 L320.0 1058.0 L343.0 1072.0 L354.0 1065.0 L375.0 1067.0 L394.0 1081.0 L418.0 1088.0 L434.0 1112.0 L458.0 1107.0 L482.0 1114.0 L505.0 1133.0 L529.0 1145.0 L553.0 1166.0 L580.0 1175.0 L600.0 1200.0 L600.0 1440.0 L100.0 1440.0Z" fill="url(#g21)" /><path d="M236.0 981.0 L243.0 1000.0 L250.0 1022.0" fill="none" stroke="#fff" stroke-width="6" /><path d="M233.0 981.0 L240.0 1000.0 L247.0 1022.0" fill="none" stroke="#787878" stroke-width="0.7" /><path d="M239.0 981.0 L246.0 1000.0 L253.0 1022.0" fill="none" stroke="#787878" stroke-width="0.7" /><path d="M349.0 955.0 L347.0 1000.0 L346.0 1062.0" fill="none" stroke="#fff" stroke-width="6" /><path d="M346.0 955.0 L344.0 1000.0 L343.0 1062.0" fill="none" stroke="#787878" stroke-width="0.7" /><path d="M352.0 955.0 L350.0 1000.0 L349.0 1062.0" fill="none" stroke="#787878" stroke-width="0.7" /><path d="M463.0 986.0 L466.0 1040.0 L472.0 1105.0" fill="none" stroke="#fff" stroke-width="6" /><path d="M460.0 986.0 L463.0 1040.0 L469.0 1105.0" fill="none" stroke="#787878" stroke-width="0.7" /><path d="M466.0 986.0 L469.0 1040.0 L475.0 1105.0" fill="none" stroke="#787878" stroke-width="0.7" /><path d="M225 1022 Q250 1010 280 1032 L270 1036 Q250 1022 230 1026Z" fill="#fff" /><path d="M322 1058 Q346 1040 372 1064 L392 1078 Q370 1060 346 1058 Q334 1062 330 1070Z" fill="#fff" /><path d="M436 1110 Q458 1090 480 1106 L506 1130 Q485 1110 460 1104 Q445 1106 440 1116Z" fill="#fff" /></g>
<circle cx="350.4" cy="1182.5" r="226" fill="none" stroke="#222" stroke-width="1.2" />
<circle cx="350.4" cy="1183" r="12" fill="none" stroke="#0a0a0a" stroke-width="1.1" />
<text transform="translate(286 888.5) scale(0.93 1)" font-size="46" >Fig.</text>
<text transform="translate(371 888.5) scale(0.93 1)" font-size="46" >4.</text>
<text x="84" y="1037" font-size="25" >A</text>
<text x="110" y="1065" font-size="20" >a</text>
<text x="411" y="944" font-size="20" >b</text>
<text x="588" y="1335" font-size="25" >B</text>
<text x="251" y="1004" font-size="17" >1</text>
<text x="359" y="992" font-size="17" >2</text>
<text x="471" y="1022" font-size="17" >3</text>
<rect x="737.5" y="902.3" width="8.3" height="313" fill="url(#p32)" />
<rect x="737.5" y="902.3" width="8.3" height="250" fill="url(#p32)" />
<rect x="737.5" y="1215" width="8.3" height="236" fill="url(#p32)" />
<path d="M737.5 1152 L737.5 902.3 L1200 901.5" fill="none" stroke="#222" stroke-width="1.1" />
<line x1="737.5" y1="1215" x2="737.5" y2="1452" stroke="#222" stroke-width="1.1" />
<rect x="737.5" y="902.3" width="462.5" height="7" fill="#f8f8f8" />
<line x1="745.5" y1="909.3" x2="1192" y2="908.8" stroke="#222" stroke-width="0.9" />
<rect x="1192.4" y="902.3" width="7.6" height="246" fill="url(#p33)" />
<line x1="1200" y1="902.3" x2="1200" y2="1128" stroke="#222" stroke-width="1.1" />
<line x1="1192.4" y1="909" x2="1192.4" y2="1147" stroke="#222" stroke-width="0.8" />
<rect x="745.8" y="909.3" width="420" height="36" fill="url(#p34)" />
<rect x="745.8" y="909.3" width="420" height="36" fill="url(#g22)" />
<ellipse cx="830" cy="943" rx="25" ry="6" fill="#3c3c3c" opacity="0.35"/>
<ellipse cx="900" cy="943" rx="20" ry="6" fill="#3c3c3c" opacity="0.35"/>
<ellipse cx="1040" cy="943" rx="30" ry="6" fill="#3c3c3c" opacity="0.35"/>
<ellipse cx="1100" cy="943" rx="20" ry="6" fill="#3c3c3c" opacity="0.35"/>
<ellipse cx="1000" cy="943" rx="15" ry="6" fill="#3c3c3c" opacity="0.35"/>
<rect x="745.8" y="931" width="28.4" height="221.5" fill="url(#p35)" />
<rect x="745.8" y="931" width="28.4" height="221.5" fill="url(#g23)" />
<line x1="745.8" y1="909" x2="745.8" y2="1152" stroke="#222" stroke-width="0.9" />
<rect x="747" y="910" width="5" height="20" fill="#fafafa" />
<rect x="773" y="910" width="16" height="15" fill="#5f5f5f" />
<rect x="781" y="917" width="9" height="8" fill="#969696" />
<rect x="774.2" y="934" width="7" height="218" fill="#5f5f5f" />
<line x1="774.2" y1="934" x2="774.2" y2="1152" stroke="#222" stroke-width="0.8" />
<line x1="781.2" y1="934" x2="781.2" y2="1425" stroke="#222" stroke-width="0.9" />
<rect x="774.2" y="1192.7" width="7" height="233" fill="#5f5f5f" />
<line x1="774.2" y1="1192.7" x2="774.2" y2="1425.7" stroke="#222" stroke-width="0.8" />
<rect x="781" y="945" width="378" height="7" fill="#696969" />
<rect x="787.8" y="944.5" width="7.5" height="7.5" fill="#0f0f0f" />
<rect x="830.7" y="944.5" width="7.5" height="7.5" fill="#0f0f0f" />
<rect x="875.5" y="944.5" width="7.5" height="7.5" fill="#0f0f0f" />
<rect x="920.4" y="944.5" width="7.5" height="7.5" fill="#0f0f0f" />
<rect x="965.7" y="944.5" width="7.5" height="7.5" fill="#0f0f0f" />
<rect x="1012" y="944.5" width="7.5" height="7.5" fill="#0f0f0f" />
<rect x="1058.3" y="944.5" width="7.5" height="7.5" fill="#0f0f0f" />
<rect x="1103.5" y="944.5" width="7.5" height="7.5" fill="#0f0f0f" />
<rect x="1143.5" y="944.5" width="7.5" height="7.5" fill="#0f0f0f" />
<line x1="781" y1="952.3" x2="1159" y2="951" stroke="#222" stroke-width="0.8" />
<rect x="781" y="952" width="378" height="84" fill="url(#p36)" />
<path d="M796.4 952.0 L796.7 961.0 L794.5 970.0 L795.0 979.0 L797.6 988.0 L797.7 997.0 L797.9 1006.0 L797.2 1015.0 L798.5 1024.0 L798.9 1033.0" fill="none" stroke="#fff" stroke-width="5" />
<path d="M793.8 952.0 L794.1 961.0 L791.9 970.0 L792.4 979.0 L795.0 988.0 L795.1 997.0 L795.3 1006.0 L794.6 1015.0 L795.9 1024.0 L796.3 1033.0" fill="none" stroke="#969696" stroke-width="0.6" />
<path d="M799.0 952.0 L799.3 961.0 L797.1 970.0 L797.6 979.0 L800.2 988.0 L800.3 997.0 L800.5 1006.0 L799.8 1015.0 L801.1 1024.0 L801.5 1033.0" fill="none" stroke="#969696" stroke-width="0.6" />
<path d="M838.2 952.0 L837.4 961.0 L838.6 970.0 L838.9 979.0 L840.3 988.0 L841.5 997.0 L841.7 1006.0 L840.9 1015.0 L841.0 1024.0 L840.9 1033.0" fill="none" stroke="#fff" stroke-width="5" />
<path d="M835.6 952.0 L834.8 961.0 L836.0 970.0 L836.3 979.0 L837.7 988.0 L838.9 997.0 L839.1 1006.0 L838.3 1015.0 L838.4 1024.0 L838.3 1033.0" fill="none" stroke="#969696" stroke-width="0.6" />
<path d="M840.8 952.0 L840.0 961.0 L841.2 970.0 L841.5 979.0 L842.9 988.0 L844.1 997.0 L844.3 1006.0 L843.5 1015.0 L843.6 1024.0 L843.5 1033.0" fill="none" stroke="#969696" stroke-width="0.6" />
<path d="M881.6 952.0 L882.0 961.0 L883.7 970.0 L883.7 979.0 L884.2 988.0 L886.2 997.0 L885.5 1006.0 L886.0 1015.0 L885.4 1024.0 L885.2 1033.0" fill="none" stroke="#fff" stroke-width="5" />
<path d="M879.0 952.0 L879.4 961.0 L881.1 970.0 L881.1 979.0 L881.6 988.0 L883.6 997.0 L882.9 1006.0 L883.4 1015.0 L882.8 1024.0 L882.6 1033.0" fill="none" stroke="#969696" stroke-width="0.6" />
<path d="M884.2 952.0 L884.6 961.0 L886.3 970.0 L886.3 979.0 L886.8 988.0 L888.8 997.0 L888.1 1006.0 L888.6 1015.0 L888.0 1024.0 L887.8 1033.0" fill="none" stroke="#969696" stroke-width="0.6" />
<path d="M927.5 952.0 L927.3 961.0 L928.8 970.0 L930.7 979.0 L930.1 988.0 L929.0 997.0 L931.6 1006.0 L931.7 1015.0 L931.9 1024.0 L932.8 1033.0" fill="none" stroke="#fff" stroke-width="5" />
<path d="M924.9 952.0 L924.7 961.0 L926.2 970.0 L928.1 979.0 L927.5 988.0 L926.4 997.0 L929.0 1006.0 L929.1 1015.0 L929.3 1024.0 L930.2 1033.0" fill="none" stroke="#969696" stroke-width="0.6" />
<path d="M930.1 952.0 L929.9 961.0 L931.4 970.0 L933.3 979.0 L932.7 988.0 L931.6 997.0 L934.2 1006.0 L934.3 1015.0 L934.5 1024.0 L935.4 1033.0" fill="none" stroke="#969696" stroke-width="0.6" />
<path d="M973.8 952.0 L974.3 961.0 L973.4 970.0 L975.6 979.0 L976.0 988.0 L974.0 997.0 L976.2 1006.0 L976.4 1015.0 L976.1 1024.0 L976.7 1033.0" fill="none" stroke="#fff" stroke-width="5" />
<path d="M971.2 952.0 L971.7 961.0 L970.8 970.0 L973.0 979.0 L973.4 988.0 L971.4 997.0 L973.6 1006.0 L973.8 1015.0 L973.5 1024.0 L974.1 1033.0" fill="none" stroke="#969696" stroke-width="0.6" />
<path d="M976.4 952.0 L976.9 961.0 L976.0 970.0 L978.2 979.0 L978.6 988.0 L976.6 997.0 L978.8 1006.0 L979.0 1015.0 L978.7 1024.0 L979.3 1033.0" fill="none" stroke="#969696" stroke-width="0.6" />
<path d="M1019.0 952.0 L1020.7 961.0 L1019.8 970.0 L1021.2 979.0 L1020.2 988.0 L1022.1 997.0 L1022.6 1006.0 L1021.7 1015.0 L1022.4 1024.0 L1023.9 1033.0" fill="none" stroke="#fff" stroke-width="5" />
<path d="M1016.4 952.0 L1018.1 961.0 L1017.2 970.0 L1018.6 979.0 L1017.6 988.0 L1019.5 997.0 L1020.0 1006.0 L1019.1 1015.0 L1019.8 1024.0 L1021.3 1033.0" fill="none" stroke="#969696" stroke-width="0.6" />
<path d="M1021.6 952.0 L1023.3 961.0 L1022.4 970.0 L1023.8 979.0 L1022.8 988.0 L1024.7 997.0 L1025.2 1006.0 L1024.3 1015.0 L1025.0 1024.0 L1026.5 1033.0" fill="none" stroke="#969696" stroke-width="0.6" />
<path d="M1065.7 952.0 L1065.4 961.0 L1065.0 970.0 L1065.7 979.0 L1067.2 988.0 L1066.0 997.0 L1068.6 1006.0 L1067.1 1015.0 L1069.4 1024.0 L1068.0 1033.0" fill="none" stroke="#fff" stroke-width="5" />
<path d="M1063.1 952.0 L1062.8 961.0 L1062.4 970.0 L1063.1 979.0 L1064.6 988.0 L1063.4 997.0 L1066.0 1006.0 L1064.5 1015.0 L1066.8 1024.0 L1065.4 1033.0" fill="none" stroke="#969696" stroke-width="0.6" />
<path d="M1068.3 952.0 L1068.0 961.0 L1067.6 970.0 L1068.3 979.0 L1069.8 988.0 L1068.6 997.0 L1071.2 1006.0 L1069.7 1015.0 L1072.0 1024.0 L1070.6 1033.0" fill="none" stroke="#969696" stroke-width="0.6" />
<path d="M1111.4 952.0 L1111.0 961.0 L1110.8 970.0 L1111.3 979.0 L1112.1 988.0 L1112.3 997.0 L1111.8 1006.0 L1111.9 1015.0 L1113.2 1024.0 L1114.9 1033.0" fill="none" stroke="#fff" stroke-width="5" />
<path d="M1108.8 952.0 L1108.4 961.0 L1108.2 970.0 L1108.7 979.0 L1109.5 988.0 L1109.7 997.0 L1109.2 1006.0 L1109.3 1015.0 L1110.6 1024.0 L1112.3 1033.0" fill="none" stroke="#969696" stroke-width="0.6" />
<path d="M1114.0 952.0 L1113.6 961.0 L1113.4 970.0 L1113.9 979.0 L1114.7 988.0 L1114.9 997.0 L1114.4 1006.0 L1114.5 1015.0 L1115.8 1024.0 L1117.5 1033.0" fill="none" stroke="#969696" stroke-width="0.6" />
<path d="M1150.4 952.0 L1149.1 961.0 L1151.8 970.0 L1151.9 979.0 L1152.8 988.0 L1151.1 997.0 L1153.1 1006.0 L1151.5 1015.0 L1153.7 1024.0 L1152.9 1033.0" fill="none" stroke="#fff" stroke-width="5" />
<path d="M1147.8 952.0 L1146.5 961.0 L1149.2 970.0 L1149.3 979.0 L1150.2 988.0 L1148.5 997.0 L1150.5 1006.0 L1148.9 1015.0 L1151.1 1024.0 L1150.3 1033.0" fill="none" stroke="#969696" stroke-width="0.6" />
<path d="M1153.0 952.0 L1151.7 961.0 L1154.4 970.0 L1154.5 979.0 L1155.4 988.0 L1153.7 997.0 L1155.7 1006.0 L1154.1 1015.0 L1156.3 1024.0 L1155.5 1033.0" fill="none" stroke="#969696" stroke-width="0.6" />
<rect x="815" y="978" width="6" height="50" fill="#e1e1e1" />
<rect x="815" y="975" width="7" height="2.5" fill="#5a5a5a" />
<line x1="818" y1="980" x2="819" y2="1025" stroke="#aaaaaa" stroke-width="1.5" />
<rect x="854" y="978" width="6" height="50" fill="#e1e1e1" />
<rect x="854" y="975" width="7" height="2.5" fill="#5a5a5a" />
<line x1="857" y1="980" x2="858" y2="1025" stroke="#aaaaaa" stroke-width="1.5" />
<rect x="903" y="978" width="6" height="50" fill="#e1e1e1" />
<rect x="903" y="975" width="7" height="2.5" fill="#5a5a5a" />
<line x1="906" y1="980" x2="907" y2="1025" stroke="#aaaaaa" stroke-width="1.5" />
<rect x="948" y="978" width="6" height="50" fill="#e1e1e1" />
<rect x="948" y="975" width="7" height="2.5" fill="#5a5a5a" />
<line x1="951" y1="980" x2="952" y2="1025" stroke="#aaaaaa" stroke-width="1.5" />
<rect x="995" y="978" width="6" height="50" fill="#e1e1e1" />
<rect x="995" y="975" width="7" height="2.5" fill="#5a5a5a" />
<line x1="998" y1="980" x2="999" y2="1025" stroke="#aaaaaa" stroke-width="1.5" />
<rect x="1037" y="978" width="6" height="50" fill="#e1e1e1" />
<rect x="1037" y="975" width="7" height="2.5" fill="#5a5a5a" />
<line x1="1040" y1="980" x2="1041" y2="1025" stroke="#aaaaaa" stroke-width="1.5" />
<rect x="1083" y="978" width="6" height="50" fill="#e1e1e1" />
<rect x="1083" y="975" width="7" height="2.5" fill="#5a5a5a" />
<line x1="1086" y1="980" x2="1087" y2="1025" stroke="#aaaaaa" stroke-width="1.5" />
<rect x="1127" y="978" width="6" height="50" fill="#e1e1e1" />
<rect x="1127" y="975" width="7" height="2.5" fill="#5a5a5a" />
<line x1="1130" y1="980" x2="1131" y2="1025" stroke="#aaaaaa" stroke-width="1.5" />
<rect x="781" y="1022" width="378" height="14" fill="url(#g24)" />
<rect x="781" y="1185" width="378" height="217" fill="url(#p37)" />
<rect x="781" y="1185" width="378" height="217" fill="url(#g25)" />
<rect x="781" y="1402" width="378" height="7.5" fill="#696969" />
<line x1="781" y1="1402" x2="1159" y2="1401" stroke="#222" stroke-width="0.8" />
<line x1="781" y1="1409.5" x2="1159" y2="1408.5" stroke="#222" stroke-width="0.8" />
<rect x="781" y="1409.5" width="378" height="42" fill="url(#p38)" />
<g clip-path="url(#c18)"><path d="M781.0 1040.0 L795.0 1036.1 L809.0 1036.5 L823.0 1034.9 L837.0 1028.3 L851.0 1024.5 L865.0 1027.8 L879.0 1035.6 L893.0 1039.6 L907.0 1040.4 L921.0 1033.8 L935.0 1030.5 L949.0 1025.8 L963.0 1026.5 L977.0 1030.8 L991.0 1036.1 L1005.0 1041.4 L1019.0 1037.4 L1033.0 1032.0 L1047.0 1028.9 L1061.0 1026.7 L1075.0 1032.2 L1089.0 1038.6 L1103.0 1040.2 L1117.0 1037.4 L1131.0 1032.4 L1145.0 1024.6 L1159.0 1046.0 L1159.0 1188.0 L1145.0 1195.7 L1131.0 1194.0 L1117.0 1186.6 L1103.0 1183.0 L1089.0 1190.9 L1075.0 1191.7 L1061.0 1195.1 L1047.0 1188.8 L1033.0 1186.6 L1019.0 1190.5 L1005.0 1198.2 L991.0 1191.1 L977.0 1188.4 L963.0 1189.8 L949.0 1193.1 L935.0 1194.0 L921.0 1190.2 L907.0 1184.5 L893.0 1185.2 L879.0 1192.3 L865.0 1196.6 L851.0 1184.7 L837.0 1181.4 L823.0 1189.9 L809.0 1192.7 L795.0 1193.7 L781.0 1204.0Z" fill="url(#p39)" /><path d="M781.0 1040.0 L795.0 1036.1 L809.0 1036.5 L823.0 1034.9 L837.0 1028.3 L851.0 1024.5 L865.0 1027.8 L879.0 1035.6 L893.0 1039.6 L907.0 1040.4 L921.0 1033.8 L935.0 1030.5 L949.0 1025.8 L963.0 1026.5 L977.0 1030.8 L991.0 1036.1 L1005.0 1041.4 L1019.0 1037.4 L1033.0 1032.0 L1047.0 1028.9 L1061.0 1026.7 L1075.0 1032.2 L1089.0 1038.6 L1103.0 1040.2 L1117.0 1037.4 L1131.0 1032.4 L1145.0 1024.6 L1159.0 1046.0 L1159.0 1188.0 L1145.0 1195.7 L1131.0 1194.0 L1117.0 1186.6 L1103.0 1183.0 L1089.0 1190.9 L1075.0 1191.7 L1061.0 1195.1 L1047.0 1188.8 L1033.0 1186.6 L1019.0 1190.5 L1005.0 1198.2 L991.0 1191.1 L977.0 1188.4 L963.0 1189.8 L949.0 1193.1 L935.0 1194.0 L921.0 1190.2 L907.0 1184.5 L893.0 1185.2 L879.0 1192.3 L865.0 1196.6 L851.0 1184.7 L837.0 1181.4 L823.0 1189.9 L809.0 1192.7 L795.0 1193.7 L781.0 1204.0Z" fill="url(#g26)" /><path d="M787 1033 789 1040 794 1044 798 1049 806 1048M806 1048 811 1044 817 1042 826 1045 831 1040 836 1036M758 1044 765 1046 768 1036 775 1035 783 1039 787 1033M803 1067 806 1061 803 1054 806 1048M945 1207 941 1202 947 1193 942 1187 937 1182M980 1173 974 1177 967 1173 960 1169 953 1171 948 1178 941 1178M980 1173 982 1179 983 1185 980 1192 980 1198 981 1204 985 1209 986 1215 988 1221M937 1182 939 1179 941 1178M910 1177 910 1168 905 1160M910 1177 917 1179 925 1173 931 1178 937 1182M941 1178 946 1172 950 1165 950 1158 949 1151 948 1144M945 1135 938 1139 932 1142 923 1135 916 1137 910 1143M910 1143 910 1152 905 1160M804 1069 801 1075 797 1081 795 1088 801 1097 795 1103 793 1109M793 1109 787 1107 780 1105 774 1110 768 1107M1076 1215 1084 1217 1091 1216 1097 1208 1105 1209M1102 1170 1095 1173 1088 1166 1081 1168 1073 1169M1102 1170 1103 1172 1104 1173M1073 1169 1071 1179 1058 1176 1055 1184M1076 1215 1071 1211 1066 1207 1070 1197 1067 1191 1056 1191 1055 1184M1105 1209 1106 1206 1107 1204M1104 1173 1105 1179 1110 1185 1110 1191 1108 1198 1107 1204M1107 1204 1115 1205 1122 1202 1129 1201 1136 1203M1142 1167 1146 1173 1151 1178 1144 1188 1150 1193M1136 1203 1142 1196 1150 1193M866 1186 871 1191 879 1186 884 1191 890 1193M866 1186 861 1190 858 1197 856 1203 850 1207M882 1224 887 1219 884 1211 884 1204 891 1200M890 1193 891 1197 891 1200M910 1177 905 1181 901 1187 895 1189 890 1193M905 1160 899 1159 895 1151 889 1150 884 1146 875 1152 871 1145 865 1144M861 1177 858 1170 869 1165 866 1158 867 1151 865 1144M861 1177 862 1182 866 1186M919 1226 913 1222 908 1219 905 1213 903 1205 897 1203 891 1200M1102 1170 1102 1167 1103 1163M1073 1169 1074 1162 1063 1157 1068 1148 1064 1142M1064 1142 1069 1136 1076 1134 1084 1139 1090 1133M1103 1163 1102 1157 1095 1153 1092 1147 1094 1139 1090 1133M1142 1167 1145 1162 1151 1158 1153 1152 1154 1146M1154 1146 1160 1150 1167 1151 1174 1146M1103 1163 1104 1157 1112 1155 1110 1146 1123 1149 1122 1140 1122 1132 1129 1130 1134 1127M1154 1146 1147 1143 1142 1138 1137 1133 1134 1127M836 1036 845 1035 851 1041 856 1048M856 1048 860 1044 866 1042 867 1034 872 1031 879 1029M883 1018 879 1023 879 1029M984 1053 980 1047 971 1048 968 1041 964 1036 960 1032M984 1053 991 1051 991 1041 998 1039M998 1039 999 1032 994 1026 993 1019 991 1012 990 1005M1024 1043 1018 1038 1011 1043 1005 1041 998 1039M1024 1043 1029 1035 1038 1031M924 1098 921 1091 917 1086 911 1083 908 1076 902 1073M924 1098 930 1094 930 1087 937 1083 935 1074 941 1071 946 1066M902 1073 903 1066 909 1061 910 1054M910 1054 914 1049 921 1047 926 1043 932 1042M946 1066 941 1061 938 1055 939 1047 933 1042M923 1018 925 1024 933 1028 931 1036 932 1042M879 1029 883 1035 890 1036 895 1041 902 1042 903 1052 910 1054M980 1076 978 1070 982 1065 985 1059 984 1053M980 1076 974 1071 966 1071 958 1075 953 1067 946 1066M960 1032 951 1030 945 1033 941 1043 933 1042M876 1116 875 1110 877 1103 876 1097 880 1091 878 1084 877 1078M876 1116 871 1122 866 1127 859 1129M857 1129 852 1124 851 1116 843 1114 840 1107 833 1104M833 1104 832 1098 838 1092 835 1086M835 1086 837 1079 841 1074 850 1074 851 1066 858 1063M924 1100 919 1103 913 1105 912 1114 905 1116 900 1119M900 1119 892 1121 884 1122 876 1116M902 1073 895 1072 889 1072 883 1078 877 1078M865 1144 861 1137 859 1129M861 1177 853 1181 846 1180 839 1171 832 1179 825 1175M825 1175 824 1167 824 1160 836 1157 830 1148 835 1143M835 1143 841 1139 846 1135 851 1132 857 1129M801 1115 808 1114 814 1111 821 1110 827 1107 833 1104M801 1115 799 1123 800 1130 804 1137M804 1069 811 1070 819 1071 822 1079 827 1086 835 1086M801 1115 795 1114 793 1109M856 1048 856 1056 858 1063M924 1100 932 1100 937 1103 940 1110M940 1110 945 1106 953 1106 959 1103 965 1099 963 1087 972 1087 973 1079 980 1077M940 1110 943 1117 947 1124M1024 1043 1025 1050 1021 1057 1019 1064 1025 1071 1025 1078M1055 1184 1046 1187 1038 1182M1064 1142 1060 1140 1056 1138M1056 1138 1053 1145 1047 1149 1038 1149M1038 1149 1040 1156 1045 1162 1032 1169 1035 1176 1038 1182M1019 1208 1020 1200 1022 1194 1027 1188M1027 1188 1033 1186 1038 1182M813 1192 806 1193 800 1188 796 1181 789 1182 781 1185 775 1183M813 1192 814 1186 816 1180M816 1180 812 1174 811 1167 804 1164 797 1162 795 1155M795 1155 788 1155 781 1159 774 1157M814 1215 811 1207 819 1200 813 1192M775 1221 775 1214 774 1208 775 1202 773 1196 776 1190 775 1183M825 1175 820 1176 816 1180M804 1137 804 1144 800 1150 795 1155M767 1108 766 1114 767 1120 777 1125 776 1132 768 1139 774 1145 775 1151 774 1157M1056 1138 1060 1130 1052 1125 1058 1117 1052 1111 1053 1104M1090 1133 1090 1127 1097 1122 1099 1116 1099 1109M1088 1101 1080 1099 1074 1101 1067 1104 1060 1103 1053 1104M1168 1196 1172 1203 1173 1210 1172 1217M970 1121 975 1115 984 1119 988 1113M970 1121 969 1129 971 1136 972 1143 977 1150M977 1150 981 1155 989 1153 992 1159M1008 1131 1003 1135 998 1140 999 1148 993 1152 993 1159M947 1124 955 1127 962 1120 970 1121M984 1081 986 1087 988 1094 987 1100 985 1107 988 1113M948 1144 955 1144 963 1141 970 1147 977 1150M1025 1078 1030 1081 1036 1084 1039 1090M1039 1090 1041 1093 1041 1096M1041 1096 1035 1100 1031 1106 1029 1113 1022 1116 1018 1121 1013 1126 1008 1130M980 1173 985 1170 986 1162 992 1159M1038 1149 1031 1147 1025 1144 1021 1136 1013 1135 1008 1131M1053 1104 1049 1097 1041 1096M1027 1188 1024 1182 1020 1177 1009 1179 1009 1170 1005 1165 997 1164 993 1159M1088 1101 1087 1093 1087 1085M1039 1090 1045 1087 1048 1082 1054 1079 1050 1068 1056 1065 1061 1061 1066 1057M1087 1085 1083 1080 1082 1072 1071 1071 1069 1064 1066 1057M1038 1031 1043 1034 1050 1035 1049 1047 1057 1046 1060 1052 1067 1053M1067 1053 1066 1055 1066 1057M1165 1036 1166 1028 1166 1020M1174 1080 1167 1078 1162 1083M1159 1094 1153 1097 1151 1104 1150 1112 1144 1115 1136 1117 1133 1122M1165 1036 1160 1040 1157 1045 1157 1054 1149 1055 1143 1059 1140 1065M1162 1083 1157 1078 1156 1069 1147 1067 1140 1065M1099 1109 1104 1108 1110 1109M1110 1109 1118 1108 1121 1115 1128 1117 1133 1122M1102 1064 1098 1058 1088 1058 1085 1052 1081 1045M1102 1064 1109 1062 1116 1068 1123 1067 1130 1063M1124 1040 1118 1038 1113 1033 1107 1029 1099 1041 1094 1032 1087 1033M1124 1040 1126 1048 1134 1054 1131 1063M1087 1033 1084 1038 1081 1045M1087 1085 1091 1080 1091 1072 1101 1072 1102 1064M1067 1053 1076 1051 1081 1045M1110 1109 1115 1104 1119 1099 1118 1092 1116 1084 1117 1078 1120 1073 1127 1069 1130 1063M1087 1027 1087 1030 1087 1033M1133 1015 1130 1021 1125 1026 1129 1035 1124 1040M1140 1065 1135 1065 1131 1063" fill="none" stroke="#1e1e1e" stroke-width="1.7" stroke-linejoin="round" stroke-linecap="round"/></g>
<path d="M781.0 1040.0 L795.0 1036.1 L809.0 1036.5 L823.0 1034.9 L837.0 1028.3 L851.0 1024.5 L865.0 1027.8 L879.0 1035.6 L893.0 1039.6 L907.0 1040.4 L921.0 1033.8 L935.0 1030.5 L949.0 1025.8 L963.0 1026.5 L977.0 1030.8 L991.0 1036.1 L1005.0 1041.4 L1019.0 1037.4 L1033.0 1032.0 L1047.0 1028.9 L1061.0 1026.7 L1075.0 1032.2 L1089.0 1038.6 L1103.0 1040.2 L1117.0 1037.4 L1131.0 1032.4 L1145.0 1024.6 L1159.0 1046.0" fill="none" stroke="#191919" stroke-width="1.5" />
<path d="M1159.0 1188.0 L1145.0 1195.7 L1131.0 1194.0 L1117.0 1186.6 L1103.0 1183.0 L1089.0 1190.9 L1075.0 1191.7 L1061.0 1195.1 L1047.0 1188.8 L1033.0 1186.6 L1019.0 1190.5 L1005.0 1198.2 L991.0 1191.1 L977.0 1188.4 L963.0 1189.8 L949.0 1193.1 L935.0 1194.0 L921.0 1190.2 L907.0 1184.5 L893.0 1185.2 L879.0 1192.3 L865.0 1196.6 L851.0 1184.7 L837.0 1181.4 L823.0 1189.9 L809.0 1192.7 L795.0 1193.7 L781.0 1204.0" fill="none" stroke="#464646" stroke-width="1" />
<rect x="1159" y="909" width="6.5" height="540" fill="#eeeeee" />
<line x1="1159" y1="909" x2="1159" y2="1448" stroke="#222" stroke-width="0.9" />
<line x1="1165.5" y1="909" x2="1165.5" y2="1448" stroke="#222" stroke-width="0.9" />
<rect x="1165.9" y="908" width="26.5" height="239.5" fill="url(#p40)" />
<path d="M1183 908 L1192 908 L1192 925 L1187 925 L1187 915 L1183 915Z" fill="#f0f0f0" stroke="#222" stroke-width="0.8" />
<rect x="1165.5" y="1148" width="34.5" height="60" fill="url(#p41)" />
<rect x="1165.5" y="1148" width="34.5" height="60" fill="url(#g27)" />
<line x1="1165.5" y1="1148" x2="1200" y2="1148" stroke="#222" stroke-width="0.9" />
<line x1="1165.5" y1="1208" x2="1200" y2="1208" stroke="#222" stroke-width="0.9" />
<path d="M1200 1122 C1203 1133 1210 1138 1219 1139 L1219 1214 C1210 1216 1206 1222 1205 1232 L1198.5 1232 L1198.5 1122Z" fill="url(#p42)" stroke="#222" stroke-width="1" />
<rect x="1219" y="1155" width="30" height="44.5" fill="url(#p43)" />
<rect x="1219" y="1155" width="30" height="44.5" fill="url(#g28)" />
<path d="M1249 1155 L1219 1155 M1219 1199.5 L1249 1199.5 M1249 1155 L1247 1165 L1250 1176 L1247 1188 L1249 1199.5" fill="none" stroke="#222" stroke-width="0.9" />
<rect x="1165.5" y="1209.5" width="25.5" height="67" fill="url(#p44)" />
<rect x="1191" y="1209.5" width="7.5" height="67" fill="#b9b9b9" />
<line x1="1198.5" y1="1209" x2="1198.5" y2="1251" stroke="#222" stroke-width="0.9" />
<path d="M1159 1276.5 L1198 1276.5 L1198 1251 L1206 1251 L1206 1283 L1165.5 1283" fill="#f0f0f0" stroke="#222" stroke-width="0.9" />
<path d="M1165.5 1393.7 L1206 1393.7 L1206 1420 L1198 1420 L1198 1400 L1165.5 1400Z" fill="#f0f0f0" stroke="#222" stroke-width="0.9" />
<rect x="1165.5" y="1400" width="25.5" height="48" fill="url(#p45)" />
<rect x="1191" y="1400" width="7" height="48" fill="#c8c8c8" />
<line x1="1198" y1="1420" x2="1198" y2="1448" stroke="#222" stroke-width="0.9" />
<ellipse cx="1208" cy="1264" rx="2.5" ry="6" fill="#e6e6e6" stroke="#222" stroke-width="0.8" />
<ellipse cx="1208" cy="1407" rx="2.5" ry="6" fill="#e6e6e6" stroke="#222" stroke-width="0.8" />
<ellipse cx="1199" cy="1435" rx="3" ry="7" fill="#ebebeb" stroke="#222" stroke-width="0.7" />
<path d="M737.5 1451.7 L1197.5 1448.5 L1197.5 1455.5 L737.5 1458.8Z" fill="#fafafa" stroke="#222" stroke-width="1" />
<path d="M663.6 1158 L715.6 1158 L715.6 1144.3 C728 1143 737 1137 737.8 1128 L745.8 1128 L745.8 1152.5 L781.2 1152.5 L781.2 1213 L745.8 1213 L745.8 1235 L738.5 1235 C737 1228 728 1223.5 715.6 1223.2 L715.6 1207.2 L663.6 1207.2Z" fill="url(#p46)" stroke="#222" stroke-width="1" />
<path d="M663.6 1169.5 L738 1169.5 C746 1169 750 1165 751 1158 M663.6 1194.6 L742 1194.6 C750 1195 753 1200 754 1208" fill="none" stroke="#222" stroke-width="1.6" />
<rect x="739" y="1128" width="6.8" height="24.5" fill="url(#p32)" stroke="#222" stroke-width="0.8"/>
<rect x="739" y="1214" width="6.8" height="21" fill="url(#p32)" stroke="#222" stroke-width="0.8"/>
<rect x="663.6" y="1170.5" width="85" height="23" fill="url(#g29)" />
<rect x="765" y="1153" width="4" height="60" fill="#3c3c3c" />
<rect x="775" y="1170" width="5.5" height="22" fill="#c8c8c8" />
<rect x="745.8" y="1214" width="28.4" height="237" fill="url(#p35)" />
<rect x="745.8" y="1214" width="28.4" height="237" fill="url(#g30)" />
<line x1="745.8" y1="1214" x2="745.8" y2="1451" stroke="#222" stroke-width="0.9" />
<rect x="747" y="1432" width="5" height="19" fill="#f5f5f5" />
<rect x="775" y="1427" width="6" height="8" fill="#ebebeb" />
<rect x="776" y="1438" width="10" height="12" fill="#464646" />
<ellipse cx="738" cy="1440" rx="2.5" ry="6" fill="#ebebeb" stroke="#222" stroke-width="0.7" />
<ellipse cx="738" cy="920" rx="2.5" ry="7" fill="#ebebeb" stroke="#222" stroke-width="0.7" />
<ellipse cx="1201" cy="925" rx="2" ry="6" fill="#ebebeb" stroke="#222" stroke-width="0.7" />
<text transform="translate(752 889) scale(0.93 1)" font-size="45" >Fig.</text>
<text transform="translate(836 889) scale(0.93 1)" font-size="45" >5.</text>
<text x="942" y="897" font-size="25" >A</text>
<text x="948" y="1480" font-size="25" >B</text>
<text x="693" y="1151" font-size="25" >C</text>
<text x="1222" y="1138" font-size="25" >D</text>
<text x="1166" y="1337.5" font-size="25" >E</text>
<text x="753" y="931" font-size="17" >a</text>
<text x="799" y="929" font-size="17" >c</text>
<text x="1121" y="931" font-size="21" >d</text>
<text x="756" y="1421" font-size="17" >b</text>
<text x="808" y="970" font-size="15" >1</text>
<text x="946" y="970" font-size="15" >2</text>
<text x="1082" y="970" font-size="15" >3</text></svg></body></html>
